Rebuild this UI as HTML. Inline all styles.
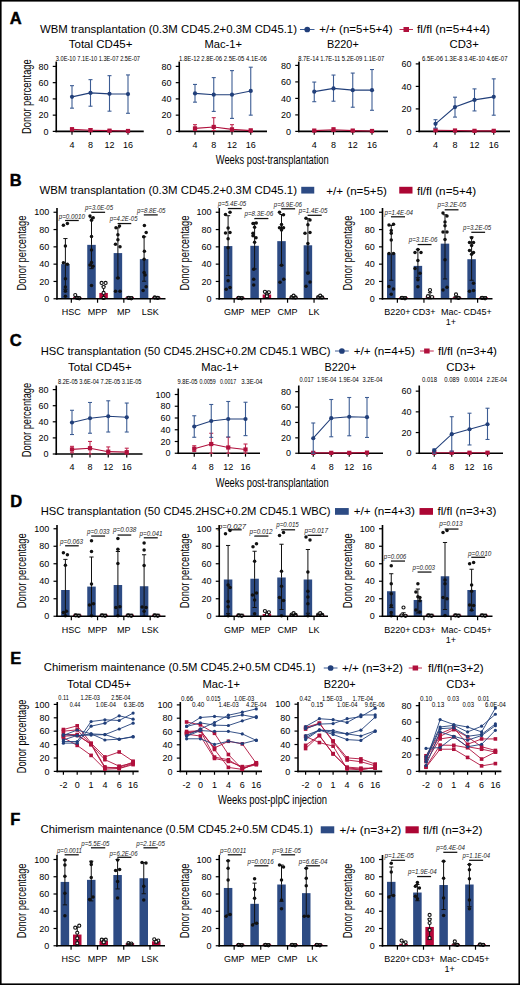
<!DOCTYPE html>
<html><head><meta charset="utf-8"><style>
html,body{margin:0;padding:0;background:#fff;}
svg{display:block;}
text{font-family:"Liberation Sans", sans-serif;}
</style></head><body>
<svg width="520" height="985" viewBox="0 0 520 985">
<rect width="520" height="985" fill="#fff"/>
<rect x="0.8" y="0.8" width="518.4" height="983.4" fill="none" stroke="#000" stroke-width="1.6"/>
<text x="9.8" y="23.5" font-size="16.5" font-weight="bold" fill="#000" stroke="#000" stroke-width="0.45">A</text>
<text x="40" y="33" font-size="11" textLength="257" lengthAdjust="spacingAndGlyphs">WBM transplantation (0.3M CD45.2+0.3M CD45.1)</text>
<line x1="300" y1="29.5" x2="314.5" y2="29.5" stroke="#3d5d94" stroke-width="1.0"/>
<circle cx="307.25" cy="29.5" r="2.85" fill="#213f7a"/>
<text x="319.3" y="33" font-size="11" textLength="73.2" lengthAdjust="spacingAndGlyphs">+/+ (n=5+5+4)</text>
<line x1="399.5" y1="29.5" x2="413" y2="29.5" stroke="#c02a50" stroke-width="1.0"/>
<rect x="403.5" y="27" width="5.5" height="5" fill="#b0103c"/>
<text x="417" y="33" font-size="11" textLength="73" lengthAdjust="spacingAndGlyphs">fl/fl (n=5+4+4)</text>
<text x="68.75" y="48.25" font-size="11" textLength="63.75" lengthAdjust="spacingAndGlyphs">Total CD45+</text>
<text x="204.5" y="48.25" font-size="11" textLength="37.5" lengthAdjust="spacingAndGlyphs">Mac-1+</text>
<text x="327" y="48.25" font-size="11" textLength="31.75" lengthAdjust="spacingAndGlyphs">B220+</text>
<text x="449.5" y="48.25" font-size="11" textLength="29.25" lengthAdjust="spacingAndGlyphs">CD3+</text>
<text x="31.4" y="96.6" font-size="12.5" text-anchor="middle" textLength="74.6" lengthAdjust="spacingAndGlyphs" transform="rotate(-90 31.4 96.6)">Donor percentage</text>
<line x1="56.25" y1="61.6" x2="56.25" y2="132.2" stroke="#000" stroke-width="1.6"/>
<line x1="52.75" y1="131.4" x2="56.25" y2="131.4" stroke="#000" stroke-width="1.2"/>
<text x="48.55" y="134.6" font-size="9" text-anchor="end">0</text>
<line x1="52.75" y1="115.15" x2="56.25" y2="115.15" stroke="#000" stroke-width="1.2"/>
<text x="48.55" y="118.35" font-size="9" text-anchor="end">20</text>
<line x1="52.75" y1="98.9" x2="56.25" y2="98.9" stroke="#000" stroke-width="1.2"/>
<text x="48.55" y="102.1" font-size="9" text-anchor="end">40</text>
<line x1="52.75" y1="82.65" x2="56.25" y2="82.65" stroke="#000" stroke-width="1.2"/>
<text x="48.55" y="85.85" font-size="9" text-anchor="end">60</text>
<line x1="52.75" y1="66.4" x2="56.25" y2="66.4" stroke="#000" stroke-width="1.2"/>
<text x="48.55" y="69.6" font-size="9" text-anchor="end">80</text>
<line x1="55.45" y1="131.4" x2="143.75" y2="131.4" stroke="#000" stroke-width="1.6"/>
<line x1="72" y1="131.4" x2="72" y2="134.8" stroke="#000" stroke-width="1.2"/>
<text x="72" y="147.9" font-size="9" text-anchor="middle">4</text>
<line x1="90.5" y1="131.4" x2="90.5" y2="134.8" stroke="#000" stroke-width="1.2"/>
<text x="90.5" y="147.9" font-size="9" text-anchor="middle">8</text>
<line x1="109.5" y1="131.4" x2="109.5" y2="134.8" stroke="#000" stroke-width="1.2"/>
<text x="109.5" y="147.9" font-size="9" text-anchor="middle">12</text>
<line x1="128" y1="131.4" x2="128" y2="134.8" stroke="#000" stroke-width="1.2"/>
<text x="128" y="147.9" font-size="9" text-anchor="middle">16</text>
<line x1="72" y1="129.37" x2="72" y2="127.74" stroke="#c02a50" stroke-width="1.1"/>
<line x1="70" y1="127.74" x2="74" y2="127.74" stroke="#c02a50" stroke-width="1.1"/>
<line x1="72" y1="129.37" x2="72" y2="130.59" stroke="#c02a50" stroke-width="1.1"/>
<line x1="70" y1="130.59" x2="74" y2="130.59" stroke="#c02a50" stroke-width="1.1"/>
<line x1="90.5" y1="130.18" x2="90.5" y2="128.56" stroke="#c02a50" stroke-width="1.1"/>
<line x1="88.5" y1="128.56" x2="92.5" y2="128.56" stroke="#c02a50" stroke-width="1.1"/>
<line x1="90.5" y1="130.18" x2="90.5" y2="130.99" stroke="#c02a50" stroke-width="1.1"/>
<line x1="88.5" y1="130.99" x2="92.5" y2="130.99" stroke="#c02a50" stroke-width="1.1"/>
<line x1="109.5" y1="130.67" x2="109.5" y2="129.94" stroke="#c02a50" stroke-width="1.1"/>
<line x1="107.5" y1="129.94" x2="111.5" y2="129.94" stroke="#c02a50" stroke-width="1.1"/>
<line x1="109.5" y1="130.67" x2="109.5" y2="131.16" stroke="#c02a50" stroke-width="1.1"/>
<line x1="107.5" y1="131.16" x2="111.5" y2="131.16" stroke="#c02a50" stroke-width="1.1"/>
<line x1="128" y1="130.99" x2="128" y2="130.59" stroke="#c02a50" stroke-width="1.1"/>
<line x1="126" y1="130.59" x2="130" y2="130.59" stroke="#c02a50" stroke-width="1.1"/>
<line x1="128" y1="130.99" x2="128" y2="131.24" stroke="#c02a50" stroke-width="1.1"/>
<line x1="126" y1="131.24" x2="130" y2="131.24" stroke="#c02a50" stroke-width="1.1"/>
<path d="M72,129.37 L90.5,130.18 L109.5,130.67 L128,130.99" stroke="#b0103c" stroke-width="1.1" fill="none"/>
<rect x="69.9" y="127.27" width="4.2" height="4.2" fill="#b0103c"/>
<rect x="88.4" y="128.08" width="4.2" height="4.2" fill="#b0103c"/>
<rect x="107.4" y="128.57" width="4.2" height="4.2" fill="#b0103c"/>
<rect x="125.9" y="128.89" width="4.2" height="4.2" fill="#b0103c"/>
<line x1="72" y1="96.87" x2="72" y2="85.66" stroke="#3d5d94" stroke-width="1.1"/>
<line x1="70" y1="85.66" x2="74" y2="85.66" stroke="#3d5d94" stroke-width="1.1"/>
<line x1="72" y1="96.87" x2="72" y2="108.16" stroke="#3d5d94" stroke-width="1.1"/>
<line x1="70" y1="108.16" x2="74" y2="108.16" stroke="#3d5d94" stroke-width="1.1"/>
<line x1="90.5" y1="92.89" x2="90.5" y2="79.64" stroke="#3d5d94" stroke-width="1.1"/>
<line x1="88.5" y1="79.64" x2="92.5" y2="79.64" stroke="#3d5d94" stroke-width="1.1"/>
<line x1="90.5" y1="92.89" x2="90.5" y2="106.21" stroke="#3d5d94" stroke-width="1.1"/>
<line x1="88.5" y1="106.21" x2="92.5" y2="106.21" stroke="#3d5d94" stroke-width="1.1"/>
<line x1="109.5" y1="93.86" x2="109.5" y2="75.66" stroke="#3d5d94" stroke-width="1.1"/>
<line x1="107.5" y1="75.66" x2="111.5" y2="75.66" stroke="#3d5d94" stroke-width="1.1"/>
<line x1="109.5" y1="93.86" x2="109.5" y2="111.17" stroke="#3d5d94" stroke-width="1.1"/>
<line x1="107.5" y1="111.17" x2="111.5" y2="111.17" stroke="#3d5d94" stroke-width="1.1"/>
<line x1="128" y1="94.03" x2="128" y2="74.93" stroke="#3d5d94" stroke-width="1.1"/>
<line x1="126" y1="74.93" x2="130" y2="74.93" stroke="#3d5d94" stroke-width="1.1"/>
<line x1="128" y1="94.03" x2="128" y2="113.28" stroke="#3d5d94" stroke-width="1.1"/>
<line x1="126" y1="113.28" x2="130" y2="113.28" stroke="#3d5d94" stroke-width="1.1"/>
<path d="M72,96.87 L90.5,92.89 L109.5,93.86 L128,94.03" stroke="#213f7a" stroke-width="1.1" fill="none"/>
<circle cx="72" cy="96.87" r="2.1" fill="#213f7a"/>
<circle cx="90.5" cy="92.89" r="2.1" fill="#213f7a"/>
<circle cx="109.5" cy="93.86" r="2.1" fill="#213f7a"/>
<circle cx="128" cy="94.03" r="2.1" fill="#213f7a"/>
<text x="55.8" y="60.5" font-size="6.6" textLength="84.2" lengthAdjust="spacingAndGlyphs">3.0E-10 7.1E-10 1.3E-07 2.5E-07</text>
<line x1="179.25" y1="61.6" x2="179.25" y2="132.2" stroke="#000" stroke-width="1.6"/>
<line x1="175.75" y1="131.4" x2="179.25" y2="131.4" stroke="#000" stroke-width="1.2"/>
<text x="171.55" y="134.6" font-size="9" text-anchor="end">0</text>
<line x1="175.75" y1="115.15" x2="179.25" y2="115.15" stroke="#000" stroke-width="1.2"/>
<text x="171.55" y="118.35" font-size="9" text-anchor="end">20</text>
<line x1="175.75" y1="98.9" x2="179.25" y2="98.9" stroke="#000" stroke-width="1.2"/>
<text x="171.55" y="102.1" font-size="9" text-anchor="end">40</text>
<line x1="175.75" y1="82.65" x2="179.25" y2="82.65" stroke="#000" stroke-width="1.2"/>
<text x="171.55" y="85.85" font-size="9" text-anchor="end">60</text>
<line x1="175.75" y1="66.4" x2="179.25" y2="66.4" stroke="#000" stroke-width="1.2"/>
<text x="171.55" y="69.6" font-size="9" text-anchor="end">80</text>
<line x1="178.45" y1="131.4" x2="267" y2="131.4" stroke="#000" stroke-width="1.6"/>
<line x1="195" y1="131.4" x2="195" y2="134.8" stroke="#000" stroke-width="1.2"/>
<text x="195" y="147.9" font-size="9" text-anchor="middle">4</text>
<line x1="213.75" y1="131.4" x2="213.75" y2="134.8" stroke="#000" stroke-width="1.2"/>
<text x="213.75" y="147.9" font-size="9" text-anchor="middle">8</text>
<line x1="232" y1="131.4" x2="232" y2="134.8" stroke="#000" stroke-width="1.2"/>
<text x="232" y="147.9" font-size="9" text-anchor="middle">12</text>
<line x1="250.75" y1="131.4" x2="250.75" y2="134.8" stroke="#000" stroke-width="1.2"/>
<text x="250.75" y="147.9" font-size="9" text-anchor="middle">16</text>
<line x1="195" y1="128.39" x2="195" y2="124.66" stroke="#c02a50" stroke-width="1.1"/>
<line x1="193" y1="124.66" x2="197" y2="124.66" stroke="#c02a50" stroke-width="1.1"/>
<line x1="195" y1="128.39" x2="195" y2="130.59" stroke="#c02a50" stroke-width="1.1"/>
<line x1="193" y1="130.59" x2="197" y2="130.59" stroke="#c02a50" stroke-width="1.1"/>
<line x1="213.75" y1="126.93" x2="213.75" y2="117.67" stroke="#c02a50" stroke-width="1.1"/>
<line x1="211.75" y1="117.67" x2="215.75" y2="117.67" stroke="#c02a50" stroke-width="1.1"/>
<line x1="213.75" y1="126.93" x2="213.75" y2="130.59" stroke="#c02a50" stroke-width="1.1"/>
<line x1="211.75" y1="130.59" x2="215.75" y2="130.59" stroke="#c02a50" stroke-width="1.1"/>
<line x1="232" y1="129.37" x2="232" y2="124.66" stroke="#c02a50" stroke-width="1.1"/>
<line x1="230" y1="124.66" x2="234" y2="124.66" stroke="#c02a50" stroke-width="1.1"/>
<line x1="232" y1="129.37" x2="232" y2="130.99" stroke="#c02a50" stroke-width="1.1"/>
<line x1="230" y1="130.99" x2="234" y2="130.99" stroke="#c02a50" stroke-width="1.1"/>
<line x1="250.75" y1="130.59" x2="250.75" y2="128.96" stroke="#c02a50" stroke-width="1.1"/>
<line x1="248.75" y1="128.96" x2="252.75" y2="128.96" stroke="#c02a50" stroke-width="1.1"/>
<line x1="250.75" y1="130.59" x2="250.75" y2="131.16" stroke="#c02a50" stroke-width="1.1"/>
<line x1="248.75" y1="131.16" x2="252.75" y2="131.16" stroke="#c02a50" stroke-width="1.1"/>
<path d="M195,128.39 L213.75,126.93 L232,129.37 L250.75,130.59" stroke="#b0103c" stroke-width="1.1" fill="none"/>
<rect x="192.9" y="126.29" width="4.2" height="4.2" fill="#b0103c"/>
<rect x="211.65" y="124.83" width="4.2" height="4.2" fill="#b0103c"/>
<rect x="229.9" y="127.27" width="4.2" height="4.2" fill="#b0103c"/>
<rect x="248.65" y="128.49" width="4.2" height="4.2" fill="#b0103c"/>
<line x1="195" y1="93.38" x2="195" y2="84.44" stroke="#3d5d94" stroke-width="1.1"/>
<line x1="193" y1="84.44" x2="197" y2="84.44" stroke="#3d5d94" stroke-width="1.1"/>
<line x1="195" y1="93.38" x2="195" y2="102.15" stroke="#3d5d94" stroke-width="1.1"/>
<line x1="193" y1="102.15" x2="197" y2="102.15" stroke="#3d5d94" stroke-width="1.1"/>
<line x1="213.75" y1="94.68" x2="213.75" y2="77.61" stroke="#3d5d94" stroke-width="1.1"/>
<line x1="211.75" y1="77.61" x2="215.75" y2="77.61" stroke="#3d5d94" stroke-width="1.1"/>
<line x1="213.75" y1="94.68" x2="213.75" y2="111.41" stroke="#3d5d94" stroke-width="1.1"/>
<line x1="211.75" y1="111.41" x2="215.75" y2="111.41" stroke="#3d5d94" stroke-width="1.1"/>
<line x1="232" y1="94.68" x2="232" y2="70.62" stroke="#3d5d94" stroke-width="1.1"/>
<line x1="230" y1="70.62" x2="234" y2="70.62" stroke="#3d5d94" stroke-width="1.1"/>
<line x1="232" y1="94.68" x2="232" y2="118.4" stroke="#3d5d94" stroke-width="1.1"/>
<line x1="230" y1="118.4" x2="234" y2="118.4" stroke="#3d5d94" stroke-width="1.1"/>
<line x1="250.75" y1="90.94" x2="250.75" y2="67.21" stroke="#3d5d94" stroke-width="1.1"/>
<line x1="248.75" y1="67.21" x2="252.75" y2="67.21" stroke="#3d5d94" stroke-width="1.1"/>
<line x1="250.75" y1="90.94" x2="250.75" y2="115.15" stroke="#3d5d94" stroke-width="1.1"/>
<line x1="248.75" y1="115.15" x2="252.75" y2="115.15" stroke="#3d5d94" stroke-width="1.1"/>
<path d="M195,93.38 L213.75,94.68 L232,94.68 L250.75,90.94" stroke="#213f7a" stroke-width="1.1" fill="none"/>
<circle cx="195" cy="93.38" r="2.1" fill="#213f7a"/>
<circle cx="213.75" cy="94.68" r="2.1" fill="#213f7a"/>
<circle cx="232" cy="94.68" r="2.1" fill="#213f7a"/>
<circle cx="250.75" cy="90.94" r="2.1" fill="#213f7a"/>
<text x="179" y="60.5" font-size="6.6" textLength="87.75" lengthAdjust="spacingAndGlyphs">1.8E-12 2.8E-06 2.5E-05 4.1E-06</text>
<line x1="298.75" y1="61.6" x2="298.75" y2="132.2" stroke="#000" stroke-width="1.6"/>
<line x1="295.25" y1="131.4" x2="298.75" y2="131.4" stroke="#000" stroke-width="1.2"/>
<text x="291.05" y="134.6" font-size="9" text-anchor="end">0</text>
<line x1="295.25" y1="114.9" x2="298.75" y2="114.9" stroke="#000" stroke-width="1.2"/>
<text x="291.05" y="118.1" font-size="9" text-anchor="end">20</text>
<line x1="295.25" y1="98.4" x2="298.75" y2="98.4" stroke="#000" stroke-width="1.2"/>
<text x="291.05" y="101.6" font-size="9" text-anchor="end">40</text>
<line x1="295.25" y1="81.9" x2="298.75" y2="81.9" stroke="#000" stroke-width="1.2"/>
<text x="291.05" y="85.1" font-size="9" text-anchor="end">60</text>
<line x1="295.25" y1="65.4" x2="298.75" y2="65.4" stroke="#000" stroke-width="1.2"/>
<text x="291.05" y="68.6" font-size="9" text-anchor="end">80</text>
<line x1="297.95" y1="131.4" x2="388" y2="131.4" stroke="#000" stroke-width="1.6"/>
<line x1="314.25" y1="131.4" x2="314.25" y2="134.8" stroke="#000" stroke-width="1.2"/>
<text x="314.25" y="147.9" font-size="9" text-anchor="middle">4</text>
<line x1="333.5" y1="131.4" x2="333.5" y2="134.8" stroke="#000" stroke-width="1.2"/>
<text x="333.5" y="147.9" font-size="9" text-anchor="middle">8</text>
<line x1="352.75" y1="131.4" x2="352.75" y2="134.8" stroke="#000" stroke-width="1.2"/>
<text x="352.75" y="147.9" font-size="9" text-anchor="middle">12</text>
<line x1="372" y1="131.4" x2="372" y2="134.8" stroke="#000" stroke-width="1.2"/>
<text x="372" y="147.9" font-size="9" text-anchor="middle">16</text>
<line x1="314.25" y1="130.58" x2="314.25" y2="130.16" stroke="#c02a50" stroke-width="1.1"/>
<line x1="312.25" y1="130.16" x2="316.25" y2="130.16" stroke="#c02a50" stroke-width="1.1"/>
<line x1="314.25" y1="130.58" x2="314.25" y2="130.99" stroke="#c02a50" stroke-width="1.1"/>
<line x1="312.25" y1="130.99" x2="316.25" y2="130.99" stroke="#c02a50" stroke-width="1.1"/>
<line x1="333.5" y1="129.75" x2="333.5" y2="127.69" stroke="#c02a50" stroke-width="1.1"/>
<line x1="331.5" y1="127.69" x2="335.5" y2="127.69" stroke="#c02a50" stroke-width="1.1"/>
<line x1="333.5" y1="129.75" x2="333.5" y2="130.99" stroke="#c02a50" stroke-width="1.1"/>
<line x1="331.5" y1="130.99" x2="335.5" y2="130.99" stroke="#c02a50" stroke-width="1.1"/>
<line x1="352.75" y1="130.58" x2="352.75" y2="129.75" stroke="#c02a50" stroke-width="1.1"/>
<line x1="350.75" y1="129.75" x2="354.75" y2="129.75" stroke="#c02a50" stroke-width="1.1"/>
<line x1="352.75" y1="130.58" x2="352.75" y2="131.15" stroke="#c02a50" stroke-width="1.1"/>
<line x1="350.75" y1="131.15" x2="354.75" y2="131.15" stroke="#c02a50" stroke-width="1.1"/>
<line x1="372" y1="130.99" x2="372" y2="130.58" stroke="#c02a50" stroke-width="1.1"/>
<line x1="370" y1="130.58" x2="374" y2="130.58" stroke="#c02a50" stroke-width="1.1"/>
<line x1="372" y1="130.99" x2="372" y2="131.24" stroke="#c02a50" stroke-width="1.1"/>
<line x1="370" y1="131.24" x2="374" y2="131.24" stroke="#c02a50" stroke-width="1.1"/>
<path d="M314.25,130.58 L333.5,129.75 L352.75,130.58 L372,130.99" stroke="#b0103c" stroke-width="1.1" fill="none"/>
<rect x="312.15" y="128.48" width="4.2" height="4.2" fill="#b0103c"/>
<rect x="331.4" y="127.65" width="4.2" height="4.2" fill="#b0103c"/>
<rect x="350.65" y="128.48" width="4.2" height="4.2" fill="#b0103c"/>
<rect x="369.9" y="128.89" width="4.2" height="4.2" fill="#b0103c"/>
<line x1="314.25" y1="91.64" x2="314.25" y2="82.07" stroke="#3d5d94" stroke-width="1.1"/>
<line x1="312.25" y1="82.07" x2="316.25" y2="82.07" stroke="#3d5d94" stroke-width="1.1"/>
<line x1="314.25" y1="91.64" x2="314.25" y2="101.7" stroke="#3d5d94" stroke-width="1.1"/>
<line x1="312.25" y1="101.7" x2="316.25" y2="101.7" stroke="#3d5d94" stroke-width="1.1"/>
<line x1="333.5" y1="88.42" x2="333.5" y2="75.05" stroke="#3d5d94" stroke-width="1.1"/>
<line x1="331.5" y1="75.05" x2="335.5" y2="75.05" stroke="#3d5d94" stroke-width="1.1"/>
<line x1="333.5" y1="88.42" x2="333.5" y2="101.21" stroke="#3d5d94" stroke-width="1.1"/>
<line x1="331.5" y1="101.21" x2="335.5" y2="101.21" stroke="#3d5d94" stroke-width="1.1"/>
<line x1="352.75" y1="90.15" x2="352.75" y2="73.07" stroke="#3d5d94" stroke-width="1.1"/>
<line x1="350.75" y1="73.07" x2="354.75" y2="73.07" stroke="#3d5d94" stroke-width="1.1"/>
<line x1="352.75" y1="90.15" x2="352.75" y2="107.23" stroke="#3d5d94" stroke-width="1.1"/>
<line x1="350.75" y1="107.23" x2="354.75" y2="107.23" stroke="#3d5d94" stroke-width="1.1"/>
<line x1="372" y1="90.15" x2="372" y2="69.53" stroke="#3d5d94" stroke-width="1.1"/>
<line x1="370" y1="69.53" x2="374" y2="69.53" stroke="#3d5d94" stroke-width="1.1"/>
<line x1="372" y1="90.15" x2="372" y2="110.28" stroke="#3d5d94" stroke-width="1.1"/>
<line x1="370" y1="110.28" x2="374" y2="110.28" stroke="#3d5d94" stroke-width="1.1"/>
<path d="M314.25,91.64 L333.5,88.42 L352.75,90.15 L372,90.15" stroke="#213f7a" stroke-width="1.1" fill="none"/>
<circle cx="314.25" cy="91.64" r="2.1" fill="#213f7a"/>
<circle cx="333.5" cy="88.42" r="2.1" fill="#213f7a"/>
<circle cx="352.75" cy="90.15" r="2.1" fill="#213f7a"/>
<circle cx="372" cy="90.15" r="2.1" fill="#213f7a"/>
<text x="298.25" y="60.5" font-size="6.6" textLength="86" lengthAdjust="spacingAndGlyphs">8.7E-14 1.7E-11 5.2E-09 1.1E-07</text>
<line x1="419.25" y1="61.6" x2="419.25" y2="132.2" stroke="#000" stroke-width="1.6"/>
<line x1="415.75" y1="131.4" x2="419.25" y2="131.4" stroke="#000" stroke-width="1.2"/>
<text x="411.55" y="134.6" font-size="9" text-anchor="end">0</text>
<line x1="415.75" y1="108.9" x2="419.25" y2="108.9" stroke="#000" stroke-width="1.2"/>
<text x="411.55" y="112.1" font-size="9" text-anchor="end">20</text>
<line x1="415.75" y1="86.4" x2="419.25" y2="86.4" stroke="#000" stroke-width="1.2"/>
<text x="411.55" y="89.6" font-size="9" text-anchor="end">40</text>
<line x1="415.75" y1="63.9" x2="419.25" y2="63.9" stroke="#000" stroke-width="1.2"/>
<text x="411.55" y="67.1" font-size="9" text-anchor="end">60</text>
<line x1="418.45" y1="131.4" x2="510" y2="131.4" stroke="#000" stroke-width="1.6"/>
<line x1="435.5" y1="131.4" x2="435.5" y2="134.8" stroke="#000" stroke-width="1.2"/>
<text x="435.5" y="147.9" font-size="9" text-anchor="middle">4</text>
<line x1="455" y1="131.4" x2="455" y2="134.8" stroke="#000" stroke-width="1.2"/>
<text x="455" y="147.9" font-size="9" text-anchor="middle">8</text>
<line x1="474.5" y1="131.4" x2="474.5" y2="134.8" stroke="#000" stroke-width="1.2"/>
<text x="474.5" y="147.9" font-size="9" text-anchor="middle">12</text>
<line x1="493.75" y1="131.4" x2="493.75" y2="134.8" stroke="#000" stroke-width="1.2"/>
<text x="493.75" y="147.9" font-size="9" text-anchor="middle">16</text>
<line x1="435.5" y1="130.28" x2="435.5" y2="129.15" stroke="#c02a50" stroke-width="1.1"/>
<line x1="433.5" y1="129.15" x2="437.5" y2="129.15" stroke="#c02a50" stroke-width="1.1"/>
<line x1="435.5" y1="130.28" x2="435.5" y2="131.06" stroke="#c02a50" stroke-width="1.1"/>
<line x1="433.5" y1="131.06" x2="437.5" y2="131.06" stroke="#c02a50" stroke-width="1.1"/>
<line x1="455" y1="130.5" x2="455" y2="129.71" stroke="#c02a50" stroke-width="1.1"/>
<line x1="453" y1="129.71" x2="457" y2="129.71" stroke="#c02a50" stroke-width="1.1"/>
<line x1="455" y1="130.5" x2="455" y2="131.06" stroke="#c02a50" stroke-width="1.1"/>
<line x1="453" y1="131.06" x2="457" y2="131.06" stroke="#c02a50" stroke-width="1.1"/>
<line x1="474.5" y1="130.84" x2="474.5" y2="130.28" stroke="#c02a50" stroke-width="1.1"/>
<line x1="472.5" y1="130.28" x2="476.5" y2="130.28" stroke="#c02a50" stroke-width="1.1"/>
<line x1="474.5" y1="130.84" x2="474.5" y2="131.18" stroke="#c02a50" stroke-width="1.1"/>
<line x1="472.5" y1="131.18" x2="476.5" y2="131.18" stroke="#c02a50" stroke-width="1.1"/>
<line x1="493.75" y1="130.84" x2="493.75" y2="130.28" stroke="#c02a50" stroke-width="1.1"/>
<line x1="491.75" y1="130.28" x2="495.75" y2="130.28" stroke="#c02a50" stroke-width="1.1"/>
<line x1="493.75" y1="130.84" x2="493.75" y2="131.18" stroke="#c02a50" stroke-width="1.1"/>
<line x1="491.75" y1="131.18" x2="495.75" y2="131.18" stroke="#c02a50" stroke-width="1.1"/>
<path d="M435.5,130.28 L455,130.5 L474.5,130.84 L493.75,130.84" stroke="#b0103c" stroke-width="1.1" fill="none"/>
<rect x="433.4" y="128.18" width="4.2" height="4.2" fill="#b0103c"/>
<rect x="452.9" y="128.4" width="4.2" height="4.2" fill="#b0103c"/>
<rect x="472.4" y="128.74" width="4.2" height="4.2" fill="#b0103c"/>
<rect x="491.65" y="128.74" width="4.2" height="4.2" fill="#b0103c"/>
<line x1="435.5" y1="123.86" x2="435.5" y2="119.7" stroke="#3d5d94" stroke-width="1.1"/>
<line x1="433.5" y1="119.7" x2="437.5" y2="119.7" stroke="#3d5d94" stroke-width="1.1"/>
<line x1="435.5" y1="123.86" x2="435.5" y2="128.03" stroke="#3d5d94" stroke-width="1.1"/>
<line x1="433.5" y1="128.03" x2="437.5" y2="128.03" stroke="#3d5d94" stroke-width="1.1"/>
<line x1="455" y1="107.1" x2="455" y2="97.2" stroke="#3d5d94" stroke-width="1.1"/>
<line x1="453" y1="97.2" x2="457" y2="97.2" stroke="#3d5d94" stroke-width="1.1"/>
<line x1="455" y1="107.1" x2="455" y2="117.11" stroke="#3d5d94" stroke-width="1.1"/>
<line x1="453" y1="117.11" x2="457" y2="117.11" stroke="#3d5d94" stroke-width="1.1"/>
<line x1="474.5" y1="99.9" x2="474.5" y2="88.88" stroke="#3d5d94" stroke-width="1.1"/>
<line x1="472.5" y1="88.88" x2="476.5" y2="88.88" stroke="#3d5d94" stroke-width="1.1"/>
<line x1="474.5" y1="99.9" x2="474.5" y2="110.93" stroke="#3d5d94" stroke-width="1.1"/>
<line x1="472.5" y1="110.93" x2="476.5" y2="110.93" stroke="#3d5d94" stroke-width="1.1"/>
<line x1="493.75" y1="96.86" x2="493.75" y2="78.86" stroke="#3d5d94" stroke-width="1.1"/>
<line x1="491.75" y1="78.86" x2="495.75" y2="78.86" stroke="#3d5d94" stroke-width="1.1"/>
<line x1="493.75" y1="96.86" x2="493.75" y2="115.2" stroke="#3d5d94" stroke-width="1.1"/>
<line x1="491.75" y1="115.2" x2="495.75" y2="115.2" stroke="#3d5d94" stroke-width="1.1"/>
<path d="M435.5,123.86 L455,107.1 L474.5,99.9 L493.75,96.86" stroke="#213f7a" stroke-width="1.1" fill="none"/>
<circle cx="435.5" cy="123.86" r="2.1" fill="#213f7a"/>
<circle cx="455" cy="107.1" r="2.1" fill="#213f7a"/>
<circle cx="474.5" cy="99.9" r="2.1" fill="#213f7a"/>
<circle cx="493.75" cy="96.86" r="2.1" fill="#213f7a"/>
<text x="422" y="60.5" font-size="6.6" textLength="85.5" lengthAdjust="spacingAndGlyphs">6.5E-06 1.3E-8 3.4E-10 4.6E-07</text>
<text x="215.75" y="163.75" font-size="12" textLength="113" lengthAdjust="spacingAndGlyphs">Weeks post-transplantation</text>
<text x="9.8" y="185.8" font-size="16.5" font-weight="bold" fill="#000" stroke="#000" stroke-width="0.45">B</text>
<text x="39.5" y="194.3" font-size="11" textLength="257.5" lengthAdjust="spacingAndGlyphs">WBM transplantation (0.3M CD45.2+0.3M CD45.1)</text>
<rect x="301.25" y="186.8" width="13" height="6.75" fill="#2d4b84"/>
<text x="326.25" y="194.5" font-size="11" textLength="60.75" lengthAdjust="spacingAndGlyphs">+/+ (n=5+5)</text>
<rect x="399.25" y="186.8" width="13.25" height="6.75" fill="#ac0634"/>
<text x="417" y="194.5" font-size="11" textLength="59.25" lengthAdjust="spacingAndGlyphs">fl/fl (n=5+4)</text>
<text x="26" y="253" font-size="12" text-anchor="middle" textLength="75" lengthAdjust="spacingAndGlyphs" transform="rotate(-90 26 253)">Donor percentage</text>
<line x1="57" y1="208" x2="57" y2="299.55" stroke="#000" stroke-width="1.6"/>
<line x1="53.5" y1="298.75" x2="57" y2="298.75" stroke="#000" stroke-width="1.2"/>
<text x="49.3" y="301.95" font-size="9" text-anchor="end">0</text>
<line x1="53.5" y1="281.45" x2="57" y2="281.45" stroke="#000" stroke-width="1.2"/>
<text x="49.3" y="284.65" font-size="9" text-anchor="end">20</text>
<line x1="53.5" y1="264.15" x2="57" y2="264.15" stroke="#000" stroke-width="1.2"/>
<text x="49.3" y="267.35" font-size="9" text-anchor="end">40</text>
<line x1="53.5" y1="246.85" x2="57" y2="246.85" stroke="#000" stroke-width="1.2"/>
<text x="49.3" y="250.05" font-size="9" text-anchor="end">60</text>
<line x1="53.5" y1="229.55" x2="57" y2="229.55" stroke="#000" stroke-width="1.2"/>
<text x="49.3" y="232.75" font-size="9" text-anchor="end">80</text>
<line x1="53.5" y1="212.25" x2="57" y2="212.25" stroke="#000" stroke-width="1.2"/>
<text x="49.3" y="215.45" font-size="9" text-anchor="end">100</text>
<rect x="61.15" y="264.15" width="8.5" height="34.6" fill="#2d4b84"/>
<line x1="65.4" y1="264.15" x2="65.4" y2="238.55" stroke="#111" stroke-width="1.0"/>
<line x1="63.3" y1="238.55" x2="67.5" y2="238.55" stroke="#111" stroke-width="1.0"/>
<line x1="65.4" y1="264.15" x2="65.4" y2="289.24" stroke="#111" stroke-width="1.0"/>
<line x1="63.3" y1="289.24" x2="67.5" y2="289.24" stroke="#111" stroke-width="1.0"/>
<circle cx="63.4" cy="225.22" r="1.75" fill="#111"/>
<circle cx="67.4" cy="223.5" r="1.75" fill="#111"/>
<circle cx="65.4" cy="245.99" r="1.75" fill="#111"/>
<circle cx="63.4" cy="262.85" r="1.75" fill="#111"/>
<circle cx="67.4" cy="264.15" r="1.75" fill="#111"/>
<circle cx="65.4" cy="278.86" r="1.75" fill="#111"/>
<circle cx="65.4" cy="286.99" r="1.75" fill="#111"/>
<circle cx="65.4" cy="291.22" r="1.75" fill="#111"/>
<circle cx="65.4" cy="296.24" r="1.75" fill="#111"/>
<rect x="73" y="297.15" width="8.5" height="1.6" fill="#b5073a"/>
<line x1="77.25" y1="297.15" x2="77.25" y2="297.02" stroke="#111" stroke-width="1.0"/>
<line x1="75.15" y1="297.02" x2="79.35" y2="297.02" stroke="#111" stroke-width="1.0"/>
<line x1="77.25" y1="297.15" x2="77.25" y2="298.75" stroke="#111" stroke-width="1.0"/>
<line x1="75.15" y1="298.75" x2="79.35" y2="298.75" stroke="#111" stroke-width="1.0"/>
<circle cx="75.25" cy="295.03" r="1.55" fill="#fff" stroke="#111" stroke-width="1.1"/>
<circle cx="77.25" cy="297.88" r="1.55" fill="#fff" stroke="#111" stroke-width="1.1"/>
<circle cx="79.25" cy="298.32" r="1.55" fill="#fff" stroke="#111" stroke-width="1.1"/>
<line x1="73.85" y1="296.85" x2="80.65" y2="296.85" stroke="#111" stroke-width="1.4"/>
<line x1="71.33" y1="298.75" x2="71.33" y2="302.75" stroke="#000" stroke-width="1.2"/>
<text x="71.33" y="315.25" font-size="9" text-anchor="middle">HSC</text>
<text x="58.75" y="218.9" font-size="6.3" font-style="italic" fill="#222" textLength="26.25" lengthAdjust="spacingAndGlyphs">p=0.0010</text>
<line x1="65.1" y1="220.5" x2="78.75" y2="220.5" stroke="#111" stroke-width="1.25"/>
<rect x="87.25" y="244.86" width="8.5" height="53.89" fill="#2d4b84"/>
<line x1="91.5" y1="244.86" x2="91.5" y2="217.79" stroke="#111" stroke-width="1.0"/>
<line x1="89.4" y1="217.79" x2="93.6" y2="217.79" stroke="#111" stroke-width="1.0"/>
<line x1="91.5" y1="244.86" x2="91.5" y2="268.65" stroke="#111" stroke-width="1.0"/>
<line x1="89.4" y1="268.65" x2="93.6" y2="268.65" stroke="#111" stroke-width="1.0"/>
<circle cx="90" cy="216.06" r="1.75" fill="#111"/>
<circle cx="93.2" cy="217.79" r="1.75" fill="#111"/>
<circle cx="91.5" cy="220.29" r="1.75" fill="#111"/>
<circle cx="91.5" cy="236.56" r="1.75" fill="#111"/>
<circle cx="91.5" cy="249.88" r="1.75" fill="#111"/>
<circle cx="91.5" cy="262.42" r="1.75" fill="#111"/>
<circle cx="90" cy="264.93" r="1.75" fill="#111"/>
<circle cx="93" cy="266.14" r="1.75" fill="#111"/>
<circle cx="91.5" cy="285.43" r="1.75" fill="#111"/>
<rect x="99.35" y="292.95" width="8.5" height="5.8" fill="#b5073a"/>
<line x1="103.6" y1="292.95" x2="103.6" y2="286.21" stroke="#111" stroke-width="1.0"/>
<line x1="101.5" y1="286.21" x2="105.7" y2="286.21" stroke="#111" stroke-width="1.0"/>
<line x1="103.6" y1="292.95" x2="103.6" y2="298.75" stroke="#111" stroke-width="1.0"/>
<line x1="101.5" y1="298.75" x2="105.7" y2="298.75" stroke="#111" stroke-width="1.0"/>
<circle cx="101.6" cy="282.92" r="1.55" fill="#fff" stroke="#111" stroke-width="1.1"/>
<circle cx="105.6" cy="282.92" r="1.55" fill="#fff" stroke="#111" stroke-width="1.1"/>
<circle cx="103.6" cy="286.99" r="1.55" fill="#fff" stroke="#111" stroke-width="1.1"/>
<circle cx="103.6" cy="292.95" r="1.55" fill="#fff" stroke="#111" stroke-width="1.1"/>
<circle cx="103.6" cy="297.88" r="1.55" fill="#fff" stroke="#111" stroke-width="1.1"/>
<line x1="97.55" y1="298.75" x2="97.55" y2="302.75" stroke="#000" stroke-width="1.2"/>
<text x="97.55" y="315.25" font-size="9" text-anchor="middle">MPP</text>
<text x="85" y="209.9" font-size="6.3" font-style="italic" fill="#222" textLength="28" lengthAdjust="spacingAndGlyphs">p=3.0E-05</text>
<line x1="91.2" y1="212.3" x2="105.1" y2="212.3" stroke="#111" stroke-width="1.25"/>
<rect x="113.65" y="253.08" width="8.5" height="45.67" fill="#2d4b84"/>
<line x1="117.9" y1="253.08" x2="117.9" y2="227.82" stroke="#111" stroke-width="1.0"/>
<line x1="115.8" y1="227.82" x2="120" y2="227.82" stroke="#111" stroke-width="1.0"/>
<line x1="117.9" y1="253.08" x2="117.9" y2="277.99" stroke="#111" stroke-width="1.0"/>
<line x1="115.8" y1="277.99" x2="120" y2="277.99" stroke="#111" stroke-width="1.0"/>
<circle cx="116" cy="227.82" r="1.75" fill="#111"/>
<circle cx="119.5" cy="226.09" r="1.75" fill="#111"/>
<circle cx="117.9" cy="234.74" r="1.75" fill="#111"/>
<circle cx="117.9" cy="239.84" r="1.75" fill="#111"/>
<circle cx="115.5" cy="244.34" r="1.75" fill="#111"/>
<circle cx="120" cy="246.85" r="1.75" fill="#111"/>
<circle cx="117.9" cy="277.99" r="1.75" fill="#111"/>
<circle cx="115.5" cy="291.22" r="1.75" fill="#111"/>
<circle cx="120" cy="291.22" r="1.75" fill="#111"/>
<rect x="125.5" y="297.15" width="8.5" height="1.6" fill="#b5073a"/>
<line x1="129.75" y1="297.15" x2="129.75" y2="297.45" stroke="#111" stroke-width="1.0"/>
<line x1="127.65" y1="297.45" x2="131.85" y2="297.45" stroke="#111" stroke-width="1.0"/>
<line x1="129.75" y1="297.15" x2="129.75" y2="298.75" stroke="#111" stroke-width="1.0"/>
<line x1="127.65" y1="298.75" x2="131.85" y2="298.75" stroke="#111" stroke-width="1.0"/>
<circle cx="128.75" cy="297.88" r="1.55" fill="#fff" stroke="#111" stroke-width="1.1"/>
<circle cx="131.25" cy="298.32" r="1.55" fill="#fff" stroke="#111" stroke-width="1.1"/>
<line x1="126.35" y1="296.85" x2="133.15" y2="296.85" stroke="#111" stroke-width="1.4"/>
<line x1="123.83" y1="298.75" x2="123.83" y2="302.75" stroke="#000" stroke-width="1.2"/>
<text x="123.83" y="315.25" font-size="9" text-anchor="middle">MP</text>
<text x="109.75" y="221.3" font-size="6.3" font-style="italic" fill="#222" textLength="27.75" lengthAdjust="spacingAndGlyphs">p=4.2E-05</text>
<line x1="117.6" y1="223.55" x2="131.25" y2="223.55" stroke="#111" stroke-width="1.25"/>
<rect x="139.85" y="259.13" width="8.5" height="39.62" fill="#2d4b84"/>
<line x1="144.1" y1="259.13" x2="144.1" y2="236.82" stroke="#111" stroke-width="1.0"/>
<line x1="142" y1="236.82" x2="146.2" y2="236.82" stroke="#111" stroke-width="1.0"/>
<line x1="144.1" y1="259.13" x2="144.1" y2="281.19" stroke="#111" stroke-width="1.0"/>
<line x1="142" y1="281.19" x2="146.2" y2="281.19" stroke="#111" stroke-width="1.0"/>
<circle cx="144.4" cy="225.4" r="1.75" fill="#111"/>
<circle cx="146.2" cy="232.58" r="1.75" fill="#111"/>
<circle cx="143.7" cy="236.73" r="1.75" fill="#111"/>
<circle cx="144.4" cy="251.18" r="1.75" fill="#111"/>
<circle cx="144.1" cy="259.13" r="1.75" fill="#111"/>
<circle cx="144.1" cy="272.45" r="1.75" fill="#111"/>
<circle cx="145.1" cy="274.96" r="1.75" fill="#111"/>
<circle cx="146.1" cy="286.64" r="1.75" fill="#111"/>
<circle cx="143.1" cy="290.45" r="1.75" fill="#111"/>
<rect x="152" y="297.15" width="8.5" height="1.6" fill="#b5073a"/>
<line x1="156.25" y1="297.15" x2="156.25" y2="297.02" stroke="#111" stroke-width="1.0"/>
<line x1="154.15" y1="297.02" x2="158.35" y2="297.02" stroke="#111" stroke-width="1.0"/>
<line x1="156.25" y1="297.15" x2="156.25" y2="298.75" stroke="#111" stroke-width="1.0"/>
<line x1="154.15" y1="298.75" x2="158.35" y2="298.75" stroke="#111" stroke-width="1.0"/>
<circle cx="154.75" cy="297.45" r="1.55" fill="#fff" stroke="#111" stroke-width="1.1"/>
<circle cx="157.75" cy="297.88" r="1.55" fill="#fff" stroke="#111" stroke-width="1.1"/>
<line x1="152.85" y1="296.85" x2="159.65" y2="296.85" stroke="#111" stroke-width="1.4"/>
<line x1="150.18" y1="298.75" x2="150.18" y2="302.75" stroke="#000" stroke-width="1.2"/>
<text x="150.18" y="315.25" font-size="9" text-anchor="middle">LSK</text>
<text x="137" y="213.15" font-size="6.3" font-style="italic" fill="#222" textLength="28.5" lengthAdjust="spacingAndGlyphs">p=8.8E-05</text>
<line x1="143.8" y1="214.9" x2="157.75" y2="214.9" stroke="#111" stroke-width="1.25"/>
<line x1="56.2" y1="298.75" x2="165.5" y2="298.75" stroke="#000" stroke-width="1.6"/>
<text x="188.8" y="253" font-size="12" text-anchor="middle" textLength="75" lengthAdjust="spacingAndGlyphs" transform="rotate(-90 188.8 253)">Donor percentage</text>
<line x1="219.25" y1="208" x2="219.25" y2="299.55" stroke="#000" stroke-width="1.6"/>
<line x1="215.75" y1="298.75" x2="219.25" y2="298.75" stroke="#000" stroke-width="1.2"/>
<text x="211.55" y="301.95" font-size="9" text-anchor="end">0</text>
<line x1="215.75" y1="281.45" x2="219.25" y2="281.45" stroke="#000" stroke-width="1.2"/>
<text x="211.55" y="284.65" font-size="9" text-anchor="end">20</text>
<line x1="215.75" y1="264.15" x2="219.25" y2="264.15" stroke="#000" stroke-width="1.2"/>
<text x="211.55" y="267.35" font-size="9" text-anchor="end">40</text>
<line x1="215.75" y1="246.85" x2="219.25" y2="246.85" stroke="#000" stroke-width="1.2"/>
<text x="211.55" y="250.05" font-size="9" text-anchor="end">60</text>
<line x1="215.75" y1="229.55" x2="219.25" y2="229.55" stroke="#000" stroke-width="1.2"/>
<text x="211.55" y="232.75" font-size="9" text-anchor="end">80</text>
<line x1="215.75" y1="212.25" x2="219.25" y2="212.25" stroke="#000" stroke-width="1.2"/>
<text x="211.55" y="215.45" font-size="9" text-anchor="end">100</text>
<rect x="223.85" y="246.07" width="8.5" height="52.68" fill="#2d4b84"/>
<line x1="228.1" y1="246.07" x2="228.1" y2="215.71" stroke="#111" stroke-width="1.0"/>
<line x1="226" y1="215.71" x2="230.2" y2="215.71" stroke="#111" stroke-width="1.0"/>
<line x1="228.1" y1="246.07" x2="228.1" y2="275.65" stroke="#111" stroke-width="1.0"/>
<line x1="226" y1="275.65" x2="230.2" y2="275.65" stroke="#111" stroke-width="1.0"/>
<circle cx="225.5" cy="214.5" r="1.75" fill="#111"/>
<circle cx="230" cy="212.25" r="1.75" fill="#111"/>
<circle cx="228.1" cy="227.91" r="1.75" fill="#111"/>
<circle cx="225.5" cy="232.92" r="1.75" fill="#111"/>
<circle cx="230" cy="232.4" r="1.75" fill="#111"/>
<circle cx="228.1" cy="238.63" r="1.75" fill="#111"/>
<circle cx="228.1" cy="247.8" r="1.75" fill="#111"/>
<circle cx="228.1" cy="280.84" r="1.75" fill="#111"/>
<circle cx="226.2" cy="289.32" r="1.75" fill="#111"/>
<circle cx="230" cy="287.59" r="1.75" fill="#111"/>
<rect x="235.95" y="297.15" width="8.5" height="1.6" fill="#b5073a"/>
<line x1="240.2" y1="297.15" x2="240.2" y2="297.71" stroke="#111" stroke-width="1.0"/>
<line x1="238.1" y1="297.71" x2="242.3" y2="297.71" stroke="#111" stroke-width="1.0"/>
<line x1="240.2" y1="297.15" x2="240.2" y2="298.75" stroke="#111" stroke-width="1.0"/>
<line x1="238.1" y1="298.75" x2="242.3" y2="298.75" stroke="#111" stroke-width="1.0"/>
<circle cx="238.7" cy="297.88" r="1.55" fill="#fff" stroke="#111" stroke-width="1.1"/>
<circle cx="241.7" cy="298.32" r="1.55" fill="#fff" stroke="#111" stroke-width="1.1"/>
<line x1="236.8" y1="296.85" x2="243.6" y2="296.85" stroke="#111" stroke-width="1.4"/>
<line x1="234.15" y1="298.75" x2="234.15" y2="302.75" stroke="#000" stroke-width="1.2"/>
<text x="234.15" y="315.25" font-size="9" text-anchor="middle">GMP</text>
<text x="218" y="206.15" font-size="6.3" font-style="italic" fill="#222" textLength="28.25" lengthAdjust="spacingAndGlyphs">p=5.4E-05</text>
<line x1="227.8" y1="208.55" x2="241.7" y2="208.55" stroke="#111" stroke-width="1.25"/>
<rect x="250.35" y="245.81" width="8.5" height="52.94" fill="#2d4b84"/>
<line x1="254.6" y1="245.81" x2="254.6" y2="222.46" stroke="#111" stroke-width="1.0"/>
<line x1="252.5" y1="222.46" x2="256.7" y2="222.46" stroke="#111" stroke-width="1.0"/>
<line x1="254.6" y1="245.81" x2="254.6" y2="268.91" stroke="#111" stroke-width="1.0"/>
<line x1="252.5" y1="268.91" x2="256.7" y2="268.91" stroke="#111" stroke-width="1.0"/>
<circle cx="253" cy="223.5" r="1.75" fill="#111"/>
<circle cx="256.25" cy="222.98" r="1.75" fill="#111"/>
<circle cx="254.6" cy="227.13" r="1.75" fill="#111"/>
<circle cx="253" cy="233.36" r="1.75" fill="#111"/>
<circle cx="253" cy="235.86" r="1.75" fill="#111"/>
<circle cx="256" cy="237.85" r="1.75" fill="#111"/>
<circle cx="254.6" cy="242.35" r="1.75" fill="#111"/>
<circle cx="253.7" cy="269.34" r="1.75" fill="#111"/>
<circle cx="253.7" cy="279.2" r="1.75" fill="#111"/>
<circle cx="253.7" cy="285.08" r="1.75" fill="#111"/>
<rect x="262.65" y="294.51" width="8.5" height="4.24" fill="#b5073a"/>
<line x1="266.9" y1="294.51" x2="266.9" y2="291.31" stroke="#111" stroke-width="1.0"/>
<line x1="264.8" y1="291.31" x2="269" y2="291.31" stroke="#111" stroke-width="1.0"/>
<line x1="266.9" y1="294.51" x2="266.9" y2="297.71" stroke="#111" stroke-width="1.0"/>
<line x1="264.8" y1="297.71" x2="269" y2="297.71" stroke="#111" stroke-width="1.0"/>
<circle cx="264.9" cy="291.83" r="1.55" fill="#fff" stroke="#111" stroke-width="1.1"/>
<circle cx="268.9" cy="292.26" r="1.55" fill="#fff" stroke="#111" stroke-width="1.1"/>
<circle cx="266.9" cy="294.43" r="1.55" fill="#fff" stroke="#111" stroke-width="1.1"/>
<circle cx="266.9" cy="296.15" r="1.55" fill="#fff" stroke="#111" stroke-width="1.1"/>
<line x1="260.75" y1="298.75" x2="260.75" y2="302.75" stroke="#000" stroke-width="1.2"/>
<text x="260.75" y="315.25" font-size="9" text-anchor="middle">MEP</text>
<text x="244.5" y="216.15" font-size="6.3" font-style="italic" fill="#222" textLength="28.75" lengthAdjust="spacingAndGlyphs">p=8.3E-06</text>
<line x1="254.3" y1="218.55" x2="268.4" y2="218.55" stroke="#111" stroke-width="1.25"/>
<rect x="277.25" y="241.14" width="8.5" height="57.61" fill="#2d4b84"/>
<line x1="281.5" y1="241.14" x2="281.5" y2="214.5" stroke="#111" stroke-width="1.0"/>
<line x1="279.4" y1="214.5" x2="283.6" y2="214.5" stroke="#111" stroke-width="1.0"/>
<line x1="281.5" y1="241.14" x2="281.5" y2="265.19" stroke="#111" stroke-width="1.0"/>
<line x1="279.4" y1="265.19" x2="283.6" y2="265.19" stroke="#111" stroke-width="1.0"/>
<circle cx="279.5" cy="212.25" r="1.75" fill="#111"/>
<circle cx="283.5" cy="214.84" r="1.75" fill="#111"/>
<circle cx="281.5" cy="224.62" r="1.75" fill="#111"/>
<circle cx="279.5" cy="227.82" r="1.75" fill="#111"/>
<circle cx="283.5" cy="227.82" r="1.75" fill="#111"/>
<circle cx="281.5" cy="229.9" r="1.75" fill="#111"/>
<circle cx="281.5" cy="265.19" r="1.75" fill="#111"/>
<circle cx="280" cy="282.14" r="1.75" fill="#111"/>
<circle cx="283.75" cy="279.37" r="1.75" fill="#111"/>
<rect x="289.35" y="297.15" width="8.5" height="1.6" fill="#b5073a"/>
<line x1="293.6" y1="297.15" x2="293.6" y2="296.15" stroke="#111" stroke-width="1.0"/>
<line x1="291.5" y1="296.15" x2="295.7" y2="296.15" stroke="#111" stroke-width="1.0"/>
<line x1="293.6" y1="297.15" x2="293.6" y2="298.75" stroke="#111" stroke-width="1.0"/>
<line x1="291.5" y1="298.75" x2="295.7" y2="298.75" stroke="#111" stroke-width="1.0"/>
<circle cx="291.6" cy="297.02" r="1.55" fill="#fff" stroke="#111" stroke-width="1.1"/>
<circle cx="293.6" cy="295.72" r="1.55" fill="#fff" stroke="#111" stroke-width="1.1"/>
<circle cx="295.6" cy="297.45" r="1.55" fill="#fff" stroke="#111" stroke-width="1.1"/>
<line x1="290.2" y1="296.85" x2="297" y2="296.85" stroke="#111" stroke-width="1.4"/>
<line x1="287.55" y1="298.75" x2="287.55" y2="302.75" stroke="#000" stroke-width="1.2"/>
<text x="287.55" y="315.25" font-size="9" text-anchor="middle">CMP</text>
<text x="273.75" y="206.9" font-size="6.3" font-style="italic" fill="#222" textLength="28.25" lengthAdjust="spacingAndGlyphs">p=6.9E-06</text>
<line x1="281.2" y1="208.8" x2="295.1" y2="208.8" stroke="#111" stroke-width="1.25"/>
<rect x="303.65" y="245.29" width="8.5" height="53.46" fill="#2d4b84"/>
<line x1="307.9" y1="245.29" x2="307.9" y2="218.74" stroke="#111" stroke-width="1.0"/>
<line x1="305.8" y1="218.74" x2="310" y2="218.74" stroke="#111" stroke-width="1.0"/>
<line x1="307.9" y1="245.29" x2="307.9" y2="272.19" stroke="#111" stroke-width="1.0"/>
<line x1="305.8" y1="272.19" x2="310" y2="272.19" stroke="#111" stroke-width="1.0"/>
<circle cx="306" cy="218.31" r="1.75" fill="#111"/>
<circle cx="310" cy="220.03" r="1.75" fill="#111"/>
<circle cx="307.9" cy="224.79" r="1.75" fill="#111"/>
<circle cx="305" cy="233.36" r="1.75" fill="#111"/>
<circle cx="310" cy="232.4" r="1.75" fill="#111"/>
<circle cx="307.9" cy="243.56" r="1.75" fill="#111"/>
<circle cx="307.9" cy="273.15" r="1.75" fill="#111"/>
<circle cx="306" cy="286.29" r="1.75" fill="#111"/>
<circle cx="310" cy="282.06" r="1.75" fill="#111"/>
<rect x="315.95" y="297.15" width="8.5" height="1.6" fill="#b5073a"/>
<line x1="320.2" y1="297.15" x2="320.2" y2="296.15" stroke="#111" stroke-width="1.0"/>
<line x1="318.1" y1="296.15" x2="322.3" y2="296.15" stroke="#111" stroke-width="1.0"/>
<line x1="320.2" y1="297.15" x2="320.2" y2="298.75" stroke="#111" stroke-width="1.0"/>
<line x1="318.1" y1="298.75" x2="322.3" y2="298.75" stroke="#111" stroke-width="1.0"/>
<circle cx="318.2" cy="297.02" r="1.55" fill="#fff" stroke="#111" stroke-width="1.1"/>
<circle cx="320.2" cy="295.72" r="1.55" fill="#fff" stroke="#111" stroke-width="1.1"/>
<circle cx="322.2" cy="297.45" r="1.55" fill="#fff" stroke="#111" stroke-width="1.1"/>
<line x1="316.8" y1="296.85" x2="323.6" y2="296.85" stroke="#111" stroke-width="1.4"/>
<line x1="314.05" y1="298.75" x2="314.05" y2="302.75" stroke="#000" stroke-width="1.2"/>
<text x="314.05" y="315.25" font-size="9" text-anchor="middle">LK</text>
<text x="298.75" y="213.15" font-size="6.3" font-style="italic" fill="#222" textLength="28.75" lengthAdjust="spacingAndGlyphs">p=1.4E-05</text>
<line x1="307.6" y1="215.3" x2="321.7" y2="215.3" stroke="#111" stroke-width="1.25"/>
<line x1="218.45" y1="298.75" x2="328" y2="298.75" stroke="#000" stroke-width="1.6"/>
<text x="351.8" y="253" font-size="12" text-anchor="middle" textLength="75" lengthAdjust="spacingAndGlyphs" transform="rotate(-90 351.8 253)">Donor percentage</text>
<line x1="382.5" y1="208" x2="382.5" y2="299.55" stroke="#000" stroke-width="1.6"/>
<line x1="379" y1="298.75" x2="382.5" y2="298.75" stroke="#000" stroke-width="1.2"/>
<text x="374.8" y="301.95" font-size="9" text-anchor="end">0</text>
<line x1="379" y1="281.45" x2="382.5" y2="281.45" stroke="#000" stroke-width="1.2"/>
<text x="374.8" y="284.65" font-size="9" text-anchor="end">20</text>
<line x1="379" y1="264.15" x2="382.5" y2="264.15" stroke="#000" stroke-width="1.2"/>
<text x="374.8" y="267.35" font-size="9" text-anchor="end">40</text>
<line x1="379" y1="246.85" x2="382.5" y2="246.85" stroke="#000" stroke-width="1.2"/>
<text x="374.8" y="250.05" font-size="9" text-anchor="end">60</text>
<line x1="379" y1="229.55" x2="382.5" y2="229.55" stroke="#000" stroke-width="1.2"/>
<text x="374.8" y="232.75" font-size="9" text-anchor="end">80</text>
<line x1="379" y1="212.25" x2="382.5" y2="212.25" stroke="#000" stroke-width="1.2"/>
<text x="374.8" y="215.45" font-size="9" text-anchor="end">100</text>
<rect x="387" y="253.51" width="8.5" height="45.24" fill="#2d4b84"/>
<line x1="391.25" y1="253.51" x2="391.25" y2="225.48" stroke="#111" stroke-width="1.0"/>
<line x1="389.15" y1="225.48" x2="393.35" y2="225.48" stroke="#111" stroke-width="1.0"/>
<line x1="391.25" y1="253.51" x2="391.25" y2="280.24" stroke="#111" stroke-width="1.0"/>
<line x1="389.15" y1="280.24" x2="393.35" y2="280.24" stroke="#111" stroke-width="1.0"/>
<circle cx="389" cy="224.97" r="1.75" fill="#111"/>
<circle cx="393.5" cy="224.36" r="1.75" fill="#111"/>
<circle cx="391.25" cy="230.42" r="1.75" fill="#111"/>
<circle cx="391.25" cy="233.36" r="1.75" fill="#111"/>
<circle cx="391.25" cy="239.93" r="1.75" fill="#111"/>
<circle cx="389" cy="253.51" r="1.75" fill="#111"/>
<circle cx="393.5" cy="253.51" r="1.75" fill="#111"/>
<circle cx="389" cy="286.38" r="1.75" fill="#111"/>
<circle cx="393.5" cy="288.89" r="1.75" fill="#111"/>
<circle cx="391.25" cy="294.34" r="1.75" fill="#111"/>
<rect x="399.25" y="297.15" width="8.5" height="1.6" fill="#b5073a"/>
<line x1="403.5" y1="297.15" x2="403.5" y2="297.88" stroke="#111" stroke-width="1.0"/>
<line x1="401.4" y1="297.88" x2="405.6" y2="297.88" stroke="#111" stroke-width="1.0"/>
<line x1="403.5" y1="297.15" x2="403.5" y2="298.75" stroke="#111" stroke-width="1.0"/>
<line x1="401.4" y1="298.75" x2="405.6" y2="298.75" stroke="#111" stroke-width="1.0"/>
<circle cx="402" cy="297.88" r="1.55" fill="#fff" stroke="#111" stroke-width="1.1"/>
<circle cx="405" cy="298.32" r="1.55" fill="#fff" stroke="#111" stroke-width="1.1"/>
<line x1="400.1" y1="296.85" x2="406.9" y2="296.85" stroke="#111" stroke-width="1.4"/>
<line x1="397.38" y1="298.75" x2="397.38" y2="302.75" stroke="#000" stroke-width="1.2"/>
<text x="397.38" y="315.25" font-size="9" text-anchor="middle">B220+</text>
<text x="384.5" y="214.9" font-size="6.3" font-style="italic" fill="#222" textLength="28.5" lengthAdjust="spacingAndGlyphs">p=1.4E-04</text>
<line x1="390.95" y1="216.8" x2="405" y2="216.8" stroke="#111" stroke-width="1.25"/>
<rect x="413.65" y="265.88" width="8.5" height="32.87" fill="#2d4b84"/>
<line x1="417.9" y1="265.88" x2="417.9" y2="249.44" stroke="#111" stroke-width="1.0"/>
<line x1="415.8" y1="249.44" x2="420" y2="249.44" stroke="#111" stroke-width="1.0"/>
<line x1="417.9" y1="265.88" x2="417.9" y2="277.73" stroke="#111" stroke-width="1.0"/>
<line x1="415.8" y1="277.73" x2="420" y2="277.73" stroke="#111" stroke-width="1.0"/>
<circle cx="415" cy="252.56" r="1.75" fill="#111"/>
<circle cx="421" cy="252.56" r="1.75" fill="#111"/>
<circle cx="417.9" cy="249.44" r="1.75" fill="#111"/>
<circle cx="417.9" cy="260.43" r="1.75" fill="#111"/>
<circle cx="415" cy="268.39" r="1.75" fill="#111"/>
<circle cx="420" cy="273.32" r="1.75" fill="#111"/>
<circle cx="417.9" cy="279.72" r="1.75" fill="#111"/>
<circle cx="417.9" cy="286.64" r="1.75" fill="#111"/>
<rect x="425.75" y="296.15" width="8.5" height="2.6" fill="#b5073a"/>
<line x1="430" y1="296.15" x2="430" y2="292.69" stroke="#111" stroke-width="1.0"/>
<line x1="427.9" y1="292.69" x2="432.1" y2="292.69" stroke="#111" stroke-width="1.0"/>
<line x1="430" y1="296.15" x2="430" y2="298.75" stroke="#111" stroke-width="1.0"/>
<line x1="427.9" y1="298.75" x2="432.1" y2="298.75" stroke="#111" stroke-width="1.0"/>
<circle cx="430" cy="290.1" r="1.55" fill="#fff" stroke="#111" stroke-width="1.1"/>
<circle cx="428" cy="296.15" r="1.55" fill="#fff" stroke="#111" stroke-width="1.1"/>
<circle cx="432" cy="297.02" r="1.55" fill="#fff" stroke="#111" stroke-width="1.1"/>
<line x1="423.95" y1="298.75" x2="423.95" y2="302.75" stroke="#000" stroke-width="1.2"/>
<text x="423.95" y="315.25" font-size="9" text-anchor="middle">CD3+</text>
<text x="408.75" y="241.9" font-size="6.3" font-style="italic" fill="#222" textLength="28.75" lengthAdjust="spacingAndGlyphs">p=3.1E-06</text>
<line x1="417.6" y1="244.55" x2="431.5" y2="244.55" stroke="#111" stroke-width="1.25"/>
<rect x="440.75" y="243.65" width="8.5" height="55.1" fill="#2d4b84"/>
<line x1="445" y1="243.65" x2="445" y2="214.76" stroke="#111" stroke-width="1.0"/>
<line x1="442.9" y1="214.76" x2="447.1" y2="214.76" stroke="#111" stroke-width="1.0"/>
<line x1="445" y1="243.65" x2="445" y2="278.94" stroke="#111" stroke-width="1.0"/>
<line x1="442.9" y1="278.94" x2="447.1" y2="278.94" stroke="#111" stroke-width="1.0"/>
<circle cx="443" cy="213.03" r="1.75" fill="#111"/>
<circle cx="447" cy="215.97" r="1.75" fill="#111"/>
<circle cx="445" cy="222.11" r="1.75" fill="#111"/>
<circle cx="445" cy="225.83" r="1.75" fill="#111"/>
<circle cx="443" cy="232.06" r="1.75" fill="#111"/>
<circle cx="447" cy="232.06" r="1.75" fill="#111"/>
<circle cx="445" cy="239.41" r="1.75" fill="#111"/>
<circle cx="445" cy="259.82" r="1.75" fill="#111"/>
<circle cx="447" cy="287.16" r="1.75" fill="#111"/>
<circle cx="443" cy="290.1" r="1.75" fill="#111"/>
<rect x="452.75" y="297.15" width="8.5" height="1.6" fill="#b5073a"/>
<line x1="457" y1="297.15" x2="457" y2="297.02" stroke="#111" stroke-width="1.0"/>
<line x1="454.9" y1="297.02" x2="459.1" y2="297.02" stroke="#111" stroke-width="1.0"/>
<line x1="457" y1="297.15" x2="457" y2="298.75" stroke="#111" stroke-width="1.0"/>
<line x1="454.9" y1="298.75" x2="459.1" y2="298.75" stroke="#111" stroke-width="1.0"/>
<circle cx="456" cy="294.43" r="1.55" fill="#fff" stroke="#111" stroke-width="1.1"/>
<circle cx="458.5" cy="297.88" r="1.55" fill="#fff" stroke="#111" stroke-width="1.1"/>
<line x1="453.6" y1="296.85" x2="460.4" y2="296.85" stroke="#111" stroke-width="1.4"/>
<line x1="451" y1="298.75" x2="451" y2="302.75" stroke="#000" stroke-width="1.2"/>
<text x="451" y="315.25" font-size="9" text-anchor="middle">Mac-</text>
<text x="451" y="325.45" font-size="9" text-anchor="middle">1+</text>
<text x="437.5" y="207.4" font-size="6.3" font-style="italic" fill="#222" textLength="28.75" lengthAdjust="spacingAndGlyphs">p=3.2E-05</text>
<line x1="444.7" y1="209.8" x2="458.5" y2="209.8" stroke="#111" stroke-width="1.25"/>
<rect x="467.35" y="259.22" width="8.5" height="39.53" fill="#2d4b84"/>
<line x1="471.6" y1="259.22" x2="471.6" y2="236.99" stroke="#111" stroke-width="1.0"/>
<line x1="469.5" y1="236.99" x2="473.7" y2="236.99" stroke="#111" stroke-width="1.0"/>
<line x1="471.6" y1="259.22" x2="471.6" y2="280.24" stroke="#111" stroke-width="1.0"/>
<line x1="469.5" y1="280.24" x2="473.7" y2="280.24" stroke="#111" stroke-width="1.0"/>
<circle cx="471.6" cy="237.68" r="1.75" fill="#111"/>
<circle cx="469.5" cy="242.53" r="1.75" fill="#111"/>
<circle cx="473.5" cy="242.53" r="1.75" fill="#111"/>
<circle cx="471.6" cy="245.55" r="1.75" fill="#111"/>
<circle cx="469.5" cy="250.48" r="1.75" fill="#111"/>
<circle cx="473.5" cy="252.47" r="1.75" fill="#111"/>
<circle cx="471.6" cy="254.2" r="1.75" fill="#111"/>
<circle cx="473.5" cy="283.18" r="1.75" fill="#111"/>
<circle cx="469.5" cy="291.31" r="1.75" fill="#111"/>
<circle cx="473.5" cy="290.62" r="1.75" fill="#111"/>
<rect x="479.35" y="297.15" width="8.5" height="1.6" fill="#b5073a"/>
<line x1="483.6" y1="297.15" x2="483.6" y2="297.88" stroke="#111" stroke-width="1.0"/>
<line x1="481.5" y1="297.88" x2="485.7" y2="297.88" stroke="#111" stroke-width="1.0"/>
<line x1="483.6" y1="297.15" x2="483.6" y2="298.75" stroke="#111" stroke-width="1.0"/>
<line x1="481.5" y1="298.75" x2="485.7" y2="298.75" stroke="#111" stroke-width="1.0"/>
<circle cx="482.1" cy="297.88" r="1.55" fill="#fff" stroke="#111" stroke-width="1.1"/>
<circle cx="485.1" cy="298.32" r="1.55" fill="#fff" stroke="#111" stroke-width="1.1"/>
<line x1="480.2" y1="296.85" x2="487" y2="296.85" stroke="#111" stroke-width="1.4"/>
<line x1="477.6" y1="298.75" x2="477.6" y2="302.75" stroke="#000" stroke-width="1.2"/>
<text x="477.6" y="315.25" font-size="9" text-anchor="middle">CD45+</text>
<text x="463" y="230.15" font-size="6.3" font-style="italic" fill="#222" textLength="28.25" lengthAdjust="spacingAndGlyphs">p=3.2E-05</text>
<line x1="471.3" y1="232.3" x2="485.1" y2="232.3" stroke="#111" stroke-width="1.25"/>
<line x1="381.7" y1="298.75" x2="492.5" y2="298.75" stroke="#000" stroke-width="1.6"/>
<text x="9.8" y="345.8" font-size="16.5" font-weight="bold" fill="#000" stroke="#000" stroke-width="0.45">C</text>
<text x="40.75" y="355" font-size="11" textLength="289.75" lengthAdjust="spacingAndGlyphs">HSC transplantation (50 CD45.2HSC+0.2M CD45.1 WBC)</text>
<line x1="335" y1="351" x2="348.75" y2="351" stroke="#3d5d94" stroke-width="1.0"/>
<circle cx="341.88" cy="351" r="2.85" fill="#213f7a"/>
<text x="353.75" y="355" font-size="11" textLength="61.25" lengthAdjust="spacingAndGlyphs">+/+ (n=4+5)</text>
<line x1="420" y1="351" x2="433.75" y2="351" stroke="#c02a50" stroke-width="1.0"/>
<rect x="424.12" y="348.5" width="5.5" height="5" fill="#b0103c"/>
<text x="438" y="355" font-size="11" textLength="59" lengthAdjust="spacingAndGlyphs">fl/fl (n=3+4)</text>
<text x="68" y="370.75" font-size="11" textLength="63.75" lengthAdjust="spacingAndGlyphs">Total CD45+</text>
<text x="201.25" y="370.75" font-size="11" textLength="37.5" lengthAdjust="spacingAndGlyphs">Mac-1+</text>
<text x="324.5" y="370.75" font-size="11" textLength="31.75" lengthAdjust="spacingAndGlyphs">B220+</text>
<text x="446.25" y="370.75" font-size="11" textLength="29.5" lengthAdjust="spacingAndGlyphs">CD3+</text>
<text x="31.2" y="420" font-size="12.5" text-anchor="middle" textLength="74.4" lengthAdjust="spacingAndGlyphs" transform="rotate(-90 31.2 420)">Donor percentage</text>
<line x1="56.25" y1="385.5" x2="56.25" y2="454.8" stroke="#000" stroke-width="1.6"/>
<line x1="52.75" y1="454" x2="56.25" y2="454" stroke="#000" stroke-width="1.2"/>
<text x="48.55" y="457.2" font-size="9" text-anchor="end">0</text>
<line x1="52.75" y1="437.9" x2="56.25" y2="437.9" stroke="#000" stroke-width="1.2"/>
<text x="48.55" y="441.1" font-size="9" text-anchor="end">20</text>
<line x1="52.75" y1="421.8" x2="56.25" y2="421.8" stroke="#000" stroke-width="1.2"/>
<text x="48.55" y="425" font-size="9" text-anchor="end">40</text>
<line x1="52.75" y1="405.7" x2="56.25" y2="405.7" stroke="#000" stroke-width="1.2"/>
<text x="48.55" y="408.9" font-size="9" text-anchor="end">60</text>
<line x1="52.75" y1="389.6" x2="56.25" y2="389.6" stroke="#000" stroke-width="1.2"/>
<text x="48.55" y="392.8" font-size="9" text-anchor="end">80</text>
<line x1="55.45" y1="454" x2="142.5" y2="454" stroke="#000" stroke-width="1.6"/>
<line x1="72" y1="454" x2="72" y2="457.4" stroke="#000" stroke-width="1.2"/>
<text x="72" y="470.3" font-size="9" text-anchor="middle">4</text>
<line x1="90" y1="454" x2="90" y2="457.4" stroke="#000" stroke-width="1.2"/>
<text x="90" y="470.3" font-size="9" text-anchor="middle">8</text>
<line x1="108.25" y1="454" x2="108.25" y2="457.4" stroke="#000" stroke-width="1.2"/>
<text x="108.25" y="470.3" font-size="9" text-anchor="middle">12</text>
<line x1="126.75" y1="454" x2="126.75" y2="457.4" stroke="#000" stroke-width="1.2"/>
<text x="126.75" y="470.3" font-size="9" text-anchor="middle">16</text>
<line x1="72" y1="449.41" x2="72" y2="446.35" stroke="#c02a50" stroke-width="1.1"/>
<line x1="70" y1="446.35" x2="74" y2="446.35" stroke="#c02a50" stroke-width="1.1"/>
<line x1="72" y1="449.41" x2="72" y2="452.79" stroke="#c02a50" stroke-width="1.1"/>
<line x1="70" y1="452.79" x2="74" y2="452.79" stroke="#c02a50" stroke-width="1.1"/>
<line x1="90" y1="448.2" x2="90" y2="441.44" stroke="#c02a50" stroke-width="1.1"/>
<line x1="88" y1="441.44" x2="92" y2="441.44" stroke="#c02a50" stroke-width="1.1"/>
<line x1="90" y1="448.2" x2="90" y2="454" stroke="#c02a50" stroke-width="1.1"/>
<line x1="88" y1="454" x2="92" y2="454" stroke="#c02a50" stroke-width="1.1"/>
<line x1="108.25" y1="451.67" x2="108.25" y2="446.92" stroke="#c02a50" stroke-width="1.1"/>
<line x1="106.25" y1="446.92" x2="110.25" y2="446.92" stroke="#c02a50" stroke-width="1.1"/>
<line x1="108.25" y1="451.67" x2="108.25" y2="454" stroke="#c02a50" stroke-width="1.1"/>
<line x1="106.25" y1="454" x2="110.25" y2="454" stroke="#c02a50" stroke-width="1.1"/>
<line x1="126.75" y1="452.15" x2="126.75" y2="448.2" stroke="#c02a50" stroke-width="1.1"/>
<line x1="124.75" y1="448.2" x2="128.75" y2="448.2" stroke="#c02a50" stroke-width="1.1"/>
<line x1="126.75" y1="452.15" x2="126.75" y2="454" stroke="#c02a50" stroke-width="1.1"/>
<line x1="124.75" y1="454" x2="128.75" y2="454" stroke="#c02a50" stroke-width="1.1"/>
<path d="M72,449.41 L90,448.2 L108.25,451.67 L126.75,452.15" stroke="#b0103c" stroke-width="1.1" fill="none"/>
<rect x="69.9" y="447.31" width="4.2" height="4.2" fill="#b0103c"/>
<rect x="87.9" y="446.1" width="4.2" height="4.2" fill="#b0103c"/>
<rect x="106.15" y="449.57" width="4.2" height="4.2" fill="#b0103c"/>
<rect x="124.65" y="450.05" width="4.2" height="4.2" fill="#b0103c"/>
<line x1="72" y1="422.52" x2="72" y2="410.29" stroke="#3d5d94" stroke-width="1.1"/>
<line x1="70" y1="410.29" x2="74" y2="410.29" stroke="#3d5d94" stroke-width="1.1"/>
<line x1="72" y1="422.52" x2="72" y2="434.52" stroke="#3d5d94" stroke-width="1.1"/>
<line x1="70" y1="434.52" x2="74" y2="434.52" stroke="#3d5d94" stroke-width="1.1"/>
<line x1="90" y1="418.26" x2="90" y2="402.48" stroke="#3d5d94" stroke-width="1.1"/>
<line x1="88" y1="402.48" x2="92" y2="402.48" stroke="#3d5d94" stroke-width="1.1"/>
<line x1="90" y1="418.26" x2="90" y2="433.23" stroke="#3d5d94" stroke-width="1.1"/>
<line x1="88" y1="433.23" x2="92" y2="433.23" stroke="#3d5d94" stroke-width="1.1"/>
<line x1="108.25" y1="416.25" x2="108.25" y2="400.79" stroke="#3d5d94" stroke-width="1.1"/>
<line x1="106.25" y1="400.79" x2="110.25" y2="400.79" stroke="#3d5d94" stroke-width="1.1"/>
<line x1="108.25" y1="416.25" x2="108.25" y2="432.02" stroke="#3d5d94" stroke-width="1.1"/>
<line x1="106.25" y1="432.02" x2="110.25" y2="432.02" stroke="#3d5d94" stroke-width="1.1"/>
<line x1="126.75" y1="417.29" x2="126.75" y2="403.04" stroke="#3d5d94" stroke-width="1.1"/>
<line x1="124.75" y1="403.04" x2="128.75" y2="403.04" stroke="#3d5d94" stroke-width="1.1"/>
<line x1="126.75" y1="417.29" x2="126.75" y2="432.02" stroke="#3d5d94" stroke-width="1.1"/>
<line x1="124.75" y1="432.02" x2="128.75" y2="432.02" stroke="#3d5d94" stroke-width="1.1"/>
<path d="M72,422.52 L90,418.26 L108.25,416.25 L126.75,417.29" stroke="#213f7a" stroke-width="1.1" fill="none"/>
<circle cx="72" cy="422.52" r="2.1" fill="#213f7a"/>
<circle cx="90" cy="418.26" r="2.1" fill="#213f7a"/>
<circle cx="108.25" cy="416.25" r="2.1" fill="#213f7a"/>
<circle cx="126.75" cy="417.29" r="2.1" fill="#213f7a"/>
<text x="58" y="383.5" font-size="6.6" textLength="83.5" lengthAdjust="spacingAndGlyphs">8.2E-05 3.6E-04 7.2E-05 3.1E-05</text>
<line x1="178.25" y1="388.5" x2="178.25" y2="454.05" stroke="#000" stroke-width="1.6"/>
<line x1="174.75" y1="453.25" x2="178.25" y2="453.25" stroke="#000" stroke-width="1.2"/>
<text x="170.55" y="456.45" font-size="9" text-anchor="end">0</text>
<line x1="174.75" y1="441.5" x2="178.25" y2="441.5" stroke="#000" stroke-width="1.2"/>
<text x="170.55" y="444.7" font-size="9" text-anchor="end">20</text>
<line x1="174.75" y1="429.75" x2="178.25" y2="429.75" stroke="#000" stroke-width="1.2"/>
<text x="170.55" y="432.95" font-size="9" text-anchor="end">40</text>
<line x1="174.75" y1="418" x2="178.25" y2="418" stroke="#000" stroke-width="1.2"/>
<text x="170.55" y="421.2" font-size="9" text-anchor="end">60</text>
<line x1="174.75" y1="406.25" x2="178.25" y2="406.25" stroke="#000" stroke-width="1.2"/>
<text x="170.55" y="409.45" font-size="9" text-anchor="end">80</text>
<line x1="174.75" y1="394.5" x2="178.25" y2="394.5" stroke="#000" stroke-width="1.2"/>
<text x="170.55" y="397.7" font-size="9" text-anchor="end">100</text>
<line x1="177.45" y1="453.25" x2="260" y2="453.25" stroke="#000" stroke-width="1.6"/>
<line x1="194.25" y1="453.25" x2="194.25" y2="456.65" stroke="#000" stroke-width="1.2"/>
<text x="194.25" y="469.55" font-size="9" text-anchor="middle">4</text>
<line x1="211.25" y1="453.25" x2="211.25" y2="456.65" stroke="#000" stroke-width="1.2"/>
<text x="211.25" y="469.55" font-size="9" text-anchor="middle">8</text>
<line x1="228.25" y1="453.25" x2="228.25" y2="456.65" stroke="#000" stroke-width="1.2"/>
<text x="228.25" y="469.55" font-size="9" text-anchor="middle">12</text>
<line x1="245.5" y1="453.25" x2="245.5" y2="456.65" stroke="#000" stroke-width="1.2"/>
<text x="245.5" y="469.55" font-size="9" text-anchor="middle">16</text>
<line x1="194.25" y1="448.73" x2="194.25" y2="445.73" stroke="#c02a50" stroke-width="1.1"/>
<line x1="192.25" y1="445.73" x2="196.25" y2="445.73" stroke="#c02a50" stroke-width="1.1"/>
<line x1="194.25" y1="448.73" x2="194.25" y2="451.49" stroke="#c02a50" stroke-width="1.1"/>
<line x1="192.25" y1="451.49" x2="196.25" y2="451.49" stroke="#c02a50" stroke-width="1.1"/>
<line x1="211.25" y1="444.03" x2="211.25" y2="433.27" stroke="#c02a50" stroke-width="1.1"/>
<line x1="209.25" y1="433.27" x2="213.25" y2="433.27" stroke="#c02a50" stroke-width="1.1"/>
<line x1="211.25" y1="444.03" x2="211.25" y2="453.25" stroke="#c02a50" stroke-width="1.1"/>
<line x1="209.25" y1="453.25" x2="213.25" y2="453.25" stroke="#c02a50" stroke-width="1.1"/>
<line x1="228.25" y1="447.49" x2="228.25" y2="437.27" stroke="#c02a50" stroke-width="1.1"/>
<line x1="226.25" y1="437.27" x2="230.25" y2="437.27" stroke="#c02a50" stroke-width="1.1"/>
<line x1="228.25" y1="447.49" x2="228.25" y2="453.25" stroke="#c02a50" stroke-width="1.1"/>
<line x1="226.25" y1="453.25" x2="230.25" y2="453.25" stroke="#c02a50" stroke-width="1.1"/>
<line x1="245.5" y1="449.49" x2="245.5" y2="444.03" stroke="#c02a50" stroke-width="1.1"/>
<line x1="243.5" y1="444.03" x2="247.5" y2="444.03" stroke="#c02a50" stroke-width="1.1"/>
<line x1="245.5" y1="449.49" x2="245.5" y2="453.25" stroke="#c02a50" stroke-width="1.1"/>
<line x1="243.5" y1="453.25" x2="247.5" y2="453.25" stroke="#c02a50" stroke-width="1.1"/>
<path d="M194.25,448.73 L211.25,444.03 L228.25,447.49 L245.5,449.49" stroke="#b0103c" stroke-width="1.1" fill="none"/>
<rect x="192.15" y="446.63" width="4.2" height="4.2" fill="#b0103c"/>
<rect x="209.15" y="441.93" width="4.2" height="4.2" fill="#b0103c"/>
<rect x="226.15" y="445.39" width="4.2" height="4.2" fill="#b0103c"/>
<rect x="243.4" y="447.39" width="4.2" height="4.2" fill="#b0103c"/>
<line x1="194.25" y1="426.52" x2="194.25" y2="415.77" stroke="#3d5d94" stroke-width="1.1"/>
<line x1="192.25" y1="415.77" x2="196.25" y2="415.77" stroke="#3d5d94" stroke-width="1.1"/>
<line x1="194.25" y1="426.52" x2="194.25" y2="437.27" stroke="#3d5d94" stroke-width="1.1"/>
<line x1="192.25" y1="437.27" x2="196.25" y2="437.27" stroke="#3d5d94" stroke-width="1.1"/>
<line x1="211.25" y1="421" x2="211.25" y2="404.49" stroke="#3d5d94" stroke-width="1.1"/>
<line x1="209.25" y1="404.49" x2="213.25" y2="404.49" stroke="#3d5d94" stroke-width="1.1"/>
<line x1="211.25" y1="421" x2="211.25" y2="437.39" stroke="#3d5d94" stroke-width="1.1"/>
<line x1="209.25" y1="437.39" x2="213.25" y2="437.39" stroke="#3d5d94" stroke-width="1.1"/>
<line x1="228.25" y1="419" x2="228.25" y2="401.49" stroke="#3d5d94" stroke-width="1.1"/>
<line x1="226.25" y1="401.49" x2="230.25" y2="401.49" stroke="#3d5d94" stroke-width="1.1"/>
<line x1="228.25" y1="419" x2="228.25" y2="436.98" stroke="#3d5d94" stroke-width="1.1"/>
<line x1="226.25" y1="436.98" x2="230.25" y2="436.98" stroke="#3d5d94" stroke-width="1.1"/>
<line x1="245.5" y1="419" x2="245.5" y2="402.25" stroke="#3d5d94" stroke-width="1.1"/>
<line x1="243.5" y1="402.25" x2="247.5" y2="402.25" stroke="#3d5d94" stroke-width="1.1"/>
<line x1="245.5" y1="419" x2="245.5" y2="435.62" stroke="#3d5d94" stroke-width="1.1"/>
<line x1="243.5" y1="435.62" x2="247.5" y2="435.62" stroke="#3d5d94" stroke-width="1.1"/>
<path d="M194.25,426.52 L211.25,421 L228.25,419 L245.5,419" stroke="#213f7a" stroke-width="1.1" fill="none"/>
<circle cx="194.25" cy="426.52" r="2.1" fill="#213f7a"/>
<circle cx="211.25" cy="421" r="2.1" fill="#213f7a"/>
<circle cx="228.25" cy="419" r="2.1" fill="#213f7a"/>
<circle cx="245.5" cy="419" r="2.1" fill="#213f7a"/>
<text x="177.5" y="383.55" font-size="6.6" textLength="20" lengthAdjust="spacingAndGlyphs">9.8E-05</text>
<text x="199.5" y="383.55" font-size="6.6" textLength="16.25" lengthAdjust="spacingAndGlyphs">0.0059</text>
<text x="220" y="383.55" font-size="6.6" textLength="16.25" lengthAdjust="spacingAndGlyphs">0.0017</text>
<text x="241.25" y="383.55" font-size="6.6" textLength="21.25" lengthAdjust="spacingAndGlyphs">3.3E-04</text>
<line x1="298.75" y1="385.5" x2="298.75" y2="454.05" stroke="#000" stroke-width="1.6"/>
<line x1="295.25" y1="453.25" x2="298.75" y2="453.25" stroke="#000" stroke-width="1.2"/>
<text x="291.05" y="456.45" font-size="9" text-anchor="end">0</text>
<line x1="295.25" y1="437.85" x2="298.75" y2="437.85" stroke="#000" stroke-width="1.2"/>
<text x="291.05" y="441.05" font-size="9" text-anchor="end">20</text>
<line x1="295.25" y1="422.45" x2="298.75" y2="422.45" stroke="#000" stroke-width="1.2"/>
<text x="291.05" y="425.65" font-size="9" text-anchor="end">40</text>
<line x1="295.25" y1="407.05" x2="298.75" y2="407.05" stroke="#000" stroke-width="1.2"/>
<text x="291.05" y="410.25" font-size="9" text-anchor="end">60</text>
<line x1="295.25" y1="391.65" x2="298.75" y2="391.65" stroke="#000" stroke-width="1.2"/>
<text x="291.05" y="394.85" font-size="9" text-anchor="end">80</text>
<line x1="297.95" y1="453.25" x2="383" y2="453.25" stroke="#000" stroke-width="1.6"/>
<line x1="313.25" y1="453.25" x2="313.25" y2="456.65" stroke="#000" stroke-width="1.2"/>
<text x="313.25" y="469.55" font-size="9" text-anchor="middle">4</text>
<line x1="331.25" y1="453.25" x2="331.25" y2="456.65" stroke="#000" stroke-width="1.2"/>
<text x="331.25" y="469.55" font-size="9" text-anchor="middle">8</text>
<line x1="349.25" y1="453.25" x2="349.25" y2="456.65" stroke="#000" stroke-width="1.2"/>
<text x="349.25" y="469.55" font-size="9" text-anchor="middle">12</text>
<line x1="367" y1="453.25" x2="367" y2="456.65" stroke="#000" stroke-width="1.2"/>
<text x="367" y="469.55" font-size="9" text-anchor="middle">16</text>
<line x1="313.25" y1="452.87" x2="313.25" y2="452.48" stroke="#c02a50" stroke-width="1.1"/>
<line x1="311.25" y1="452.48" x2="315.25" y2="452.48" stroke="#c02a50" stroke-width="1.1"/>
<line x1="313.25" y1="452.87" x2="313.25" y2="453.25" stroke="#c02a50" stroke-width="1.1"/>
<line x1="311.25" y1="453.25" x2="315.25" y2="453.25" stroke="#c02a50" stroke-width="1.1"/>
<line x1="331.25" y1="452.87" x2="331.25" y2="452.48" stroke="#c02a50" stroke-width="1.1"/>
<line x1="329.25" y1="452.48" x2="333.25" y2="452.48" stroke="#c02a50" stroke-width="1.1"/>
<line x1="331.25" y1="452.87" x2="331.25" y2="453.25" stroke="#c02a50" stroke-width="1.1"/>
<line x1="329.25" y1="453.25" x2="333.25" y2="453.25" stroke="#c02a50" stroke-width="1.1"/>
<line x1="349.25" y1="452.87" x2="349.25" y2="452.48" stroke="#c02a50" stroke-width="1.1"/>
<line x1="347.25" y1="452.48" x2="351.25" y2="452.48" stroke="#c02a50" stroke-width="1.1"/>
<line x1="349.25" y1="452.87" x2="349.25" y2="453.25" stroke="#c02a50" stroke-width="1.1"/>
<line x1="347.25" y1="453.25" x2="351.25" y2="453.25" stroke="#c02a50" stroke-width="1.1"/>
<line x1="367" y1="452.63" x2="367" y2="452.1" stroke="#c02a50" stroke-width="1.1"/>
<line x1="365" y1="452.1" x2="369" y2="452.1" stroke="#c02a50" stroke-width="1.1"/>
<line x1="367" y1="452.63" x2="367" y2="453.25" stroke="#c02a50" stroke-width="1.1"/>
<line x1="365" y1="453.25" x2="369" y2="453.25" stroke="#c02a50" stroke-width="1.1"/>
<path d="M313.25,452.87 L331.25,452.87 L349.25,452.87 L367,452.63" stroke="#b0103c" stroke-width="1.1" fill="none"/>
<rect x="311.15" y="450.76" width="4.2" height="4.2" fill="#b0103c"/>
<rect x="329.15" y="450.76" width="4.2" height="4.2" fill="#b0103c"/>
<rect x="347.15" y="450.76" width="4.2" height="4.2" fill="#b0103c"/>
<rect x="364.9" y="450.53" width="4.2" height="4.2" fill="#b0103c"/>
<line x1="313.25" y1="438.24" x2="313.25" y2="422.99" stroke="#3d5d94" stroke-width="1.1"/>
<line x1="311.25" y1="422.99" x2="315.25" y2="422.99" stroke="#3d5d94" stroke-width="1.1"/>
<line x1="313.25" y1="438.24" x2="313.25" y2="453.25" stroke="#3d5d94" stroke-width="1.1"/>
<line x1="311.25" y1="453.25" x2="315.25" y2="453.25" stroke="#3d5d94" stroke-width="1.1"/>
<line x1="331.25" y1="418.21" x2="331.25" y2="399.5" stroke="#3d5d94" stroke-width="1.1"/>
<line x1="329.25" y1="399.5" x2="333.25" y2="399.5" stroke="#3d5d94" stroke-width="1.1"/>
<line x1="331.25" y1="418.21" x2="331.25" y2="436.77" stroke="#3d5d94" stroke-width="1.1"/>
<line x1="329.25" y1="436.77" x2="333.25" y2="436.77" stroke="#3d5d94" stroke-width="1.1"/>
<line x1="349.25" y1="416.75" x2="349.25" y2="397.5" stroke="#3d5d94" stroke-width="1.1"/>
<line x1="347.25" y1="397.5" x2="351.25" y2="397.5" stroke="#3d5d94" stroke-width="1.1"/>
<line x1="349.25" y1="416.75" x2="349.25" y2="435.77" stroke="#3d5d94" stroke-width="1.1"/>
<line x1="347.25" y1="435.77" x2="351.25" y2="435.77" stroke="#3d5d94" stroke-width="1.1"/>
<line x1="367" y1="417.21" x2="367" y2="397.5" stroke="#3d5d94" stroke-width="1.1"/>
<line x1="365" y1="397.5" x2="369" y2="397.5" stroke="#3d5d94" stroke-width="1.1"/>
<line x1="367" y1="417.21" x2="367" y2="437.46" stroke="#3d5d94" stroke-width="1.1"/>
<line x1="365" y1="437.46" x2="369" y2="437.46" stroke="#3d5d94" stroke-width="1.1"/>
<path d="M313.25,438.24 L331.25,418.21 L349.25,416.75 L367,417.21" stroke="#213f7a" stroke-width="1.1" fill="none"/>
<circle cx="313.25" cy="438.24" r="2.1" fill="#213f7a"/>
<circle cx="331.25" cy="418.21" r="2.1" fill="#213f7a"/>
<circle cx="349.25" cy="416.75" r="2.1" fill="#213f7a"/>
<circle cx="367" cy="417.21" r="2.1" fill="#213f7a"/>
<text x="299.5" y="381.8" font-size="6.6" textLength="14.25" lengthAdjust="spacingAndGlyphs">0.017</text>
<text x="317" y="381.8" font-size="6.6" textLength="19.25" lengthAdjust="spacingAndGlyphs">1.9E-04</text>
<text x="338.75" y="381.8" font-size="6.6" textLength="20" lengthAdjust="spacingAndGlyphs">1.9E-04</text>
<text x="362.5" y="381.8" font-size="6.6" textLength="20" lengthAdjust="spacingAndGlyphs">3.2E-04</text>
<line x1="419.25" y1="385.5" x2="419.25" y2="454.05" stroke="#000" stroke-width="1.6"/>
<line x1="415.75" y1="453.25" x2="419.25" y2="453.25" stroke="#000" stroke-width="1.2"/>
<text x="411.55" y="456.45" font-size="9" text-anchor="end">0</text>
<line x1="415.75" y1="432.55" x2="419.25" y2="432.55" stroke="#000" stroke-width="1.2"/>
<text x="411.55" y="435.75" font-size="9" text-anchor="end">20</text>
<line x1="415.75" y1="411.85" x2="419.25" y2="411.85" stroke="#000" stroke-width="1.2"/>
<text x="411.55" y="415.05" font-size="9" text-anchor="end">40</text>
<line x1="415.75" y1="391.15" x2="419.25" y2="391.15" stroke="#000" stroke-width="1.2"/>
<text x="411.55" y="394.35" font-size="9" text-anchor="end">60</text>
<line x1="418.45" y1="453.25" x2="503" y2="453.25" stroke="#000" stroke-width="1.6"/>
<line x1="434.25" y1="453.25" x2="434.25" y2="456.65" stroke="#000" stroke-width="1.2"/>
<text x="434.25" y="469.55" font-size="9" text-anchor="middle">4</text>
<line x1="451.75" y1="453.25" x2="451.75" y2="456.65" stroke="#000" stroke-width="1.2"/>
<text x="451.75" y="469.55" font-size="9" text-anchor="middle">8</text>
<line x1="469.5" y1="453.25" x2="469.5" y2="456.65" stroke="#000" stroke-width="1.2"/>
<text x="469.5" y="469.55" font-size="9" text-anchor="middle">12</text>
<line x1="487.5" y1="453.25" x2="487.5" y2="456.65" stroke="#000" stroke-width="1.2"/>
<text x="487.5" y="469.55" font-size="9" text-anchor="middle">16</text>
<line x1="434.25" y1="452.73" x2="434.25" y2="452.21" stroke="#c02a50" stroke-width="1.1"/>
<line x1="432.25" y1="452.21" x2="436.25" y2="452.21" stroke="#c02a50" stroke-width="1.1"/>
<line x1="434.25" y1="452.73" x2="434.25" y2="453.25" stroke="#c02a50" stroke-width="1.1"/>
<line x1="432.25" y1="453.25" x2="436.25" y2="453.25" stroke="#c02a50" stroke-width="1.1"/>
<line x1="451.75" y1="452.73" x2="451.75" y2="451.7" stroke="#c02a50" stroke-width="1.1"/>
<line x1="449.75" y1="451.7" x2="453.75" y2="451.7" stroke="#c02a50" stroke-width="1.1"/>
<line x1="451.75" y1="452.73" x2="451.75" y2="453.25" stroke="#c02a50" stroke-width="1.1"/>
<line x1="449.75" y1="453.25" x2="453.75" y2="453.25" stroke="#c02a50" stroke-width="1.1"/>
<line x1="469.5" y1="452.73" x2="469.5" y2="452.21" stroke="#c02a50" stroke-width="1.1"/>
<line x1="467.5" y1="452.21" x2="471.5" y2="452.21" stroke="#c02a50" stroke-width="1.1"/>
<line x1="469.5" y1="452.73" x2="469.5" y2="453.25" stroke="#c02a50" stroke-width="1.1"/>
<line x1="467.5" y1="453.25" x2="471.5" y2="453.25" stroke="#c02a50" stroke-width="1.1"/>
<line x1="487.5" y1="452.73" x2="487.5" y2="452.21" stroke="#c02a50" stroke-width="1.1"/>
<line x1="485.5" y1="452.21" x2="489.5" y2="452.21" stroke="#c02a50" stroke-width="1.1"/>
<line x1="487.5" y1="452.73" x2="487.5" y2="453.25" stroke="#c02a50" stroke-width="1.1"/>
<line x1="485.5" y1="453.25" x2="489.5" y2="453.25" stroke="#c02a50" stroke-width="1.1"/>
<path d="M434.25,452.73 L451.75,452.73 L469.5,452.73 L487.5,452.73" stroke="#b0103c" stroke-width="1.1" fill="none"/>
<rect x="432.15" y="450.63" width="4.2" height="4.2" fill="#b0103c"/>
<rect x="449.65" y="450.63" width="4.2" height="4.2" fill="#b0103c"/>
<rect x="467.4" y="450.63" width="4.2" height="4.2" fill="#b0103c"/>
<rect x="485.4" y="450.63" width="4.2" height="4.2" fill="#b0103c"/>
<line x1="434.25" y1="450.46" x2="434.25" y2="449.11" stroke="#3d5d94" stroke-width="1.1"/>
<line x1="432.25" y1="449.11" x2="436.25" y2="449.11" stroke="#3d5d94" stroke-width="1.1"/>
<line x1="434.25" y1="450.46" x2="434.25" y2="453.25" stroke="#3d5d94" stroke-width="1.1"/>
<line x1="432.25" y1="453.25" x2="436.25" y2="453.25" stroke="#3d5d94" stroke-width="1.1"/>
<line x1="451.75" y1="434.21" x2="451.75" y2="416.71" stroke="#3d5d94" stroke-width="1.1"/>
<line x1="449.75" y1="416.71" x2="453.75" y2="416.71" stroke="#3d5d94" stroke-width="1.1"/>
<line x1="451.75" y1="434.21" x2="451.75" y2="451.18" stroke="#3d5d94" stroke-width="1.1"/>
<line x1="449.75" y1="451.18" x2="453.75" y2="451.18" stroke="#3d5d94" stroke-width="1.1"/>
<line x1="469.5" y1="429.24" x2="469.5" y2="413.2" stroke="#3d5d94" stroke-width="1.1"/>
<line x1="467.5" y1="413.2" x2="471.5" y2="413.2" stroke="#3d5d94" stroke-width="1.1"/>
<line x1="469.5" y1="429.24" x2="469.5" y2="444.97" stroke="#3d5d94" stroke-width="1.1"/>
<line x1="467.5" y1="444.97" x2="471.5" y2="444.97" stroke="#3d5d94" stroke-width="1.1"/>
<line x1="487.5" y1="424.27" x2="487.5" y2="408.23" stroke="#3d5d94" stroke-width="1.1"/>
<line x1="485.5" y1="408.23" x2="489.5" y2="408.23" stroke="#3d5d94" stroke-width="1.1"/>
<line x1="487.5" y1="424.27" x2="487.5" y2="439.48" stroke="#3d5d94" stroke-width="1.1"/>
<line x1="485.5" y1="439.48" x2="489.5" y2="439.48" stroke="#3d5d94" stroke-width="1.1"/>
<path d="M434.25,450.46 L451.75,434.21 L469.5,429.24 L487.5,424.27" stroke="#213f7a" stroke-width="1.1" fill="none"/>
<circle cx="434.25" cy="450.46" r="2.1" fill="#213f7a"/>
<circle cx="451.75" cy="434.21" r="2.1" fill="#213f7a"/>
<circle cx="469.5" cy="429.24" r="2.1" fill="#213f7a"/>
<circle cx="487.5" cy="424.27" r="2.1" fill="#213f7a"/>
<text x="422" y="381.8" font-size="6.6" textLength="15" lengthAdjust="spacingAndGlyphs">0.018</text>
<text x="444.25" y="381.8" font-size="6.6" textLength="15" lengthAdjust="spacingAndGlyphs">0.089</text>
<text x="464.25" y="381.8" font-size="6.6" textLength="18.25" lengthAdjust="spacingAndGlyphs">0.0014</text>
<text x="486.75" y="381.8" font-size="6.6" textLength="20.25" lengthAdjust="spacingAndGlyphs">2.2E-04</text>
<text x="215.75" y="487" font-size="12" textLength="113" lengthAdjust="spacingAndGlyphs">Weeks post-transplantation</text>
<text x="10.2" y="507" font-size="16.5" font-weight="bold" fill="#000" stroke="#000" stroke-width="0.45">D</text>
<text x="40.75" y="515" font-size="11" textLength="289.75" lengthAdjust="spacingAndGlyphs">HSC transplantation (50 CD45.2HSC+0.2M CD45.1 WBC)</text>
<rect x="335" y="508.05" width="13.75" height="6.75" fill="#2d4b84"/>
<text x="353.75" y="515" font-size="11" textLength="61.25" lengthAdjust="spacingAndGlyphs">+/+ (n=4+3)</text>
<rect x="419.5" y="508.05" width="13.5" height="6.75" fill="#ac0634"/>
<text x="437.5" y="515" font-size="11" textLength="58.75" lengthAdjust="spacingAndGlyphs">fl/fl (n=3+3)</text>
<text x="26.2" y="570.8" font-size="12" text-anchor="middle" textLength="74.8" lengthAdjust="spacingAndGlyphs" transform="rotate(-90 26.2 570.8)">Donor percentage</text>
<line x1="57" y1="525" x2="57" y2="617.05" stroke="#000" stroke-width="1.6"/>
<line x1="53.5" y1="616.25" x2="57" y2="616.25" stroke="#000" stroke-width="1.2"/>
<text x="49.3" y="619.45" font-size="9" text-anchor="end">0</text>
<line x1="53.5" y1="598.75" x2="57" y2="598.75" stroke="#000" stroke-width="1.2"/>
<text x="49.3" y="601.95" font-size="9" text-anchor="end">20</text>
<line x1="53.5" y1="581.25" x2="57" y2="581.25" stroke="#000" stroke-width="1.2"/>
<text x="49.3" y="584.45" font-size="9" text-anchor="end">40</text>
<line x1="53.5" y1="563.75" x2="57" y2="563.75" stroke="#000" stroke-width="1.2"/>
<text x="49.3" y="566.95" font-size="9" text-anchor="end">60</text>
<line x1="53.5" y1="546.25" x2="57" y2="546.25" stroke="#000" stroke-width="1.2"/>
<text x="49.3" y="549.45" font-size="9" text-anchor="end">80</text>
<line x1="53.5" y1="528.75" x2="57" y2="528.75" stroke="#000" stroke-width="1.2"/>
<text x="49.3" y="531.95" font-size="9" text-anchor="end">100</text>
<rect x="61.15" y="590" width="8.5" height="26.25" fill="#2d4b84"/>
<line x1="65.4" y1="590" x2="65.4" y2="559.38" stroke="#111" stroke-width="1.0"/>
<line x1="63.3" y1="559.38" x2="67.5" y2="559.38" stroke="#111" stroke-width="1.0"/>
<line x1="65.4" y1="590" x2="65.4" y2="616.25" stroke="#111" stroke-width="1.0"/>
<line x1="63.3" y1="616.25" x2="67.5" y2="616.25" stroke="#111" stroke-width="1.0"/>
<circle cx="63.4" cy="552.81" r="1.75" fill="#111"/>
<circle cx="67.4" cy="554.74" r="1.75" fill="#111"/>
<circle cx="65.4" cy="565.24" r="1.75" fill="#111"/>
<circle cx="63.4" cy="612.49" r="1.75" fill="#111"/>
<circle cx="66.4" cy="611.26" r="1.75" fill="#111"/>
<circle cx="65.4" cy="615.81" r="1.75" fill="#111"/>
<rect x="73" y="614.65" width="8.5" height="1.6" fill="#b5073a"/>
<line x1="77.25" y1="614.65" x2="77.25" y2="615.38" stroke="#111" stroke-width="1.0"/>
<line x1="75.15" y1="615.38" x2="79.35" y2="615.38" stroke="#111" stroke-width="1.0"/>
<line x1="77.25" y1="614.65" x2="77.25" y2="616.25" stroke="#111" stroke-width="1.0"/>
<line x1="75.15" y1="616.25" x2="79.35" y2="616.25" stroke="#111" stroke-width="1.0"/>
<circle cx="75.75" cy="615.38" r="1.55" fill="#fff" stroke="#111" stroke-width="1.1"/>
<circle cx="78.75" cy="615.81" r="1.55" fill="#fff" stroke="#111" stroke-width="1.1"/>
<line x1="73.85" y1="614.35" x2="80.65" y2="614.35" stroke="#111" stroke-width="1.4"/>
<line x1="71.33" y1="616.25" x2="71.33" y2="620.25" stroke="#000" stroke-width="1.2"/>
<text x="71.33" y="632.75" font-size="9" text-anchor="middle">HSC</text>
<text x="60" y="543.9" font-size="6.3" font-style="italic" fill="#222" textLength="23" lengthAdjust="spacingAndGlyphs">p=0.063</text>
<line x1="65.1" y1="545.8" x2="78.75" y2="545.8" stroke="#111" stroke-width="1.25"/>
<rect x="87.25" y="586.59" width="8.5" height="29.66" fill="#2d4b84"/>
<line x1="91.5" y1="586.59" x2="91.5" y2="557.01" stroke="#111" stroke-width="1.0"/>
<line x1="89.4" y1="557.01" x2="93.6" y2="557.01" stroke="#111" stroke-width="1.0"/>
<line x1="91.5" y1="586.59" x2="91.5" y2="616.25" stroke="#111" stroke-width="1.0"/>
<line x1="89.4" y1="616.25" x2="93.6" y2="616.25" stroke="#111" stroke-width="1.0"/>
<circle cx="91.5" cy="540.74" r="1.75" fill="#111"/>
<circle cx="91.5" cy="551.5" r="1.75" fill="#111"/>
<circle cx="91.5" cy="583.88" r="1.75" fill="#111"/>
<circle cx="89.5" cy="604.96" r="1.75" fill="#111"/>
<circle cx="93.5" cy="603.74" r="1.75" fill="#111"/>
<circle cx="91.5" cy="615.81" r="1.75" fill="#111"/>
<rect x="99.35" y="614.65" width="8.5" height="1.6" fill="#b5073a"/>
<line x1="103.6" y1="614.65" x2="103.6" y2="615.38" stroke="#111" stroke-width="1.0"/>
<line x1="101.5" y1="615.38" x2="105.7" y2="615.38" stroke="#111" stroke-width="1.0"/>
<line x1="103.6" y1="614.65" x2="103.6" y2="616.25" stroke="#111" stroke-width="1.0"/>
<line x1="101.5" y1="616.25" x2="105.7" y2="616.25" stroke="#111" stroke-width="1.0"/>
<circle cx="102.1" cy="615.38" r="1.55" fill="#fff" stroke="#111" stroke-width="1.1"/>
<circle cx="105.1" cy="615.81" r="1.55" fill="#fff" stroke="#111" stroke-width="1.1"/>
<line x1="100.2" y1="614.35" x2="107" y2="614.35" stroke="#111" stroke-width="1.4"/>
<line x1="97.55" y1="616.25" x2="97.55" y2="620.25" stroke="#000" stroke-width="1.2"/>
<text x="97.55" y="632.75" font-size="9" text-anchor="middle">MPP</text>
<text x="87" y="533.9" font-size="6.3" font-style="italic" fill="#222" textLength="22.5" lengthAdjust="spacingAndGlyphs">p=0.033</text>
<line x1="91.2" y1="536.05" x2="105.1" y2="536.05" stroke="#111" stroke-width="1.25"/>
<rect x="113.65" y="585.01" width="8.5" height="31.24" fill="#2d4b84"/>
<line x1="117.9" y1="585.01" x2="117.9" y2="551.5" stroke="#111" stroke-width="1.0"/>
<line x1="115.8" y1="551.5" x2="120" y2="551.5" stroke="#111" stroke-width="1.0"/>
<line x1="117.9" y1="585.01" x2="117.9" y2="616.25" stroke="#111" stroke-width="1.0"/>
<line x1="115.8" y1="616.25" x2="120" y2="616.25" stroke="#111" stroke-width="1.0"/>
<circle cx="117.9" cy="538.46" r="1.75" fill="#111"/>
<circle cx="117.9" cy="549.23" r="1.75" fill="#111"/>
<circle cx="117.9" cy="563.49" r="1.75" fill="#111"/>
<circle cx="115.9" cy="607.5" r="1.75" fill="#111"/>
<circle cx="119.9" cy="606.71" r="1.75" fill="#111"/>
<circle cx="117.9" cy="615.81" r="1.75" fill="#111"/>
<rect x="125.5" y="614.65" width="8.5" height="1.6" fill="#b5073a"/>
<line x1="129.75" y1="614.65" x2="129.75" y2="615.38" stroke="#111" stroke-width="1.0"/>
<line x1="127.65" y1="615.38" x2="131.85" y2="615.38" stroke="#111" stroke-width="1.0"/>
<line x1="129.75" y1="614.65" x2="129.75" y2="616.25" stroke="#111" stroke-width="1.0"/>
<line x1="127.65" y1="616.25" x2="131.85" y2="616.25" stroke="#111" stroke-width="1.0"/>
<circle cx="128.25" cy="615.38" r="1.55" fill="#fff" stroke="#111" stroke-width="1.1"/>
<circle cx="131.25" cy="615.81" r="1.55" fill="#fff" stroke="#111" stroke-width="1.1"/>
<line x1="126.35" y1="614.35" x2="133.15" y2="614.35" stroke="#111" stroke-width="1.4"/>
<line x1="123.83" y1="616.25" x2="123.83" y2="620.25" stroke="#000" stroke-width="1.2"/>
<text x="123.83" y="632.75" font-size="9" text-anchor="middle">MP</text>
<text x="113" y="532.4" font-size="6.3" font-style="italic" fill="#222" textLength="23.25" lengthAdjust="spacingAndGlyphs">p=0.038</text>
<line x1="117.6" y1="535.05" x2="131.25" y2="535.05" stroke="#111" stroke-width="1.25"/>
<rect x="139.85" y="586.24" width="8.5" height="30.01" fill="#2d4b84"/>
<line x1="144.1" y1="586.24" x2="144.1" y2="554.74" stroke="#111" stroke-width="1.0"/>
<line x1="142" y1="554.74" x2="146.2" y2="554.74" stroke="#111" stroke-width="1.0"/>
<line x1="144.1" y1="586.24" x2="144.1" y2="616.25" stroke="#111" stroke-width="1.0"/>
<line x1="142" y1="616.25" x2="146.2" y2="616.25" stroke="#111" stroke-width="1.0"/>
<circle cx="144.1" cy="543.01" r="1.75" fill="#111"/>
<circle cx="144.1" cy="550.01" r="1.75" fill="#111"/>
<circle cx="144.1" cy="565.5" r="1.75" fill="#111"/>
<circle cx="142.1" cy="606.98" r="1.75" fill="#111"/>
<circle cx="146.1" cy="607.5" r="1.75" fill="#111"/>
<circle cx="144.1" cy="611.26" r="1.75" fill="#111"/>
<rect x="152" y="614.65" width="8.5" height="1.6" fill="#b5073a"/>
<line x1="156.25" y1="614.65" x2="156.25" y2="615.38" stroke="#111" stroke-width="1.0"/>
<line x1="154.15" y1="615.38" x2="158.35" y2="615.38" stroke="#111" stroke-width="1.0"/>
<line x1="156.25" y1="614.65" x2="156.25" y2="616.25" stroke="#111" stroke-width="1.0"/>
<line x1="154.15" y1="616.25" x2="158.35" y2="616.25" stroke="#111" stroke-width="1.0"/>
<circle cx="154.75" cy="615.38" r="1.55" fill="#fff" stroke="#111" stroke-width="1.1"/>
<circle cx="157.75" cy="615.81" r="1.55" fill="#fff" stroke="#111" stroke-width="1.1"/>
<line x1="152.85" y1="614.35" x2="159.65" y2="614.35" stroke="#111" stroke-width="1.4"/>
<line x1="150.18" y1="616.25" x2="150.18" y2="620.25" stroke="#000" stroke-width="1.2"/>
<text x="150.18" y="632.75" font-size="9" text-anchor="middle">LSK</text>
<text x="139.5" y="535.65" font-size="6.3" font-style="italic" fill="#222" textLength="23" lengthAdjust="spacingAndGlyphs">p=0.041</text>
<line x1="143.8" y1="537.8" x2="157.75" y2="537.8" stroke="#111" stroke-width="1.25"/>
<line x1="56.2" y1="616.25" x2="165.5" y2="616.25" stroke="#000" stroke-width="1.6"/>
<text x="188.8" y="570.8" font-size="12" text-anchor="middle" textLength="74.8" lengthAdjust="spacingAndGlyphs" transform="rotate(-90 188.8 570.8)">Donor percentage</text>
<line x1="219.25" y1="525" x2="219.25" y2="617.05" stroke="#000" stroke-width="1.6"/>
<line x1="215.75" y1="616.25" x2="219.25" y2="616.25" stroke="#000" stroke-width="1.2"/>
<text x="211.55" y="619.45" font-size="9" text-anchor="end">0</text>
<line x1="215.75" y1="598.75" x2="219.25" y2="598.75" stroke="#000" stroke-width="1.2"/>
<text x="211.55" y="601.95" font-size="9" text-anchor="end">20</text>
<line x1="215.75" y1="581.25" x2="219.25" y2="581.25" stroke="#000" stroke-width="1.2"/>
<text x="211.55" y="584.45" font-size="9" text-anchor="end">40</text>
<line x1="215.75" y1="563.75" x2="219.25" y2="563.75" stroke="#000" stroke-width="1.2"/>
<text x="211.55" y="566.95" font-size="9" text-anchor="end">60</text>
<line x1="215.75" y1="546.25" x2="219.25" y2="546.25" stroke="#000" stroke-width="1.2"/>
<text x="211.55" y="549.45" font-size="9" text-anchor="end">80</text>
<line x1="215.75" y1="528.75" x2="219.25" y2="528.75" stroke="#000" stroke-width="1.2"/>
<text x="211.55" y="531.95" font-size="9" text-anchor="end">100</text>
<rect x="223.85" y="579.5" width="8.5" height="36.75" fill="#2d4b84"/>
<line x1="228.1" y1="579.5" x2="228.1" y2="545.46" stroke="#111" stroke-width="1.0"/>
<line x1="226" y1="545.46" x2="230.2" y2="545.46" stroke="#111" stroke-width="1.0"/>
<line x1="228.1" y1="579.5" x2="228.1" y2="613.62" stroke="#111" stroke-width="1.0"/>
<line x1="226" y1="613.62" x2="230.2" y2="613.62" stroke="#111" stroke-width="1.0"/>
<circle cx="225.5" cy="533.74" r="1.75" fill="#111"/>
<circle cx="230" cy="530.5" r="1.75" fill="#111"/>
<circle cx="228.1" cy="585.01" r="1.75" fill="#111"/>
<circle cx="230.1" cy="587.46" r="1.75" fill="#111"/>
<circle cx="228.1" cy="601.38" r="1.75" fill="#111"/>
<circle cx="228.1" cy="606.71" r="1.75" fill="#111"/>
<circle cx="228.1" cy="615.81" r="1.75" fill="#111"/>
<rect x="235.95" y="614.65" width="8.5" height="1.6" fill="#b5073a"/>
<line x1="240.2" y1="614.65" x2="240.2" y2="615.38" stroke="#111" stroke-width="1.0"/>
<line x1="238.1" y1="615.38" x2="242.3" y2="615.38" stroke="#111" stroke-width="1.0"/>
<line x1="240.2" y1="614.65" x2="240.2" y2="616.25" stroke="#111" stroke-width="1.0"/>
<line x1="238.1" y1="616.25" x2="242.3" y2="616.25" stroke="#111" stroke-width="1.0"/>
<circle cx="238.7" cy="615.38" r="1.55" fill="#fff" stroke="#111" stroke-width="1.1"/>
<circle cx="241.7" cy="615.81" r="1.55" fill="#fff" stroke="#111" stroke-width="1.1"/>
<line x1="236.8" y1="614.35" x2="243.6" y2="614.35" stroke="#111" stroke-width="1.4"/>
<line x1="234.15" y1="616.25" x2="234.15" y2="620.25" stroke="#000" stroke-width="1.2"/>
<text x="234.15" y="632.75" font-size="9" text-anchor="middle">GMP</text>
<text x="218" y="528.9" font-size="6.3" font-style="italic" fill="#222" textLength="28" lengthAdjust="spacingAndGlyphs">p=0.027</text>
<line x1="227.8" y1="529.8" x2="241.7" y2="529.8" stroke="#111" stroke-width="1.25"/>
<rect x="250.35" y="578.71" width="8.5" height="37.54" fill="#2d4b84"/>
<line x1="254.6" y1="578.71" x2="254.6" y2="551.24" stroke="#111" stroke-width="1.0"/>
<line x1="252.5" y1="551.24" x2="256.7" y2="551.24" stroke="#111" stroke-width="1.0"/>
<line x1="254.6" y1="578.71" x2="254.6" y2="607.5" stroke="#111" stroke-width="1.0"/>
<line x1="252.5" y1="607.5" x2="256.7" y2="607.5" stroke="#111" stroke-width="1.0"/>
<circle cx="253" cy="546.77" r="1.75" fill="#111"/>
<circle cx="256.5" cy="543.71" r="1.75" fill="#111"/>
<circle cx="254.6" cy="561.21" r="1.75" fill="#111"/>
<circle cx="252.5" cy="594.99" r="1.75" fill="#111"/>
<circle cx="256.5" cy="592.98" r="1.75" fill="#111"/>
<circle cx="254.6" cy="599.98" r="1.75" fill="#111"/>
<circle cx="254.6" cy="613.71" r="1.75" fill="#111"/>
<rect x="262.65" y="614.06" width="8.5" height="2.19" fill="#b5073a"/>
<line x1="266.9" y1="614.06" x2="266.9" y2="611.88" stroke="#111" stroke-width="1.0"/>
<line x1="264.8" y1="611.88" x2="269" y2="611.88" stroke="#111" stroke-width="1.0"/>
<line x1="266.9" y1="614.06" x2="266.9" y2="616.25" stroke="#111" stroke-width="1.0"/>
<line x1="264.8" y1="616.25" x2="269" y2="616.25" stroke="#111" stroke-width="1.0"/>
<circle cx="264.9" cy="611" r="1.55" fill="#fff" stroke="#111" stroke-width="1.1"/>
<circle cx="268.9" cy="612.31" r="1.55" fill="#fff" stroke="#111" stroke-width="1.1"/>
<circle cx="266.9" cy="614.5" r="1.55" fill="#fff" stroke="#111" stroke-width="1.1"/>
<line x1="260.75" y1="616.25" x2="260.75" y2="620.25" stroke="#000" stroke-width="1.2"/>
<text x="260.75" y="632.75" font-size="9" text-anchor="middle">MEP</text>
<text x="249.5" y="533.9" font-size="6.3" font-style="italic" fill="#222" textLength="23" lengthAdjust="spacingAndGlyphs">p=0.012</text>
<line x1="254.3" y1="536.05" x2="268.4" y2="536.05" stroke="#111" stroke-width="1.25"/>
<rect x="277.25" y="577.49" width="8.5" height="38.76" fill="#2d4b84"/>
<line x1="281.5" y1="577.49" x2="281.5" y2="544.24" stroke="#111" stroke-width="1.0"/>
<line x1="279.4" y1="544.24" x2="283.6" y2="544.24" stroke="#111" stroke-width="1.0"/>
<line x1="281.5" y1="577.49" x2="281.5" y2="609.51" stroke="#111" stroke-width="1.0"/>
<line x1="279.4" y1="609.51" x2="283.6" y2="609.51" stroke="#111" stroke-width="1.0"/>
<circle cx="279.5" cy="535.49" r="1.75" fill="#111"/>
<circle cx="283.5" cy="532.51" r="1.75" fill="#111"/>
<circle cx="281.5" cy="571.27" r="1.75" fill="#111"/>
<circle cx="281.5" cy="586.24" r="1.75" fill="#111"/>
<circle cx="279.5" cy="597.52" r="1.75" fill="#111"/>
<circle cx="283.5" cy="600.5" r="1.75" fill="#111"/>
<circle cx="281.5" cy="615.81" r="1.75" fill="#111"/>
<rect x="289.35" y="614.65" width="8.5" height="1.6" fill="#b5073a"/>
<line x1="293.6" y1="614.65" x2="293.6" y2="613.62" stroke="#111" stroke-width="1.0"/>
<line x1="291.5" y1="613.62" x2="295.7" y2="613.62" stroke="#111" stroke-width="1.0"/>
<line x1="293.6" y1="614.65" x2="293.6" y2="616.25" stroke="#111" stroke-width="1.0"/>
<line x1="291.5" y1="616.25" x2="295.7" y2="616.25" stroke="#111" stroke-width="1.0"/>
<circle cx="291.6" cy="614.5" r="1.55" fill="#fff" stroke="#111" stroke-width="1.1"/>
<circle cx="293.6" cy="613.19" r="1.55" fill="#fff" stroke="#111" stroke-width="1.1"/>
<circle cx="295.6" cy="614.94" r="1.55" fill="#fff" stroke="#111" stroke-width="1.1"/>
<line x1="290.2" y1="614.35" x2="297" y2="614.35" stroke="#111" stroke-width="1.4"/>
<line x1="287.55" y1="616.25" x2="287.55" y2="620.25" stroke="#000" stroke-width="1.2"/>
<text x="287.55" y="632.75" font-size="9" text-anchor="middle">CMP</text>
<text x="276.25" y="527.4" font-size="6.3" font-style="italic" fill="#222" textLength="22.5" lengthAdjust="spacingAndGlyphs">p=0.015</text>
<line x1="281.2" y1="529.8" x2="295.1" y2="529.8" stroke="#111" stroke-width="1.25"/>
<rect x="303.65" y="579.5" width="8.5" height="36.75" fill="#2d4b84"/>
<line x1="307.9" y1="579.5" x2="307.9" y2="549.49" stroke="#111" stroke-width="1.0"/>
<line x1="305.8" y1="549.49" x2="310" y2="549.49" stroke="#111" stroke-width="1.0"/>
<line x1="307.9" y1="579.5" x2="307.9" y2="613.27" stroke="#111" stroke-width="1.0"/>
<line x1="305.8" y1="613.27" x2="310" y2="613.27" stroke="#111" stroke-width="1.0"/>
<circle cx="306" cy="536.98" r="1.75" fill="#111"/>
<circle cx="310" cy="540.04" r="1.75" fill="#111"/>
<circle cx="307.9" cy="571.98" r="1.75" fill="#111"/>
<circle cx="307.9" cy="591.23" r="1.75" fill="#111"/>
<circle cx="307.9" cy="597" r="1.75" fill="#111"/>
<circle cx="307.9" cy="603.74" r="1.75" fill="#111"/>
<circle cx="307.9" cy="615.81" r="1.75" fill="#111"/>
<rect x="315.95" y="614.65" width="8.5" height="1.6" fill="#b5073a"/>
<line x1="320.2" y1="614.65" x2="320.2" y2="613.62" stroke="#111" stroke-width="1.0"/>
<line x1="318.1" y1="613.62" x2="322.3" y2="613.62" stroke="#111" stroke-width="1.0"/>
<line x1="320.2" y1="614.65" x2="320.2" y2="616.25" stroke="#111" stroke-width="1.0"/>
<line x1="318.1" y1="616.25" x2="322.3" y2="616.25" stroke="#111" stroke-width="1.0"/>
<circle cx="318.2" cy="614.5" r="1.55" fill="#fff" stroke="#111" stroke-width="1.1"/>
<circle cx="320.2" cy="613.19" r="1.55" fill="#fff" stroke="#111" stroke-width="1.1"/>
<circle cx="322.2" cy="614.94" r="1.55" fill="#fff" stroke="#111" stroke-width="1.1"/>
<line x1="316.8" y1="614.35" x2="323.6" y2="614.35" stroke="#111" stroke-width="1.4"/>
<line x1="314.05" y1="616.25" x2="314.05" y2="620.25" stroke="#000" stroke-width="1.2"/>
<text x="314.05" y="632.75" font-size="9" text-anchor="middle">LK</text>
<text x="304.5" y="533.15" font-size="6.3" font-style="italic" fill="#222" textLength="23.5" lengthAdjust="spacingAndGlyphs">p=0.017</text>
<line x1="307.6" y1="535.3" x2="321.7" y2="535.3" stroke="#111" stroke-width="1.25"/>
<line x1="218.45" y1="616.25" x2="328" y2="616.25" stroke="#000" stroke-width="1.6"/>
<text x="351.8" y="570.8" font-size="12" text-anchor="middle" textLength="74.8" lengthAdjust="spacingAndGlyphs" transform="rotate(-90 351.8 570.8)">Donor percentage</text>
<line x1="382.5" y1="525" x2="382.5" y2="617.05" stroke="#000" stroke-width="1.6"/>
<line x1="379" y1="616.25" x2="382.5" y2="616.25" stroke="#000" stroke-width="1.2"/>
<text x="374.8" y="619.45" font-size="9" text-anchor="end">0</text>
<line x1="379" y1="598.75" x2="382.5" y2="598.75" stroke="#000" stroke-width="1.2"/>
<text x="374.8" y="601.95" font-size="9" text-anchor="end">20</text>
<line x1="379" y1="581.25" x2="382.5" y2="581.25" stroke="#000" stroke-width="1.2"/>
<text x="374.8" y="584.45" font-size="9" text-anchor="end">40</text>
<line x1="379" y1="563.75" x2="382.5" y2="563.75" stroke="#000" stroke-width="1.2"/>
<text x="374.8" y="566.95" font-size="9" text-anchor="end">60</text>
<line x1="379" y1="546.25" x2="382.5" y2="546.25" stroke="#000" stroke-width="1.2"/>
<text x="374.8" y="549.45" font-size="9" text-anchor="end">80</text>
<line x1="379" y1="528.75" x2="382.5" y2="528.75" stroke="#000" stroke-width="1.2"/>
<text x="374.8" y="531.95" font-size="9" text-anchor="end">100</text>
<rect x="387" y="591.23" width="8.5" height="25.02" fill="#2d4b84"/>
<line x1="391.25" y1="591.23" x2="391.25" y2="573.73" stroke="#111" stroke-width="1.0"/>
<line x1="389.15" y1="573.73" x2="393.35" y2="573.73" stroke="#111" stroke-width="1.0"/>
<line x1="391.25" y1="591.23" x2="391.25" y2="607.5" stroke="#111" stroke-width="1.0"/>
<line x1="389.15" y1="607.5" x2="393.35" y2="607.5" stroke="#111" stroke-width="1.0"/>
<circle cx="391.25" cy="565.76" r="1.75" fill="#111"/>
<circle cx="391.25" cy="583.79" r="1.75" fill="#111"/>
<circle cx="391.25" cy="593.76" r="1.75" fill="#111"/>
<circle cx="391.25" cy="605.49" r="1.75" fill="#111"/>
<circle cx="391.25" cy="612.49" r="1.75" fill="#111"/>
<circle cx="391.25" cy="615.81" r="1.75" fill="#111"/>
<rect x="399.25" y="614.65" width="8.5" height="1.6" fill="#b5073a"/>
<line x1="403.5" y1="614.65" x2="403.5" y2="612.75" stroke="#111" stroke-width="1.0"/>
<line x1="401.4" y1="612.75" x2="405.6" y2="612.75" stroke="#111" stroke-width="1.0"/>
<line x1="403.5" y1="614.65" x2="403.5" y2="616.25" stroke="#111" stroke-width="1.0"/>
<line x1="401.4" y1="616.25" x2="405.6" y2="616.25" stroke="#111" stroke-width="1.0"/>
<circle cx="403.5" cy="607.5" r="1.55" fill="#fff" stroke="#111" stroke-width="1.1"/>
<circle cx="401.5" cy="615.38" r="1.55" fill="#fff" stroke="#111" stroke-width="1.1"/>
<circle cx="405.5" cy="615.81" r="1.55" fill="#fff" stroke="#111" stroke-width="1.1"/>
<line x1="397.38" y1="616.25" x2="397.38" y2="620.25" stroke="#000" stroke-width="1.2"/>
<text x="397.38" y="632.75" font-size="9" text-anchor="middle">B220+</text>
<text x="383.75" y="559.4" font-size="6.3" font-style="italic" fill="#222" textLength="22.5" lengthAdjust="spacingAndGlyphs">p=0.006</text>
<line x1="390.95" y1="561.05" x2="405" y2="561.05" stroke="#111" stroke-width="1.25"/>
<rect x="413.65" y="599.98" width="8.5" height="16.27" fill="#2d4b84"/>
<line x1="417.9" y1="599.98" x2="417.9" y2="589.04" stroke="#111" stroke-width="1.0"/>
<line x1="415.8" y1="589.04" x2="420" y2="589.04" stroke="#111" stroke-width="1.0"/>
<line x1="417.9" y1="599.98" x2="417.9" y2="613.01" stroke="#111" stroke-width="1.0"/>
<line x1="415.8" y1="613.01" x2="420" y2="613.01" stroke="#111" stroke-width="1.0"/>
<circle cx="417.9" cy="583.79" r="1.75" fill="#111"/>
<circle cx="415.9" cy="592.01" r="1.75" fill="#111"/>
<circle cx="419.9" cy="597.52" r="1.75" fill="#111"/>
<circle cx="417.9" cy="596.74" r="1.75" fill="#111"/>
<circle cx="419.9" cy="600.76" r="1.75" fill="#111"/>
<circle cx="415.9" cy="610.04" r="1.75" fill="#111"/>
<circle cx="419.9" cy="611.96" r="1.75" fill="#111"/>
<rect x="425.75" y="614.65" width="8.5" height="1.6" fill="#b5073a"/>
<line x1="430" y1="614.65" x2="430" y2="615.38" stroke="#111" stroke-width="1.0"/>
<line x1="427.9" y1="615.38" x2="432.1" y2="615.38" stroke="#111" stroke-width="1.0"/>
<line x1="430" y1="614.65" x2="430" y2="616.25" stroke="#111" stroke-width="1.0"/>
<line x1="427.9" y1="616.25" x2="432.1" y2="616.25" stroke="#111" stroke-width="1.0"/>
<circle cx="428.5" cy="615.38" r="1.55" fill="#fff" stroke="#111" stroke-width="1.1"/>
<circle cx="431.5" cy="615.81" r="1.55" fill="#fff" stroke="#111" stroke-width="1.1"/>
<line x1="426.6" y1="614.35" x2="433.4" y2="614.35" stroke="#111" stroke-width="1.4"/>
<line x1="423.95" y1="616.25" x2="423.95" y2="620.25" stroke="#000" stroke-width="1.2"/>
<text x="423.95" y="632.75" font-size="9" text-anchor="middle">CD3+</text>
<text x="412.5" y="569.9" font-size="6.3" font-style="italic" fill="#222" textLength="22.5" lengthAdjust="spacingAndGlyphs">p=0.003</text>
<line x1="417.6" y1="572.05" x2="431.5" y2="572.05" stroke="#111" stroke-width="1.25"/>
<rect x="440.75" y="576.26" width="8.5" height="39.99" fill="#2d4b84"/>
<line x1="445" y1="576.26" x2="445" y2="542.49" stroke="#111" stroke-width="1.0"/>
<line x1="442.9" y1="542.49" x2="447.1" y2="542.49" stroke="#111" stroke-width="1.0"/>
<line x1="445" y1="576.26" x2="445" y2="609.51" stroke="#111" stroke-width="1.0"/>
<line x1="442.9" y1="609.51" x2="447.1" y2="609.51" stroke="#111" stroke-width="1.0"/>
<circle cx="443" cy="532.51" r="1.75" fill="#111"/>
<circle cx="447" cy="530.5" r="1.75" fill="#111"/>
<circle cx="445" cy="580.02" r="1.75" fill="#111"/>
<circle cx="445" cy="583.79" r="1.75" fill="#111"/>
<circle cx="443" cy="597.52" r="1.75" fill="#111"/>
<circle cx="447" cy="598.75" r="1.75" fill="#111"/>
<circle cx="445" cy="615.46" r="1.75" fill="#111"/>
<rect x="452.75" y="614.65" width="8.5" height="1.6" fill="#b5073a"/>
<line x1="457" y1="614.65" x2="457" y2="615.38" stroke="#111" stroke-width="1.0"/>
<line x1="454.9" y1="615.38" x2="459.1" y2="615.38" stroke="#111" stroke-width="1.0"/>
<line x1="457" y1="614.65" x2="457" y2="616.25" stroke="#111" stroke-width="1.0"/>
<line x1="454.9" y1="616.25" x2="459.1" y2="616.25" stroke="#111" stroke-width="1.0"/>
<circle cx="455.5" cy="615.38" r="1.55" fill="#fff" stroke="#111" stroke-width="1.1"/>
<circle cx="458.5" cy="615.81" r="1.55" fill="#fff" stroke="#111" stroke-width="1.1"/>
<line x1="453.6" y1="614.35" x2="460.4" y2="614.35" stroke="#111" stroke-width="1.4"/>
<line x1="451" y1="616.25" x2="451" y2="620.25" stroke="#000" stroke-width="1.2"/>
<text x="451" y="632.75" font-size="9" text-anchor="middle">Mac-</text>
<text x="451" y="642.95" font-size="9" text-anchor="middle">1+</text>
<text x="439.25" y="526.4" font-size="6.3" font-style="italic" fill="#222" textLength="23.25" lengthAdjust="spacingAndGlyphs">p=0.013</text>
<line x1="444.7" y1="529.05" x2="458.5" y2="529.05" stroke="#111" stroke-width="1.25"/>
<rect x="467.35" y="590" width="8.5" height="26.25" fill="#2d4b84"/>
<line x1="471.6" y1="590" x2="471.6" y2="569.26" stroke="#111" stroke-width="1.0"/>
<line x1="469.5" y1="569.26" x2="473.7" y2="569.26" stroke="#111" stroke-width="1.0"/>
<line x1="471.6" y1="590" x2="471.6" y2="610.48" stroke="#111" stroke-width="1.0"/>
<line x1="469.5" y1="610.48" x2="473.7" y2="610.48" stroke="#111" stroke-width="1.0"/>
<circle cx="469.6" cy="563.75" r="1.75" fill="#111"/>
<circle cx="473.6" cy="562.52" r="1.75" fill="#111"/>
<circle cx="471.6" cy="585.01" r="1.75" fill="#111"/>
<circle cx="471.6" cy="591.23" r="1.75" fill="#111"/>
<circle cx="469.6" cy="604.96" r="1.75" fill="#111"/>
<circle cx="473.6" cy="605.49" r="1.75" fill="#111"/>
<circle cx="471.6" cy="610.04" r="1.75" fill="#111"/>
<rect x="479.35" y="614.65" width="8.5" height="1.6" fill="#b5073a"/>
<line x1="483.6" y1="614.65" x2="483.6" y2="615.38" stroke="#111" stroke-width="1.0"/>
<line x1="481.5" y1="615.38" x2="485.7" y2="615.38" stroke="#111" stroke-width="1.0"/>
<line x1="483.6" y1="614.65" x2="483.6" y2="616.25" stroke="#111" stroke-width="1.0"/>
<line x1="481.5" y1="616.25" x2="485.7" y2="616.25" stroke="#111" stroke-width="1.0"/>
<circle cx="482.1" cy="615.38" r="1.55" fill="#fff" stroke="#111" stroke-width="1.1"/>
<circle cx="485.1" cy="615.81" r="1.55" fill="#fff" stroke="#111" stroke-width="1.1"/>
<line x1="480.2" y1="614.35" x2="487" y2="614.35" stroke="#111" stroke-width="1.4"/>
<line x1="477.6" y1="616.25" x2="477.6" y2="620.25" stroke="#000" stroke-width="1.2"/>
<text x="477.6" y="632.75" font-size="9" text-anchor="middle">CD45+</text>
<text x="468" y="555.65" font-size="6.3" font-style="italic" fill="#222" textLength="23.25" lengthAdjust="spacingAndGlyphs">p=0.010</text>
<line x1="471.3" y1="557.3" x2="485.1" y2="557.3" stroke="#111" stroke-width="1.25"/>
<line x1="381.7" y1="616.25" x2="492.5" y2="616.25" stroke="#000" stroke-width="1.6"/>
<text x="10.2" y="663.5" font-size="16.5" font-weight="bold" fill="#000" stroke="#000" stroke-width="0.45">E</text>
<text x="43.75" y="671.25" font-size="11" textLength="271.75" lengthAdjust="spacingAndGlyphs">Chimerism maintenance (0.5M CD45.2+0.5M CD45.1)</text>
<line x1="323.75" y1="668" x2="337.5" y2="668" stroke="#3d5d94" stroke-width="1.0"/>
<circle cx="330.62" cy="668" r="2.85" fill="#213f7a"/>
<text x="342" y="671.5" font-size="11" textLength="61" lengthAdjust="spacingAndGlyphs">+/+ (n=3+2)</text>
<line x1="408.75" y1="668" x2="422" y2="668" stroke="#c02a50" stroke-width="1.0"/>
<rect x="412.62" y="665.5" width="5.5" height="5" fill="#b0103c"/>
<text x="428" y="671.5" font-size="11" textLength="55.75" lengthAdjust="spacingAndGlyphs">fl/fl(n=3+2)</text>
<text x="67" y="687.5" font-size="11" textLength="64" lengthAdjust="spacingAndGlyphs">Total CD45+</text>
<text x="202.5" y="687.5" font-size="11" textLength="37.5" lengthAdjust="spacingAndGlyphs">Mac-1+</text>
<text x="323.75" y="687.5" font-size="11" textLength="32" lengthAdjust="spacingAndGlyphs">B220+</text>
<text x="446.25" y="687.5" font-size="11" textLength="29.25" lengthAdjust="spacingAndGlyphs">CD3+</text>
<text x="26.2" y="736.4" font-size="12" text-anchor="middle" textLength="73.7" lengthAdjust="spacingAndGlyphs" transform="rotate(-90 26.2 736.4)">Donor percentage</text>
<line x1="57.25" y1="702" x2="57.25" y2="772.2" stroke="#000" stroke-width="1.6"/>
<line x1="53.75" y1="771.4" x2="57.25" y2="771.4" stroke="#000" stroke-width="1.2"/>
<text x="49.55" y="774.6" font-size="9" text-anchor="end">0</text>
<line x1="53.75" y1="758" x2="57.25" y2="758" stroke="#000" stroke-width="1.2"/>
<text x="49.55" y="761.2" font-size="9" text-anchor="end">20</text>
<line x1="53.75" y1="744.6" x2="57.25" y2="744.6" stroke="#000" stroke-width="1.2"/>
<text x="49.55" y="747.8" font-size="9" text-anchor="end">40</text>
<line x1="53.75" y1="731.2" x2="57.25" y2="731.2" stroke="#000" stroke-width="1.2"/>
<text x="49.55" y="734.4" font-size="9" text-anchor="end">60</text>
<line x1="53.75" y1="717.8" x2="57.25" y2="717.8" stroke="#000" stroke-width="1.2"/>
<text x="49.55" y="721" font-size="9" text-anchor="end">80</text>
<line x1="53.75" y1="704.4" x2="57.25" y2="704.4" stroke="#000" stroke-width="1.2"/>
<text x="49.55" y="707.6" font-size="9" text-anchor="end">100</text>
<line x1="56.45" y1="771.4" x2="138.6" y2="771.4" stroke="#000" stroke-width="1.6"/>
<line x1="63.4" y1="771.4" x2="63.4" y2="774.8" stroke="#000" stroke-width="1.2"/>
<text x="63.4" y="788.2" font-size="9" text-anchor="middle">-2</text>
<line x1="77.2" y1="771.4" x2="77.2" y2="774.8" stroke="#000" stroke-width="1.2"/>
<text x="77.2" y="788.2" font-size="9" text-anchor="middle">0</text>
<line x1="91.1" y1="771.4" x2="91.1" y2="774.8" stroke="#000" stroke-width="1.2"/>
<text x="91.1" y="788.2" font-size="9" text-anchor="middle">1</text>
<line x1="104.9" y1="771.4" x2="104.9" y2="774.8" stroke="#000" stroke-width="1.2"/>
<text x="104.9" y="788.2" font-size="9" text-anchor="middle">4</text>
<line x1="119.2" y1="771.4" x2="119.2" y2="774.8" stroke="#000" stroke-width="1.2"/>
<text x="119.2" y="788.2" font-size="9" text-anchor="middle">6</text>
<line x1="133.1" y1="771.4" x2="133.1" y2="774.8" stroke="#000" stroke-width="1.2"/>
<text x="133.1" y="788.2" font-size="9" text-anchor="middle">16</text>
<path d="M63.4,729.52 L77.2,725.84 L91.1,743.13 L104.9,756.93 L119.2,751.97 L133.1,761.22" stroke="#b0103c" stroke-width="0.9" fill="none"/>
<rect x="61.6" y="727.73" width="3.6" height="3.6" fill="#b0103c"/>
<rect x="75.4" y="724.04" width="3.6" height="3.6" fill="#b0103c"/>
<rect x="89.3" y="741.33" width="3.6" height="3.6" fill="#b0103c"/>
<rect x="103.1" y="755.13" width="3.6" height="3.6" fill="#b0103c"/>
<rect x="117.4" y="750.17" width="3.6" height="3.6" fill="#b0103c"/>
<rect x="131.3" y="759.42" width="3.6" height="3.6" fill="#b0103c"/>
<path d="M63.4,731.2 L77.2,729.86 L91.1,744.6 L104.9,759.67 L119.2,766.17 L133.1,763.09" stroke="#b0103c" stroke-width="0.9" fill="none"/>
<rect x="61.6" y="729.4" width="3.6" height="3.6" fill="#b0103c"/>
<rect x="75.4" y="728.06" width="3.6" height="3.6" fill="#b0103c"/>
<rect x="89.3" y="742.8" width="3.6" height="3.6" fill="#b0103c"/>
<rect x="103.1" y="757.88" width="3.6" height="3.6" fill="#b0103c"/>
<rect x="117.4" y="764.37" width="3.6" height="3.6" fill="#b0103c"/>
<rect x="131.3" y="761.29" width="3.6" height="3.6" fill="#b0103c"/>
<path d="M63.4,736.23 L77.2,735.42 L91.1,743.93 L104.9,766.91 L119.2,768.52 L133.1,764.63" stroke="#b0103c" stroke-width="0.9" fill="none"/>
<rect x="61.6" y="734.43" width="3.6" height="3.6" fill="#b0103c"/>
<rect x="75.4" y="733.62" width="3.6" height="3.6" fill="#b0103c"/>
<rect x="89.3" y="742.13" width="3.6" height="3.6" fill="#b0103c"/>
<rect x="103.1" y="765.11" width="3.6" height="3.6" fill="#b0103c"/>
<rect x="117.4" y="766.72" width="3.6" height="3.6" fill="#b0103c"/>
<rect x="131.3" y="762.83" width="3.6" height="3.6" fill="#b0103c"/>
<path d="M63.4,737.7 L77.2,745.4 L91.1,755.39 L104.9,769.19 L119.2,768.52 L133.1,763.36" stroke="#b0103c" stroke-width="0.9" fill="none"/>
<rect x="61.6" y="735.9" width="3.6" height="3.6" fill="#b0103c"/>
<rect x="75.4" y="743.6" width="3.6" height="3.6" fill="#b0103c"/>
<rect x="89.3" y="753.59" width="3.6" height="3.6" fill="#b0103c"/>
<rect x="103.1" y="767.39" width="3.6" height="3.6" fill="#b0103c"/>
<rect x="117.4" y="766.72" width="3.6" height="3.6" fill="#b0103c"/>
<rect x="131.3" y="761.56" width="3.6" height="3.6" fill="#b0103c"/>
<path d="M63.4,734.55 L77.2,734.55 L91.1,744.6 L104.9,768.05 L119.2,767.38 L133.1,762.02" stroke="#b0103c" stroke-width="0.9" fill="none"/>
<rect x="61.6" y="732.75" width="3.6" height="3.6" fill="#b0103c"/>
<rect x="75.4" y="732.75" width="3.6" height="3.6" fill="#b0103c"/>
<rect x="89.3" y="742.8" width="3.6" height="3.6" fill="#b0103c"/>
<rect x="103.1" y="766.25" width="3.6" height="3.6" fill="#b0103c"/>
<rect x="117.4" y="765.58" width="3.6" height="3.6" fill="#b0103c"/>
<rect x="131.3" y="760.22" width="3.6" height="3.6" fill="#b0103c"/>
<path d="M63.4,735.42 L77.2,729.99 L91.1,733.81 L104.9,739.98 L119.2,739.17 L133.1,736.89" stroke="#213f7a" stroke-width="0.9" fill="none"/>
<circle cx="63.4" cy="735.42" r="1.6" fill="#213f7a"/>
<circle cx="77.2" cy="729.99" r="1.6" fill="#213f7a"/>
<circle cx="91.1" cy="733.81" r="1.6" fill="#213f7a"/>
<circle cx="104.9" cy="739.98" r="1.6" fill="#213f7a"/>
<circle cx="119.2" cy="739.17" r="1.6" fill="#213f7a"/>
<circle cx="133.1" cy="736.89" r="1.6" fill="#213f7a"/>
<path d="M63.4,739.98 L77.2,735.42 L91.1,735.09 L104.9,734.62 L119.2,728.99 L133.1,723.16" stroke="#213f7a" stroke-width="0.9" fill="none"/>
<circle cx="63.4" cy="739.98" r="1.6" fill="#213f7a"/>
<circle cx="77.2" cy="735.42" r="1.6" fill="#213f7a"/>
<circle cx="91.1" cy="735.09" r="1.6" fill="#213f7a"/>
<circle cx="104.9" cy="734.62" r="1.6" fill="#213f7a"/>
<circle cx="119.2" cy="728.99" r="1.6" fill="#213f7a"/>
<circle cx="133.1" cy="723.16" r="1.6" fill="#213f7a"/>
<path d="M63.4,741.52 L77.2,741.52 L91.1,721.49 L104.9,719.81 L119.2,720.48 L133.1,713.11" stroke="#213f7a" stroke-width="0.9" fill="none"/>
<circle cx="63.4" cy="741.52" r="1.6" fill="#213f7a"/>
<circle cx="77.2" cy="741.52" r="1.6" fill="#213f7a"/>
<circle cx="91.1" cy="721.49" r="1.6" fill="#213f7a"/>
<circle cx="104.9" cy="719.81" r="1.6" fill="#213f7a"/>
<circle cx="119.2" cy="720.48" r="1.6" fill="#213f7a"/>
<circle cx="133.1" cy="713.11" r="1.6" fill="#213f7a"/>
<path d="M63.4,743.13 L77.2,743.13 L91.1,726.17 L104.9,723.16 L119.2,715.79 L133.1,719.14" stroke="#213f7a" stroke-width="0.9" fill="none"/>
<circle cx="63.4" cy="743.13" r="1.6" fill="#213f7a"/>
<circle cx="77.2" cy="743.13" r="1.6" fill="#213f7a"/>
<circle cx="91.1" cy="726.17" r="1.6" fill="#213f7a"/>
<circle cx="104.9" cy="723.16" r="1.6" fill="#213f7a"/>
<circle cx="119.2" cy="715.79" r="1.6" fill="#213f7a"/>
<circle cx="133.1" cy="719.14" r="1.6" fill="#213f7a"/>
<path d="M63.4,734.55 L77.2,735.89 L91.1,733.88 L104.9,734.55 L119.2,739.24 L133.1,736.56" stroke="#213f7a" stroke-width="0.9" fill="none"/>
<circle cx="63.4" cy="734.55" r="1.6" fill="#213f7a"/>
<circle cx="77.2" cy="735.89" r="1.6" fill="#213f7a"/>
<circle cx="91.1" cy="733.88" r="1.6" fill="#213f7a"/>
<circle cx="104.9" cy="734.55" r="1.6" fill="#213f7a"/>
<circle cx="119.2" cy="739.24" r="1.6" fill="#213f7a"/>
<circle cx="133.1" cy="736.56" r="1.6" fill="#213f7a"/>
<text x="58.3" y="700.3" font-size="6.6" textLength="10.5" lengthAdjust="spacingAndGlyphs">0.11</text>
<text x="80.4" y="700.3" font-size="6.6" textLength="19.6" lengthAdjust="spacingAndGlyphs">1.2E-03</text>
<text x="111.2" y="700.3" font-size="6.6" textLength="19.2" lengthAdjust="spacingAndGlyphs">2.5E-04</text>
<text x="69.8" y="706.7" font-size="6.6" textLength="10.6" lengthAdjust="spacingAndGlyphs">0.44</text>
<text x="95.8" y="706.7" font-size="6.6" textLength="20.2" lengthAdjust="spacingAndGlyphs">1.0E-04</text>
<text x="123.7" y="706.7" font-size="6.6" textLength="20.3" lengthAdjust="spacingAndGlyphs">6.3E-05</text>
<line x1="180.3" y1="702" x2="180.3" y2="772.2" stroke="#000" stroke-width="1.6"/>
<line x1="176.8" y1="771.4" x2="180.3" y2="771.4" stroke="#000" stroke-width="1.2"/>
<text x="172.6" y="774.6" font-size="9" text-anchor="end">0</text>
<line x1="176.8" y1="758.1" x2="180.3" y2="758.1" stroke="#000" stroke-width="1.2"/>
<text x="172.6" y="761.3" font-size="9" text-anchor="end">20</text>
<line x1="176.8" y1="744.8" x2="180.3" y2="744.8" stroke="#000" stroke-width="1.2"/>
<text x="172.6" y="748" font-size="9" text-anchor="end">40</text>
<line x1="176.8" y1="731.5" x2="180.3" y2="731.5" stroke="#000" stroke-width="1.2"/>
<text x="172.6" y="734.7" font-size="9" text-anchor="end">60</text>
<line x1="176.8" y1="718.2" x2="180.3" y2="718.2" stroke="#000" stroke-width="1.2"/>
<text x="172.6" y="721.4" font-size="9" text-anchor="end">80</text>
<line x1="176.8" y1="704.9" x2="180.3" y2="704.9" stroke="#000" stroke-width="1.2"/>
<text x="172.6" y="708.1" font-size="9" text-anchor="end">100</text>
<line x1="179.5" y1="771.4" x2="262" y2="771.4" stroke="#000" stroke-width="1.6"/>
<line x1="186.6" y1="771.4" x2="186.6" y2="774.8" stroke="#000" stroke-width="1.2"/>
<text x="186.6" y="788.2" font-size="9" text-anchor="middle">-2</text>
<line x1="200.4" y1="771.4" x2="200.4" y2="774.8" stroke="#000" stroke-width="1.2"/>
<text x="200.4" y="788.2" font-size="9" text-anchor="middle">0</text>
<line x1="214.5" y1="771.4" x2="214.5" y2="774.8" stroke="#000" stroke-width="1.2"/>
<text x="214.5" y="788.2" font-size="9" text-anchor="middle">1</text>
<line x1="228.4" y1="771.4" x2="228.4" y2="774.8" stroke="#000" stroke-width="1.2"/>
<text x="228.4" y="788.2" font-size="9" text-anchor="middle">4</text>
<line x1="242.3" y1="771.4" x2="242.3" y2="774.8" stroke="#000" stroke-width="1.2"/>
<text x="242.3" y="788.2" font-size="9" text-anchor="middle">6</text>
<line x1="256.3" y1="771.4" x2="256.3" y2="774.8" stroke="#000" stroke-width="1.2"/>
<text x="256.3" y="788.2" font-size="9" text-anchor="middle">16</text>
<path d="M186.6,721.99 L200.4,724.85 L214.5,733.3 L228.4,754.51 L242.3,769.01 L256.3,763.29" stroke="#b0103c" stroke-width="0.9" fill="none"/>
<rect x="184.8" y="720.19" width="3.6" height="3.6" fill="#b0103c"/>
<rect x="198.6" y="723.05" width="3.6" height="3.6" fill="#b0103c"/>
<rect x="212.7" y="731.5" width="3.6" height="3.6" fill="#b0103c"/>
<rect x="226.6" y="752.71" width="3.6" height="3.6" fill="#b0103c"/>
<rect x="240.5" y="767.21" width="3.6" height="3.6" fill="#b0103c"/>
<rect x="254.5" y="761.49" width="3.6" height="3.6" fill="#b0103c"/>
<path d="M186.6,731.5 L200.4,730.7 L214.5,747.99 L228.4,741.28 L242.3,743.87 L256.3,763.42" stroke="#b0103c" stroke-width="0.9" fill="none"/>
<rect x="184.8" y="729.7" width="3.6" height="3.6" fill="#b0103c"/>
<rect x="198.6" y="728.9" width="3.6" height="3.6" fill="#b0103c"/>
<rect x="212.7" y="746.19" width="3.6" height="3.6" fill="#b0103c"/>
<rect x="226.6" y="739.48" width="3.6" height="3.6" fill="#b0103c"/>
<rect x="240.5" y="742.07" width="3.6" height="3.6" fill="#b0103c"/>
<rect x="254.5" y="761.62" width="3.6" height="3.6" fill="#b0103c"/>
<path d="M186.6,732.83 L200.4,730.7 L214.5,757.1 L228.4,759.76 L242.3,768.07 L256.3,764.75" stroke="#b0103c" stroke-width="0.9" fill="none"/>
<rect x="184.8" y="731.03" width="3.6" height="3.6" fill="#b0103c"/>
<rect x="198.6" y="728.9" width="3.6" height="3.6" fill="#b0103c"/>
<rect x="212.7" y="755.3" width="3.6" height="3.6" fill="#b0103c"/>
<rect x="226.6" y="757.96" width="3.6" height="3.6" fill="#b0103c"/>
<rect x="240.5" y="766.27" width="3.6" height="3.6" fill="#b0103c"/>
<rect x="254.5" y="762.95" width="3.6" height="3.6" fill="#b0103c"/>
<path d="M186.6,734.16 L200.4,736.02 L214.5,758.43 L228.4,761.42 L242.3,766.61 L256.3,764.08" stroke="#b0103c" stroke-width="0.9" fill="none"/>
<rect x="184.8" y="732.36" width="3.6" height="3.6" fill="#b0103c"/>
<rect x="198.6" y="734.22" width="3.6" height="3.6" fill="#b0103c"/>
<rect x="212.7" y="756.63" width="3.6" height="3.6" fill="#b0103c"/>
<rect x="226.6" y="759.62" width="3.6" height="3.6" fill="#b0103c"/>
<rect x="240.5" y="764.81" width="3.6" height="3.6" fill="#b0103c"/>
<rect x="254.5" y="762.28" width="3.6" height="3.6" fill="#b0103c"/>
<path d="M186.6,733.5 L200.4,730.17 L214.5,749.45 L228.4,767.41 L242.3,769.4 L256.3,762.75" stroke="#b0103c" stroke-width="0.9" fill="none"/>
<rect x="184.8" y="731.7" width="3.6" height="3.6" fill="#b0103c"/>
<rect x="198.6" y="728.37" width="3.6" height="3.6" fill="#b0103c"/>
<rect x="212.7" y="747.65" width="3.6" height="3.6" fill="#b0103c"/>
<rect x="226.6" y="765.61" width="3.6" height="3.6" fill="#b0103c"/>
<rect x="240.5" y="767.61" width="3.6" height="3.6" fill="#b0103c"/>
<rect x="254.5" y="760.96" width="3.6" height="3.6" fill="#b0103c"/>
<path d="M186.6,726.18 L200.4,717.53 L214.5,716.4 L228.4,717.53 L242.3,714.88 L256.3,717.53" stroke="#213f7a" stroke-width="0.9" fill="none"/>
<circle cx="186.6" cy="726.18" r="1.6" fill="#213f7a"/>
<circle cx="200.4" cy="717.53" r="1.6" fill="#213f7a"/>
<circle cx="214.5" cy="716.4" r="1.6" fill="#213f7a"/>
<circle cx="228.4" cy="717.53" r="1.6" fill="#213f7a"/>
<circle cx="242.3" cy="714.88" r="1.6" fill="#213f7a"/>
<circle cx="256.3" cy="717.53" r="1.6" fill="#213f7a"/>
<path d="M186.6,726.51 L200.4,722.86 L214.5,725.18 L228.4,725.51 L242.3,720.86 L256.3,716.54" stroke="#213f7a" stroke-width="0.9" fill="none"/>
<circle cx="186.6" cy="726.51" r="1.6" fill="#213f7a"/>
<circle cx="200.4" cy="722.86" r="1.6" fill="#213f7a"/>
<circle cx="214.5" cy="725.18" r="1.6" fill="#213f7a"/>
<circle cx="228.4" cy="725.51" r="1.6" fill="#213f7a"/>
<circle cx="242.3" cy="720.86" r="1.6" fill="#213f7a"/>
<circle cx="256.3" cy="716.54" r="1.6" fill="#213f7a"/>
<path d="M186.6,735.49 L200.4,728.97 L214.5,722.52 L228.4,715.21 L242.3,712.21 L256.3,708.89" stroke="#213f7a" stroke-width="0.9" fill="none"/>
<circle cx="186.6" cy="735.49" r="1.6" fill="#213f7a"/>
<circle cx="200.4" cy="728.97" r="1.6" fill="#213f7a"/>
<circle cx="214.5" cy="722.52" r="1.6" fill="#213f7a"/>
<circle cx="228.4" cy="715.21" r="1.6" fill="#213f7a"/>
<circle cx="242.3" cy="712.21" r="1.6" fill="#213f7a"/>
<circle cx="256.3" cy="708.89" r="1.6" fill="#213f7a"/>
<path d="M186.6,736.29 L200.4,730.57 L214.5,731.37 L228.4,731.37 L242.3,733.89 L256.3,740.41" stroke="#213f7a" stroke-width="0.9" fill="none"/>
<circle cx="186.6" cy="736.29" r="1.6" fill="#213f7a"/>
<circle cx="200.4" cy="730.57" r="1.6" fill="#213f7a"/>
<circle cx="214.5" cy="731.37" r="1.6" fill="#213f7a"/>
<circle cx="228.4" cy="731.37" r="1.6" fill="#213f7a"/>
<circle cx="242.3" cy="733.89" r="1.6" fill="#213f7a"/>
<circle cx="256.3" cy="740.41" r="1.6" fill="#213f7a"/>
<path d="M186.6,738.81 L200.4,738.81 L214.5,744.47 L228.4,741.21 L242.3,743.67 L256.3,740.14" stroke="#213f7a" stroke-width="0.9" fill="none"/>
<circle cx="186.6" cy="738.81" r="1.6" fill="#213f7a"/>
<circle cx="200.4" cy="738.81" r="1.6" fill="#213f7a"/>
<circle cx="214.5" cy="744.47" r="1.6" fill="#213f7a"/>
<circle cx="228.4" cy="741.21" r="1.6" fill="#213f7a"/>
<circle cx="242.3" cy="743.67" r="1.6" fill="#213f7a"/>
<circle cx="256.3" cy="740.14" r="1.6" fill="#213f7a"/>
<text x="181" y="700.6" font-size="6.6" textLength="12.2" lengthAdjust="spacingAndGlyphs">0.66</text>
<text x="206.2" y="700.6" font-size="6.6" textLength="14.3" lengthAdjust="spacingAndGlyphs">0.015</text>
<text x="234" y="700.6" font-size="6.6" textLength="20.3" lengthAdjust="spacingAndGlyphs">1.0E-03</text>
<text x="192" y="706.6" font-size="6.6" textLength="12.4" lengthAdjust="spacingAndGlyphs">0.40</text>
<text x="218.4" y="706.6" font-size="6.6" textLength="20.3" lengthAdjust="spacingAndGlyphs">1.4E-03</text>
<text x="246" y="706.6" font-size="6.6" textLength="20.5" lengthAdjust="spacingAndGlyphs">4.2E-04</text>
<line x1="298" y1="702" x2="298" y2="772.2" stroke="#000" stroke-width="1.6"/>
<line x1="294.5" y1="771.4" x2="298" y2="771.4" stroke="#000" stroke-width="1.2"/>
<text x="290.3" y="774.6" font-size="9" text-anchor="end">0</text>
<line x1="294.5" y1="757.96" x2="298" y2="757.96" stroke="#000" stroke-width="1.2"/>
<text x="290.3" y="761.16" font-size="9" text-anchor="end">20</text>
<line x1="294.5" y1="744.52" x2="298" y2="744.52" stroke="#000" stroke-width="1.2"/>
<text x="290.3" y="747.72" font-size="9" text-anchor="end">40</text>
<line x1="294.5" y1="731.08" x2="298" y2="731.08" stroke="#000" stroke-width="1.2"/>
<text x="290.3" y="734.28" font-size="9" text-anchor="end">60</text>
<line x1="294.5" y1="717.64" x2="298" y2="717.64" stroke="#000" stroke-width="1.2"/>
<text x="290.3" y="720.84" font-size="9" text-anchor="end">80</text>
<line x1="294.5" y1="704.2" x2="298" y2="704.2" stroke="#000" stroke-width="1.2"/>
<text x="290.3" y="707.4" font-size="9" text-anchor="end">100</text>
<line x1="297.2" y1="771.4" x2="382.2" y2="771.4" stroke="#000" stroke-width="1.6"/>
<line x1="305.6" y1="771.4" x2="305.6" y2="774.8" stroke="#000" stroke-width="1.2"/>
<text x="305.6" y="788.2" font-size="9" text-anchor="middle">-2</text>
<line x1="319.4" y1="771.4" x2="319.4" y2="774.8" stroke="#000" stroke-width="1.2"/>
<text x="319.4" y="788.2" font-size="9" text-anchor="middle">0</text>
<line x1="333.1" y1="771.4" x2="333.1" y2="774.8" stroke="#000" stroke-width="1.2"/>
<text x="333.1" y="788.2" font-size="9" text-anchor="middle">1</text>
<line x1="347.1" y1="771.4" x2="347.1" y2="774.8" stroke="#000" stroke-width="1.2"/>
<text x="347.1" y="788.2" font-size="9" text-anchor="middle">4</text>
<line x1="360.9" y1="771.4" x2="360.9" y2="774.8" stroke="#000" stroke-width="1.2"/>
<text x="360.9" y="788.2" font-size="9" text-anchor="middle">6</text>
<line x1="375.2" y1="771.4" x2="375.2" y2="774.8" stroke="#000" stroke-width="1.2"/>
<text x="375.2" y="788.2" font-size="9" text-anchor="middle">16</text>
<path d="M305.6,727.38 L319.4,723.28 L333.1,740.89 L347.1,757.89 L360.9,758.9 L375.2,764.08" stroke="#b0103c" stroke-width="0.9" fill="none"/>
<rect x="303.8" y="725.58" width="3.6" height="3.6" fill="#b0103c"/>
<rect x="317.6" y="721.48" width="3.6" height="3.6" fill="#b0103c"/>
<rect x="331.3" y="739.09" width="3.6" height="3.6" fill="#b0103c"/>
<rect x="345.3" y="756.09" width="3.6" height="3.6" fill="#b0103c"/>
<rect x="359.1" y="757.1" width="3.6" height="3.6" fill="#b0103c"/>
<rect x="373.4" y="762.28" width="3.6" height="3.6" fill="#b0103c"/>
<path d="M305.6,729.06 L319.4,723.28 L333.1,741.83 L347.1,759.98 L360.9,761.72 L375.2,765.76" stroke="#b0103c" stroke-width="0.9" fill="none"/>
<rect x="303.8" y="727.26" width="3.6" height="3.6" fill="#b0103c"/>
<rect x="317.6" y="721.48" width="3.6" height="3.6" fill="#b0103c"/>
<rect x="331.3" y="740.03" width="3.6" height="3.6" fill="#b0103c"/>
<rect x="345.3" y="758.18" width="3.6" height="3.6" fill="#b0103c"/>
<rect x="359.1" y="759.92" width="3.6" height="3.6" fill="#b0103c"/>
<rect x="373.4" y="763.96" width="3.6" height="3.6" fill="#b0103c"/>
<path d="M305.6,745.33 L319.4,735.52 L333.1,754 L347.1,767.1 L360.9,768.17 L375.2,768.17" stroke="#b0103c" stroke-width="0.9" fill="none"/>
<rect x="303.8" y="743.53" width="3.6" height="3.6" fill="#b0103c"/>
<rect x="317.6" y="733.72" width="3.6" height="3.6" fill="#b0103c"/>
<rect x="331.3" y="752.2" width="3.6" height="3.6" fill="#b0103c"/>
<rect x="345.3" y="765.3" width="3.6" height="3.6" fill="#b0103c"/>
<rect x="359.1" y="766.37" width="3.6" height="3.6" fill="#b0103c"/>
<rect x="373.4" y="766.37" width="3.6" height="3.6" fill="#b0103c"/>
<path d="M305.6,736.46 L319.4,742.57 L333.1,746.13 L347.1,768.98 L360.9,769.79 L375.2,767.37" stroke="#b0103c" stroke-width="0.9" fill="none"/>
<rect x="303.8" y="734.66" width="3.6" height="3.6" fill="#b0103c"/>
<rect x="317.6" y="740.77" width="3.6" height="3.6" fill="#b0103c"/>
<rect x="331.3" y="744.33" width="3.6" height="3.6" fill="#b0103c"/>
<rect x="345.3" y="767.18" width="3.6" height="3.6" fill="#b0103c"/>
<rect x="359.1" y="767.99" width="3.6" height="3.6" fill="#b0103c"/>
<rect x="373.4" y="765.57" width="3.6" height="3.6" fill="#b0103c"/>
<path d="M305.6,748.55 L319.4,735.52 L333.1,753.59 L347.1,768.04 L360.9,769.05 L375.2,768.04" stroke="#b0103c" stroke-width="0.9" fill="none"/>
<rect x="303.8" y="746.75" width="3.6" height="3.6" fill="#b0103c"/>
<rect x="317.6" y="733.72" width="3.6" height="3.6" fill="#b0103c"/>
<rect x="331.3" y="751.79" width="3.6" height="3.6" fill="#b0103c"/>
<rect x="345.3" y="766.24" width="3.6" height="3.6" fill="#b0103c"/>
<rect x="359.1" y="767.25" width="3.6" height="3.6" fill="#b0103c"/>
<rect x="373.4" y="766.24" width="3.6" height="3.6" fill="#b0103c"/>
<path d="M305.6,726.51 L319.4,718.72 L333.1,719.66 L347.1,722.48 L360.9,714.95 L375.2,714.95" stroke="#213f7a" stroke-width="0.9" fill="none"/>
<circle cx="305.6" cy="726.51" r="1.6" fill="#213f7a"/>
<circle cx="319.4" cy="718.72" r="1.6" fill="#213f7a"/>
<circle cx="333.1" cy="719.66" r="1.6" fill="#213f7a"/>
<circle cx="347.1" cy="722.48" r="1.6" fill="#213f7a"/>
<circle cx="360.9" cy="714.95" r="1.6" fill="#213f7a"/>
<circle cx="375.2" cy="714.95" r="1.6" fill="#213f7a"/>
<path d="M305.6,728.39 L319.4,724.09 L333.1,723.62 L347.1,718.72 L360.9,716.7 L375.2,708.23" stroke="#213f7a" stroke-width="0.9" fill="none"/>
<circle cx="305.6" cy="728.39" r="1.6" fill="#213f7a"/>
<circle cx="319.4" cy="724.09" r="1.6" fill="#213f7a"/>
<circle cx="333.1" cy="723.62" r="1.6" fill="#213f7a"/>
<circle cx="347.1" cy="718.72" r="1.6" fill="#213f7a"/>
<circle cx="360.9" cy="716.7" r="1.6" fill="#213f7a"/>
<circle cx="375.2" cy="708.23" r="1.6" fill="#213f7a"/>
<path d="M305.6,735.52 L319.4,730.14 L333.1,730.61 L347.1,733.9 L360.9,730.14 L375.2,717.1" stroke="#213f7a" stroke-width="0.9" fill="none"/>
<circle cx="305.6" cy="735.52" r="1.6" fill="#213f7a"/>
<circle cx="319.4" cy="730.14" r="1.6" fill="#213f7a"/>
<circle cx="333.1" cy="730.61" r="1.6" fill="#213f7a"/>
<circle cx="347.1" cy="733.9" r="1.6" fill="#213f7a"/>
<circle cx="360.9" cy="730.14" r="1.6" fill="#213f7a"/>
<circle cx="375.2" cy="717.1" r="1.6" fill="#213f7a"/>
<path d="M305.6,737.8 L319.4,729.74 L333.1,732.42 L347.1,733.9 L360.9,735.99 L375.2,730.74" stroke="#213f7a" stroke-width="0.9" fill="none"/>
<circle cx="305.6" cy="737.8" r="1.6" fill="#213f7a"/>
<circle cx="319.4" cy="729.74" r="1.6" fill="#213f7a"/>
<circle cx="333.1" cy="732.42" r="1.6" fill="#213f7a"/>
<circle cx="347.1" cy="733.9" r="1.6" fill="#213f7a"/>
<circle cx="360.9" cy="735.99" r="1.6" fill="#213f7a"/>
<circle cx="375.2" cy="730.74" r="1.6" fill="#213f7a"/>
<path d="M305.6,739.61 L319.4,730.14 L333.1,734.44 L347.1,739.61 L360.9,740.42 L375.2,731.42" stroke="#213f7a" stroke-width="0.9" fill="none"/>
<circle cx="305.6" cy="739.61" r="1.6" fill="#213f7a"/>
<circle cx="319.4" cy="730.14" r="1.6" fill="#213f7a"/>
<circle cx="333.1" cy="734.44" r="1.6" fill="#213f7a"/>
<circle cx="347.1" cy="739.61" r="1.6" fill="#213f7a"/>
<circle cx="360.9" cy="740.42" r="1.6" fill="#213f7a"/>
<circle cx="375.2" cy="731.42" r="1.6" fill="#213f7a"/>
<text x="299.4" y="700.6" font-size="6.6" textLength="11.6" lengthAdjust="spacingAndGlyphs">0.42</text>
<text x="322" y="700.6" font-size="6.6" textLength="20.2" lengthAdjust="spacingAndGlyphs">1.5E-03</text>
<text x="352.6" y="700.6" font-size="6.6" textLength="20.5" lengthAdjust="spacingAndGlyphs">1.7E-04</text>
<text x="311" y="706.6" font-size="6.6" textLength="12.2" lengthAdjust="spacingAndGlyphs">0.15</text>
<text x="337" y="706.6" font-size="6.6" textLength="20.5" lengthAdjust="spacingAndGlyphs">1.0E-04</text>
<text x="364.8" y="706.6" font-size="6.6" textLength="20" lengthAdjust="spacingAndGlyphs">9.6E-06</text>
<line x1="419.3" y1="702" x2="419.3" y2="772.2" stroke="#000" stroke-width="1.6"/>
<line x1="415.8" y1="771.4" x2="419.3" y2="771.4" stroke="#000" stroke-width="1.2"/>
<text x="411.6" y="774.6" font-size="9" text-anchor="end">0</text>
<line x1="415.8" y1="754.96" x2="419.3" y2="754.96" stroke="#000" stroke-width="1.2"/>
<text x="411.6" y="758.16" font-size="9" text-anchor="end">20</text>
<line x1="415.8" y1="738.52" x2="419.3" y2="738.52" stroke="#000" stroke-width="1.2"/>
<text x="411.6" y="741.72" font-size="9" text-anchor="end">40</text>
<line x1="415.8" y1="722.08" x2="419.3" y2="722.08" stroke="#000" stroke-width="1.2"/>
<text x="411.6" y="725.28" font-size="9" text-anchor="end">60</text>
<line x1="415.8" y1="705.64" x2="419.3" y2="705.64" stroke="#000" stroke-width="1.2"/>
<text x="411.6" y="708.84" font-size="9" text-anchor="end">80</text>
<line x1="418.5" y1="771.4" x2="501.4" y2="771.4" stroke="#000" stroke-width="1.6"/>
<line x1="426" y1="771.4" x2="426" y2="774.8" stroke="#000" stroke-width="1.2"/>
<text x="426" y="788.2" font-size="9" text-anchor="middle">-2</text>
<line x1="440.1" y1="771.4" x2="440.1" y2="774.8" stroke="#000" stroke-width="1.2"/>
<text x="440.1" y="788.2" font-size="9" text-anchor="middle">0</text>
<line x1="453.8" y1="771.4" x2="453.8" y2="774.8" stroke="#000" stroke-width="1.2"/>
<text x="453.8" y="788.2" font-size="9" text-anchor="middle">1</text>
<line x1="467.6" y1="771.4" x2="467.6" y2="774.8" stroke="#000" stroke-width="1.2"/>
<text x="467.6" y="788.2" font-size="9" text-anchor="middle">4</text>
<line x1="481.6" y1="771.4" x2="481.6" y2="774.8" stroke="#000" stroke-width="1.2"/>
<text x="481.6" y="788.2" font-size="9" text-anchor="middle">6</text>
<line x1="495.4" y1="771.4" x2="495.4" y2="774.8" stroke="#000" stroke-width="1.2"/>
<text x="495.4" y="788.2" font-size="9" text-anchor="middle">16</text>
<path d="M426,755.78 L440.1,733.59 L453.8,727.83 L467.6,744.27 L481.6,738.93 L495.4,738.93" stroke="#b0103c" stroke-width="0.9" fill="none"/>
<rect x="424.2" y="753.98" width="3.6" height="3.6" fill="#b0103c"/>
<rect x="438.3" y="731.79" width="3.6" height="3.6" fill="#b0103c"/>
<rect x="452" y="726.03" width="3.6" height="3.6" fill="#b0103c"/>
<rect x="465.8" y="742.47" width="3.6" height="3.6" fill="#b0103c"/>
<rect x="479.8" y="737.13" width="3.6" height="3.6" fill="#b0103c"/>
<rect x="493.6" y="737.13" width="3.6" height="3.6" fill="#b0103c"/>
<path d="M426,758.25 L440.1,736.3 L453.8,729.64 L467.6,736.88 L481.6,746.74 L495.4,750.44" stroke="#b0103c" stroke-width="0.9" fill="none"/>
<rect x="424.2" y="756.45" width="3.6" height="3.6" fill="#b0103c"/>
<rect x="438.3" y="734.5" width="3.6" height="3.6" fill="#b0103c"/>
<rect x="452" y="727.84" width="3.6" height="3.6" fill="#b0103c"/>
<rect x="465.8" y="735.08" width="3.6" height="3.6" fill="#b0103c"/>
<rect x="479.8" y="744.94" width="3.6" height="3.6" fill="#b0103c"/>
<rect x="493.6" y="748.64" width="3.6" height="3.6" fill="#b0103c"/>
<path d="M426,761.54 L440.1,738.93 L453.8,736.88 L467.6,746.74 L481.6,749.21 L495.4,752" stroke="#b0103c" stroke-width="0.9" fill="none"/>
<rect x="424.2" y="759.74" width="3.6" height="3.6" fill="#b0103c"/>
<rect x="438.3" y="737.13" width="3.6" height="3.6" fill="#b0103c"/>
<rect x="452" y="735.08" width="3.6" height="3.6" fill="#b0103c"/>
<rect x="465.8" y="744.94" width="3.6" height="3.6" fill="#b0103c"/>
<rect x="479.8" y="747.41" width="3.6" height="3.6" fill="#b0103c"/>
<rect x="493.6" y="750.2" width="3.6" height="3.6" fill="#b0103c"/>
<path d="M426,766.71 L440.1,745.1 L453.8,745.34 L467.6,747.73 L481.6,759.07 L495.4,752" stroke="#b0103c" stroke-width="0.9" fill="none"/>
<rect x="424.2" y="764.91" width="3.6" height="3.6" fill="#b0103c"/>
<rect x="438.3" y="743.3" width="3.6" height="3.6" fill="#b0103c"/>
<rect x="452" y="743.54" width="3.6" height="3.6" fill="#b0103c"/>
<rect x="465.8" y="745.93" width="3.6" height="3.6" fill="#b0103c"/>
<rect x="479.8" y="757.27" width="3.6" height="3.6" fill="#b0103c"/>
<rect x="493.6" y="750.2" width="3.6" height="3.6" fill="#b0103c"/>
<path d="M426,767.29 L440.1,749.21 L453.8,749.21 L467.6,757.43 L481.6,765.89 L495.4,763.59" stroke="#b0103c" stroke-width="0.9" fill="none"/>
<rect x="424.2" y="765.49" width="3.6" height="3.6" fill="#b0103c"/>
<rect x="438.3" y="747.41" width="3.6" height="3.6" fill="#b0103c"/>
<rect x="452" y="747.41" width="3.6" height="3.6" fill="#b0103c"/>
<rect x="465.8" y="755.63" width="3.6" height="3.6" fill="#b0103c"/>
<rect x="479.8" y="764.09" width="3.6" height="3.6" fill="#b0103c"/>
<rect x="493.6" y="761.79" width="3.6" height="3.6" fill="#b0103c"/>
<path d="M426,761.54 L440.1,719.61 L453.8,724.55 L467.6,727.01 L481.6,731.94 L495.4,708.11" stroke="#213f7a" stroke-width="0.9" fill="none"/>
<circle cx="426" cy="761.54" r="1.6" fill="#213f7a"/>
<circle cx="440.1" cy="719.61" r="1.6" fill="#213f7a"/>
<circle cx="453.8" cy="724.55" r="1.6" fill="#213f7a"/>
<circle cx="467.6" cy="727.01" r="1.6" fill="#213f7a"/>
<circle cx="481.6" cy="731.94" r="1.6" fill="#213f7a"/>
<circle cx="495.4" cy="708.11" r="1.6" fill="#213f7a"/>
<path d="M426,756.6 L440.1,727.01 L453.8,725.37 L467.6,731.94 L481.6,726.19 L495.4,714.27" stroke="#213f7a" stroke-width="0.9" fill="none"/>
<circle cx="426" cy="756.6" r="1.6" fill="#213f7a"/>
<circle cx="440.1" cy="727.01" r="1.6" fill="#213f7a"/>
<circle cx="453.8" cy="725.37" r="1.6" fill="#213f7a"/>
<circle cx="467.6" cy="731.94" r="1.6" fill="#213f7a"/>
<circle cx="481.6" cy="726.19" r="1.6" fill="#213f7a"/>
<circle cx="495.4" cy="714.27" r="1.6" fill="#213f7a"/>
<path d="M426,759.07 L440.1,728.66 L453.8,727.83 L467.6,736.3 L481.6,734.41 L495.4,723.89" stroke="#213f7a" stroke-width="0.9" fill="none"/>
<circle cx="426" cy="759.07" r="1.6" fill="#213f7a"/>
<circle cx="440.1" cy="728.66" r="1.6" fill="#213f7a"/>
<circle cx="453.8" cy="727.83" r="1.6" fill="#213f7a"/>
<circle cx="467.6" cy="736.3" r="1.6" fill="#213f7a"/>
<circle cx="481.6" cy="734.41" r="1.6" fill="#213f7a"/>
<circle cx="495.4" cy="723.89" r="1.6" fill="#213f7a"/>
<path d="M426,765.4 L440.1,731.94 L453.8,736.3 L467.6,740.16 L481.6,735.56 L495.4,725.7" stroke="#213f7a" stroke-width="0.9" fill="none"/>
<circle cx="426" cy="765.4" r="1.6" fill="#213f7a"/>
<circle cx="440.1" cy="731.94" r="1.6" fill="#213f7a"/>
<circle cx="453.8" cy="736.3" r="1.6" fill="#213f7a"/>
<circle cx="467.6" cy="740.16" r="1.6" fill="#213f7a"/>
<circle cx="481.6" cy="735.56" r="1.6" fill="#213f7a"/>
<circle cx="495.4" cy="725.7" r="1.6" fill="#213f7a"/>
<path d="M426,748.38 L440.1,747.56 L453.8,736.88 L467.6,746.74 L481.6,744.27 L495.4,730.3" stroke="#213f7a" stroke-width="0.9" fill="none"/>
<circle cx="426" cy="748.38" r="1.6" fill="#213f7a"/>
<circle cx="440.1" cy="747.56" r="1.6" fill="#213f7a"/>
<circle cx="453.8" cy="736.88" r="1.6" fill="#213f7a"/>
<circle cx="467.6" cy="746.74" r="1.6" fill="#213f7a"/>
<circle cx="481.6" cy="744.27" r="1.6" fill="#213f7a"/>
<circle cx="495.4" cy="730.3" r="1.6" fill="#213f7a"/>
<text x="420" y="700.6" font-size="6.6" textLength="12.3" lengthAdjust="spacingAndGlyphs">0.10</text>
<text x="447.3" y="700.6" font-size="6.6" textLength="11.7" lengthAdjust="spacingAndGlyphs">0.03</text>
<text x="477.7" y="700.6" font-size="6.6" textLength="11.7" lengthAdjust="spacingAndGlyphs">0.01</text>
<text x="431.8" y="706.6" font-size="6.6" textLength="12.4" lengthAdjust="spacingAndGlyphs">0.13</text>
<text x="462.4" y="706.6" font-size="6.6" textLength="11.6" lengthAdjust="spacingAndGlyphs">0.03</text>
<text x="485" y="706.6" font-size="6.6" textLength="20.8" lengthAdjust="spacingAndGlyphs">6.0E-04</text>
<text x="218" y="803.75" font-size="12" textLength="109" lengthAdjust="spacingAndGlyphs">Weeks post-plpC injection</text>
<text x="10.2" y="824.7" font-size="16.5" font-weight="bold" fill="#000" stroke="#000" stroke-width="0.45">F</text>
<text x="40.5" y="833" font-size="11" textLength="272.5" lengthAdjust="spacingAndGlyphs">Chimerism maintenance (0.5M CD45.2+0.5M CD45.1)</text>
<rect x="320.75" y="826.3" width="13.5" height="7" fill="#2d4b84"/>
<text x="339.5" y="833.75" font-size="11" textLength="61.75" lengthAdjust="spacingAndGlyphs">+/+ (n=3+2)</text>
<rect x="405.5" y="826.3" width="13.25" height="7" fill="#ac0634"/>
<text x="423" y="833.75" font-size="11" textLength="59.5" lengthAdjust="spacingAndGlyphs">fl/fl (n=3+2)</text>
<text x="26.2" y="900.9" font-size="12" text-anchor="middle" textLength="74.9" lengthAdjust="spacingAndGlyphs" transform="rotate(-90 26.2 900.9)">Donor percentage</text>
<line x1="57" y1="855" x2="57" y2="946.55" stroke="#000" stroke-width="1.6"/>
<line x1="53.5" y1="945.75" x2="57" y2="945.75" stroke="#000" stroke-width="1.2"/>
<text x="49.3" y="948.95" font-size="9" text-anchor="end">0</text>
<line x1="53.5" y1="928.5" x2="57" y2="928.5" stroke="#000" stroke-width="1.2"/>
<text x="49.3" y="931.7" font-size="9" text-anchor="end">20</text>
<line x1="53.5" y1="911.25" x2="57" y2="911.25" stroke="#000" stroke-width="1.2"/>
<text x="49.3" y="914.45" font-size="9" text-anchor="end">40</text>
<line x1="53.5" y1="894" x2="57" y2="894" stroke="#000" stroke-width="1.2"/>
<text x="49.3" y="897.2" font-size="9" text-anchor="end">60</text>
<line x1="53.5" y1="876.75" x2="57" y2="876.75" stroke="#000" stroke-width="1.2"/>
<text x="49.3" y="879.95" font-size="9" text-anchor="end">80</text>
<line x1="53.5" y1="859.5" x2="57" y2="859.5" stroke="#000" stroke-width="1.2"/>
<text x="49.3" y="862.7" font-size="9" text-anchor="end">100</text>
<rect x="60.65" y="881.92" width="8.5" height="63.83" fill="#2d4b84"/>
<line x1="64.9" y1="881.92" x2="64.9" y2="860.02" stroke="#111" stroke-width="1.0"/>
<line x1="62.8" y1="860.02" x2="67" y2="860.02" stroke="#111" stroke-width="1.0"/>
<line x1="64.9" y1="881.92" x2="64.9" y2="904.87" stroke="#111" stroke-width="1.0"/>
<line x1="62.8" y1="904.87" x2="67" y2="904.87" stroke="#111" stroke-width="1.0"/>
<circle cx="64.9" cy="860.02" r="1.75" fill="#111"/>
<circle cx="64.9" cy="865.02" r="1.75" fill="#111"/>
<circle cx="64.9" cy="876.23" r="1.75" fill="#111"/>
<circle cx="64.9" cy="893.22" r="1.75" fill="#111"/>
<circle cx="64.9" cy="915.74" r="1.75" fill="#111"/>
<rect x="73" y="934.54" width="8.5" height="11.21" fill="#b5073a"/>
<line x1="77.25" y1="934.54" x2="77.25" y2="927.03" stroke="#111" stroke-width="1.0"/>
<line x1="75.15" y1="927.03" x2="79.35" y2="927.03" stroke="#111" stroke-width="1.0"/>
<line x1="77.25" y1="934.54" x2="77.25" y2="945.75" stroke="#111" stroke-width="1.0"/>
<line x1="75.15" y1="945.75" x2="79.35" y2="945.75" stroke="#111" stroke-width="1.0"/>
<circle cx="75.25" cy="927.64" r="1.55" fill="#fff" stroke="#111" stroke-width="1.1"/>
<circle cx="79.25" cy="925.65" r="1.55" fill="#fff" stroke="#111" stroke-width="1.1"/>
<circle cx="77.25" cy="932.73" r="1.55" fill="#fff" stroke="#111" stroke-width="1.1"/>
<circle cx="77.25" cy="938.25" r="1.55" fill="#fff" stroke="#111" stroke-width="1.1"/>
<circle cx="77.25" cy="943.16" r="1.55" fill="#fff" stroke="#111" stroke-width="1.1"/>
<line x1="71.08" y1="945.75" x2="71.08" y2="949.75" stroke="#000" stroke-width="1.2"/>
<text x="71.08" y="962.25" font-size="9" text-anchor="middle">HSC</text>
<text x="57" y="853.15" font-size="6.3" font-style="italic" fill="#222" textLength="25" lengthAdjust="spacingAndGlyphs">p=0.0011</text>
<line x1="64.6" y1="854.8" x2="78.75" y2="854.8" stroke="#111" stroke-width="1.25"/>
<rect x="87" y="879.86" width="8.5" height="65.89" fill="#2d4b84"/>
<line x1="91.25" y1="879.86" x2="91.25" y2="861.23" stroke="#111" stroke-width="1.0"/>
<line x1="89.15" y1="861.23" x2="93.35" y2="861.23" stroke="#111" stroke-width="1.0"/>
<line x1="91.25" y1="879.86" x2="91.25" y2="900.9" stroke="#111" stroke-width="1.0"/>
<line x1="89.15" y1="900.9" x2="93.35" y2="900.9" stroke="#111" stroke-width="1.0"/>
<circle cx="91.25" cy="862" r="1.75" fill="#111"/>
<circle cx="91.25" cy="864.5" r="1.75" fill="#111"/>
<circle cx="91.25" cy="877.53" r="1.75" fill="#111"/>
<circle cx="93.05" cy="897.02" r="1.75" fill="#111"/>
<circle cx="89.55" cy="899.52" r="1.75" fill="#111"/>
<rect x="99.5" y="940.75" width="8.5" height="5" fill="#b5073a"/>
<line x1="103.75" y1="940.75" x2="103.75" y2="938.85" stroke="#111" stroke-width="1.0"/>
<line x1="101.65" y1="938.85" x2="105.85" y2="938.85" stroke="#111" stroke-width="1.0"/>
<line x1="103.75" y1="940.75" x2="103.75" y2="943.16" stroke="#111" stroke-width="1.0"/>
<line x1="101.65" y1="943.16" x2="105.85" y2="943.16" stroke="#111" stroke-width="1.0"/>
<circle cx="101.75" cy="939.71" r="1.55" fill="#fff" stroke="#111" stroke-width="1.1"/>
<circle cx="105.75" cy="939.71" r="1.55" fill="#fff" stroke="#111" stroke-width="1.1"/>
<circle cx="103.75" cy="941.44" r="1.55" fill="#fff" stroke="#111" stroke-width="1.1"/>
<circle cx="103.75" cy="942.3" r="1.55" fill="#fff" stroke="#111" stroke-width="1.1"/>
<line x1="97.5" y1="945.75" x2="97.5" y2="949.75" stroke="#000" stroke-width="1.2"/>
<text x="97.5" y="962.25" font-size="9" text-anchor="middle">MPP</text>
<text x="81.25" y="845.65" font-size="6.3" font-style="italic" fill="#222" textLength="28.25" lengthAdjust="spacingAndGlyphs">p=5.5E-05</text>
<line x1="90.95" y1="847.8" x2="105.25" y2="847.8" stroke="#111" stroke-width="1.25"/>
<rect x="113.35" y="875.02" width="8.5" height="70.73" fill="#2d4b84"/>
<line x1="117.6" y1="875.02" x2="117.6" y2="859.5" stroke="#111" stroke-width="1.0"/>
<line x1="115.5" y1="859.5" x2="119.7" y2="859.5" stroke="#111" stroke-width="1.0"/>
<line x1="117.6" y1="875.02" x2="117.6" y2="888.91" stroke="#111" stroke-width="1.0"/>
<line x1="115.5" y1="888.91" x2="119.7" y2="888.91" stroke="#111" stroke-width="1.0"/>
<circle cx="117.6" cy="860.02" r="1.75" fill="#111"/>
<circle cx="115.6" cy="870.54" r="1.75" fill="#111"/>
<circle cx="119.6" cy="869.59" r="1.75" fill="#111"/>
<circle cx="117.6" cy="881.41" r="1.75" fill="#111"/>
<circle cx="117.6" cy="897.97" r="1.75" fill="#111"/>
<rect x="125.65" y="943.25" width="8.5" height="2.5" fill="#b5073a"/>
<line x1="129.9" y1="943.25" x2="129.9" y2="942.73" stroke="#111" stroke-width="1.0"/>
<line x1="127.8" y1="942.73" x2="132" y2="942.73" stroke="#111" stroke-width="1.0"/>
<line x1="129.9" y1="943.25" x2="129.9" y2="944.02" stroke="#111" stroke-width="1.0"/>
<line x1="127.8" y1="944.02" x2="132" y2="944.02" stroke="#111" stroke-width="1.0"/>
<circle cx="128.4" cy="943.16" r="1.55" fill="#fff" stroke="#111" stroke-width="1.1"/>
<circle cx="131.4" cy="943.59" r="1.55" fill="#fff" stroke="#111" stroke-width="1.1"/>
<line x1="126.5" y1="943.85" x2="133.3" y2="943.85" stroke="#111" stroke-width="1.4"/>
<line x1="123.75" y1="945.75" x2="123.75" y2="949.75" stroke="#000" stroke-width="1.2"/>
<text x="123.75" y="962.25" font-size="9" text-anchor="middle">MP</text>
<text x="109.5" y="855.65" font-size="6.3" font-style="italic" fill="#222" textLength="28" lengthAdjust="spacingAndGlyphs">p=6.2E-06</text>
<line x1="117.3" y1="857.3" x2="131.4" y2="857.3" stroke="#111" stroke-width="1.25"/>
<rect x="139.5" y="878.22" width="8.5" height="67.53" fill="#2d4b84"/>
<line x1="143.75" y1="878.22" x2="143.75" y2="862.52" stroke="#111" stroke-width="1.0"/>
<line x1="141.65" y1="862.52" x2="145.85" y2="862.52" stroke="#111" stroke-width="1.0"/>
<line x1="143.75" y1="878.22" x2="143.75" y2="893.74" stroke="#111" stroke-width="1.0"/>
<line x1="141.65" y1="893.74" x2="145.85" y2="893.74" stroke="#111" stroke-width="1.0"/>
<circle cx="142" cy="862.52" r="1.75" fill="#111"/>
<circle cx="146" cy="863.04" r="1.75" fill="#111"/>
<circle cx="143.75" cy="886.24" r="1.75" fill="#111"/>
<circle cx="143.75" cy="900.04" r="1.75" fill="#111"/>
<rect x="152" y="941.26" width="8.5" height="4.49" fill="#b5073a"/>
<line x1="156.25" y1="941.26" x2="156.25" y2="939.71" stroke="#111" stroke-width="1.0"/>
<line x1="154.15" y1="939.71" x2="158.35" y2="939.71" stroke="#111" stroke-width="1.0"/>
<line x1="156.25" y1="941.26" x2="156.25" y2="943.16" stroke="#111" stroke-width="1.0"/>
<line x1="154.15" y1="943.16" x2="158.35" y2="943.16" stroke="#111" stroke-width="1.0"/>
<circle cx="154.25" cy="939.28" r="1.55" fill="#fff" stroke="#111" stroke-width="1.1"/>
<circle cx="158.25" cy="940.58" r="1.55" fill="#fff" stroke="#111" stroke-width="1.1"/>
<circle cx="156.25" cy="941.87" r="1.55" fill="#fff" stroke="#111" stroke-width="1.1"/>
<line x1="150" y1="945.75" x2="150" y2="949.75" stroke="#000" stroke-width="1.2"/>
<text x="150" y="962.25" font-size="9" text-anchor="middle">LSK</text>
<text x="136.25" y="845.65" font-size="6.3" font-style="italic" fill="#222" textLength="28.75" lengthAdjust="spacingAndGlyphs">p=2.1E-05</text>
<line x1="143.45" y1="847.8" x2="157.75" y2="847.8" stroke="#111" stroke-width="1.25"/>
<line x1="56.2" y1="945.75" x2="165" y2="945.75" stroke="#000" stroke-width="1.6"/>
<text x="189" y="900.9" font-size="12" text-anchor="middle" textLength="74.9" lengthAdjust="spacingAndGlyphs" transform="rotate(-90 189 900.9)">Donor percentage</text>
<line x1="219.25" y1="855" x2="219.25" y2="946.55" stroke="#000" stroke-width="1.6"/>
<line x1="215.75" y1="945.75" x2="219.25" y2="945.75" stroke="#000" stroke-width="1.2"/>
<text x="211.55" y="948.95" font-size="9" text-anchor="end">0</text>
<line x1="215.75" y1="928.5" x2="219.25" y2="928.5" stroke="#000" stroke-width="1.2"/>
<text x="211.55" y="931.7" font-size="9" text-anchor="end">20</text>
<line x1="215.75" y1="911.25" x2="219.25" y2="911.25" stroke="#000" stroke-width="1.2"/>
<text x="211.55" y="914.45" font-size="9" text-anchor="end">40</text>
<line x1="215.75" y1="894" x2="219.25" y2="894" stroke="#000" stroke-width="1.2"/>
<text x="211.55" y="897.2" font-size="9" text-anchor="end">60</text>
<line x1="215.75" y1="876.75" x2="219.25" y2="876.75" stroke="#000" stroke-width="1.2"/>
<text x="211.55" y="879.95" font-size="9" text-anchor="end">80</text>
<line x1="215.75" y1="859.5" x2="219.25" y2="859.5" stroke="#000" stroke-width="1.2"/>
<text x="211.55" y="862.7" font-size="9" text-anchor="end">100</text>
<rect x="223.85" y="887.96" width="8.5" height="57.79" fill="#2d4b84"/>
<line x1="228.1" y1="887.96" x2="228.1" y2="860.79" stroke="#111" stroke-width="1.0"/>
<line x1="226" y1="860.79" x2="230.2" y2="860.79" stroke="#111" stroke-width="1.0"/>
<line x1="228.1" y1="887.96" x2="228.1" y2="915.04" stroke="#111" stroke-width="1.0"/>
<line x1="226" y1="915.04" x2="230.2" y2="915.04" stroke="#111" stroke-width="1.0"/>
<circle cx="228.1" cy="860.79" r="1.75" fill="#111"/>
<circle cx="228.1" cy="868.3" r="1.75" fill="#111"/>
<circle cx="228.1" cy="880.03" r="1.75" fill="#111"/>
<circle cx="226.1" cy="916.25" r="1.75" fill="#111"/>
<circle cx="230.1" cy="914.53" r="1.75" fill="#111"/>
<rect x="235.95" y="944.15" width="8.5" height="1.6" fill="#b5073a"/>
<line x1="240.2" y1="944.15" x2="240.2" y2="944.89" stroke="#111" stroke-width="1.0"/>
<line x1="238.1" y1="944.89" x2="242.3" y2="944.89" stroke="#111" stroke-width="1.0"/>
<line x1="240.2" y1="944.15" x2="240.2" y2="945.75" stroke="#111" stroke-width="1.0"/>
<line x1="238.1" y1="945.75" x2="242.3" y2="945.75" stroke="#111" stroke-width="1.0"/>
<circle cx="238.7" cy="944.89" r="1.55" fill="#fff" stroke="#111" stroke-width="1.1"/>
<circle cx="241.7" cy="945.32" r="1.55" fill="#fff" stroke="#111" stroke-width="1.1"/>
<line x1="236.8" y1="943.85" x2="243.6" y2="943.85" stroke="#111" stroke-width="1.4"/>
<line x1="234.15" y1="945.75" x2="234.15" y2="949.75" stroke="#000" stroke-width="1.2"/>
<text x="234.15" y="962.25" font-size="9" text-anchor="middle">GMP</text>
<text x="220" y="853.15" font-size="6.3" font-style="italic" fill="#222" textLength="26.25" lengthAdjust="spacingAndGlyphs">p=0.0011</text>
<line x1="227.8" y1="854.8" x2="241.7" y2="854.8" stroke="#111" stroke-width="1.25"/>
<rect x="250.35" y="903.83" width="8.5" height="41.92" fill="#2d4b84"/>
<line x1="254.6" y1="903.83" x2="254.6" y2="883.13" stroke="#111" stroke-width="1.0"/>
<line x1="252.5" y1="883.13" x2="256.7" y2="883.13" stroke="#111" stroke-width="1.0"/>
<line x1="254.6" y1="903.83" x2="254.6" y2="923.76" stroke="#111" stroke-width="1.0"/>
<line x1="252.5" y1="923.76" x2="256.7" y2="923.76" stroke="#111" stroke-width="1.0"/>
<circle cx="254.6" cy="878.82" r="1.75" fill="#111"/>
<circle cx="254.6" cy="889.51" r="1.75" fill="#111"/>
<circle cx="254.6" cy="898.31" r="1.75" fill="#111"/>
<circle cx="252.6" cy="925.05" r="1.75" fill="#111"/>
<circle cx="256.6" cy="923.24" r="1.75" fill="#111"/>
<rect x="262.65" y="944.15" width="8.5" height="1.6" fill="#b5073a"/>
<line x1="266.9" y1="944.15" x2="266.9" y2="944.89" stroke="#111" stroke-width="1.0"/>
<line x1="264.8" y1="944.89" x2="269" y2="944.89" stroke="#111" stroke-width="1.0"/>
<line x1="266.9" y1="944.15" x2="266.9" y2="945.75" stroke="#111" stroke-width="1.0"/>
<line x1="264.8" y1="945.75" x2="269" y2="945.75" stroke="#111" stroke-width="1.0"/>
<circle cx="265.4" cy="944.89" r="1.55" fill="#fff" stroke="#111" stroke-width="1.1"/>
<circle cx="268.4" cy="945.32" r="1.55" fill="#fff" stroke="#111" stroke-width="1.1"/>
<line x1="263.5" y1="943.85" x2="270.3" y2="943.85" stroke="#111" stroke-width="1.4"/>
<line x1="260.75" y1="945.75" x2="260.75" y2="949.75" stroke="#000" stroke-width="1.2"/>
<text x="260.75" y="962.25" font-size="9" text-anchor="middle">MEP</text>
<text x="247.5" y="863.9" font-size="6.3" font-style="italic" fill="#222" textLength="26.25" lengthAdjust="spacingAndGlyphs">p=0.0016</text>
<line x1="254.3" y1="865.8" x2="268.4" y2="865.8" stroke="#111" stroke-width="1.25"/>
<rect x="277.25" y="884.51" width="8.5" height="61.24" fill="#2d4b84"/>
<line x1="281.5" y1="884.51" x2="281.5" y2="865.02" stroke="#111" stroke-width="1.0"/>
<line x1="279.4" y1="865.02" x2="283.6" y2="865.02" stroke="#111" stroke-width="1.0"/>
<line x1="281.5" y1="884.51" x2="281.5" y2="901.25" stroke="#111" stroke-width="1.0"/>
<line x1="279.4" y1="901.25" x2="283.6" y2="901.25" stroke="#111" stroke-width="1.0"/>
<circle cx="279.5" cy="865.02" r="1.75" fill="#111"/>
<circle cx="283.5" cy="867" r="1.75" fill="#111"/>
<circle cx="281.5" cy="880.03" r="1.75" fill="#111"/>
<circle cx="281.5" cy="900.04" r="1.75" fill="#111"/>
<circle cx="281.5" cy="908.66" r="1.75" fill="#111"/>
<rect x="289.35" y="944.15" width="8.5" height="1.6" fill="#b5073a"/>
<line x1="293.6" y1="944.15" x2="293.6" y2="944.89" stroke="#111" stroke-width="1.0"/>
<line x1="291.5" y1="944.89" x2="295.7" y2="944.89" stroke="#111" stroke-width="1.0"/>
<line x1="293.6" y1="944.15" x2="293.6" y2="945.75" stroke="#111" stroke-width="1.0"/>
<line x1="291.5" y1="945.75" x2="295.7" y2="945.75" stroke="#111" stroke-width="1.0"/>
<circle cx="292.1" cy="944.89" r="1.55" fill="#fff" stroke="#111" stroke-width="1.1"/>
<circle cx="295.1" cy="945.32" r="1.55" fill="#fff" stroke="#111" stroke-width="1.1"/>
<line x1="290.2" y1="943.85" x2="297" y2="943.85" stroke="#111" stroke-width="1.4"/>
<line x1="287.55" y1="945.75" x2="287.55" y2="949.75" stroke="#000" stroke-width="1.2"/>
<text x="287.55" y="962.25" font-size="9" text-anchor="middle">CMP</text>
<text x="272.5" y="853.15" font-size="6.3" font-style="italic" fill="#222" textLength="28.5" lengthAdjust="spacingAndGlyphs">p=9.1E-05</text>
<line x1="281.2" y1="854.8" x2="295.1" y2="854.8" stroke="#111" stroke-width="1.25"/>
<rect x="302" y="893.14" width="8.5" height="52.61" fill="#2d4b84"/>
<line x1="306.25" y1="893.14" x2="306.25" y2="868.3" stroke="#111" stroke-width="1.0"/>
<line x1="304.15" y1="868.3" x2="308.35" y2="868.3" stroke="#111" stroke-width="1.0"/>
<line x1="306.25" y1="893.14" x2="306.25" y2="916.25" stroke="#111" stroke-width="1.0"/>
<line x1="304.15" y1="916.25" x2="308.35" y2="916.25" stroke="#111" stroke-width="1.0"/>
<circle cx="306.25" cy="868.3" r="1.75" fill="#111"/>
<circle cx="306.25" cy="878.22" r="1.75" fill="#111"/>
<circle cx="306.25" cy="885.72" r="1.75" fill="#111"/>
<circle cx="304.25" cy="916.25" r="1.75" fill="#111"/>
<circle cx="308.25" cy="916.25" r="1.75" fill="#111"/>
<rect x="314.15" y="944.15" width="8.5" height="1.6" fill="#b5073a"/>
<line x1="318.4" y1="944.15" x2="318.4" y2="944.89" stroke="#111" stroke-width="1.0"/>
<line x1="316.3" y1="944.89" x2="320.5" y2="944.89" stroke="#111" stroke-width="1.0"/>
<line x1="318.4" y1="944.15" x2="318.4" y2="945.75" stroke="#111" stroke-width="1.0"/>
<line x1="316.3" y1="945.75" x2="320.5" y2="945.75" stroke="#111" stroke-width="1.0"/>
<circle cx="316.9" cy="944.89" r="1.55" fill="#fff" stroke="#111" stroke-width="1.1"/>
<circle cx="319.9" cy="945.32" r="1.55" fill="#fff" stroke="#111" stroke-width="1.1"/>
<line x1="315" y1="943.85" x2="321.8" y2="943.85" stroke="#111" stroke-width="1.4"/>
<line x1="312.32" y1="945.75" x2="312.32" y2="949.75" stroke="#000" stroke-width="1.2"/>
<text x="312.32" y="962.25" font-size="9" text-anchor="middle">LK</text>
<text x="298.75" y="863.9" font-size="6.3" font-style="italic" fill="#222" textLength="28.75" lengthAdjust="spacingAndGlyphs">p=6.6E-04</text>
<line x1="305.95" y1="865.8" x2="319.9" y2="865.8" stroke="#111" stroke-width="1.25"/>
<line x1="218.45" y1="945.75" x2="327.5" y2="945.75" stroke="#000" stroke-width="1.6"/>
<text x="351.8" y="900.9" font-size="12" text-anchor="middle" textLength="74.9" lengthAdjust="spacingAndGlyphs" transform="rotate(-90 351.8 900.9)">Donor percentage</text>
<line x1="382.5" y1="855" x2="382.5" y2="946.55" stroke="#000" stroke-width="1.6"/>
<line x1="379" y1="945.75" x2="382.5" y2="945.75" stroke="#000" stroke-width="1.2"/>
<text x="374.8" y="948.95" font-size="9" text-anchor="end">0</text>
<line x1="379" y1="928.5" x2="382.5" y2="928.5" stroke="#000" stroke-width="1.2"/>
<text x="374.8" y="931.7" font-size="9" text-anchor="end">20</text>
<line x1="379" y1="911.25" x2="382.5" y2="911.25" stroke="#000" stroke-width="1.2"/>
<text x="374.8" y="914.45" font-size="9" text-anchor="end">40</text>
<line x1="379" y1="894" x2="382.5" y2="894" stroke="#000" stroke-width="1.2"/>
<text x="374.8" y="897.2" font-size="9" text-anchor="end">60</text>
<line x1="379" y1="876.75" x2="382.5" y2="876.75" stroke="#000" stroke-width="1.2"/>
<text x="374.8" y="879.95" font-size="9" text-anchor="end">80</text>
<line x1="379" y1="859.5" x2="382.5" y2="859.5" stroke="#000" stroke-width="1.2"/>
<text x="374.8" y="862.7" font-size="9" text-anchor="end">100</text>
<rect x="387" y="881.84" width="8.5" height="63.91" fill="#2d4b84"/>
<line x1="391.25" y1="881.84" x2="391.25" y2="867" stroke="#111" stroke-width="1.0"/>
<line x1="389.15" y1="867" x2="393.35" y2="867" stroke="#111" stroke-width="1.0"/>
<line x1="391.25" y1="881.84" x2="391.25" y2="895.73" stroke="#111" stroke-width="1.0"/>
<line x1="389.15" y1="895.73" x2="393.35" y2="895.73" stroke="#111" stroke-width="1.0"/>
<circle cx="391.25" cy="863.29" r="1.75" fill="#111"/>
<circle cx="391.25" cy="872.01" r="1.75" fill="#111"/>
<circle cx="389" cy="897.02" r="1.75" fill="#111"/>
<circle cx="393.5" cy="895.55" r="1.75" fill="#111"/>
<rect x="399.35" y="943.77" width="8.5" height="1.98" fill="#b5073a"/>
<line x1="403.6" y1="943.77" x2="403.6" y2="941.44" stroke="#111" stroke-width="1.0"/>
<line x1="401.5" y1="941.44" x2="405.7" y2="941.44" stroke="#111" stroke-width="1.0"/>
<line x1="403.6" y1="943.77" x2="403.6" y2="945.75" stroke="#111" stroke-width="1.0"/>
<line x1="401.5" y1="945.75" x2="405.7" y2="945.75" stroke="#111" stroke-width="1.0"/>
<circle cx="401.6" cy="940.58" r="1.55" fill="#fff" stroke="#111" stroke-width="1.1"/>
<circle cx="405.6" cy="942.3" r="1.55" fill="#fff" stroke="#111" stroke-width="1.1"/>
<circle cx="403.6" cy="944.02" r="1.55" fill="#fff" stroke="#111" stroke-width="1.1"/>
<line x1="397.43" y1="945.75" x2="397.43" y2="949.75" stroke="#000" stroke-width="1.2"/>
<text x="397.43" y="962.25" font-size="9" text-anchor="middle">B220+</text>
<text x="384.5" y="858.15" font-size="6.3" font-style="italic" fill="#222" textLength="29.25" lengthAdjust="spacingAndGlyphs">p=1.2E-05</text>
<line x1="390.95" y1="860.3" x2="405.1" y2="860.3" stroke="#111" stroke-width="1.25"/>
<rect x="413.15" y="892.53" width="8.5" height="53.22" fill="#2d4b84"/>
<line x1="417.4" y1="892.53" x2="417.4" y2="884.51" stroke="#111" stroke-width="1.0"/>
<line x1="415.3" y1="884.51" x2="419.5" y2="884.51" stroke="#111" stroke-width="1.0"/>
<line x1="417.4" y1="892.53" x2="417.4" y2="900.73" stroke="#111" stroke-width="1.0"/>
<line x1="415.3" y1="900.73" x2="419.5" y2="900.73" stroke="#111" stroke-width="1.0"/>
<circle cx="417.4" cy="882.53" r="1.75" fill="#111"/>
<circle cx="415.4" cy="886.24" r="1.75" fill="#111"/>
<circle cx="419.4" cy="887.96" r="1.75" fill="#111"/>
<circle cx="417.4" cy="898.66" r="1.75" fill="#111"/>
<circle cx="415.4" cy="896.16" r="1.75" fill="#111"/>
<rect x="425.35" y="926.95" width="8.5" height="18.8" fill="#b5073a"/>
<line x1="429.6" y1="926.95" x2="429.6" y2="918.75" stroke="#111" stroke-width="1.0"/>
<line x1="427.5" y1="918.75" x2="431.7" y2="918.75" stroke="#111" stroke-width="1.0"/>
<line x1="429.6" y1="926.95" x2="429.6" y2="939.54" stroke="#111" stroke-width="1.0"/>
<line x1="427.5" y1="939.54" x2="431.7" y2="939.54" stroke="#111" stroke-width="1.0"/>
<circle cx="429.6" cy="914.96" r="1.55" fill="#fff" stroke="#111" stroke-width="1.1"/>
<circle cx="429.6" cy="919.53" r="1.55" fill="#fff" stroke="#111" stroke-width="1.1"/>
<circle cx="429.6" cy="922.98" r="1.55" fill="#fff" stroke="#111" stroke-width="1.1"/>
<circle cx="429.6" cy="929.97" r="1.55" fill="#fff" stroke="#111" stroke-width="1.1"/>
<circle cx="429.6" cy="937.9" r="1.55" fill="#fff" stroke="#111" stroke-width="1.1"/>
<line x1="423.5" y1="945.75" x2="423.5" y2="949.75" stroke="#000" stroke-width="1.2"/>
<text x="423.5" y="962.25" font-size="9" text-anchor="middle">CD3+</text>
<text x="408" y="874.4" font-size="6.3" font-style="italic" fill="#222" textLength="28.75" lengthAdjust="spacingAndGlyphs">p=1.9E-04</text>
<line x1="417.1" y1="876.55" x2="431.1" y2="876.55" stroke="#111" stroke-width="1.25"/>
<rect x="439.35" y="885.03" width="8.5" height="60.72" fill="#2d4b84"/>
<line x1="443.6" y1="885.03" x2="443.6" y2="861.23" stroke="#111" stroke-width="1.0"/>
<line x1="441.5" y1="861.23" x2="445.7" y2="861.23" stroke="#111" stroke-width="1.0"/>
<line x1="443.6" y1="885.03" x2="443.6" y2="909.52" stroke="#111" stroke-width="1.0"/>
<line x1="441.5" y1="909.52" x2="445.7" y2="909.52" stroke="#111" stroke-width="1.0"/>
<circle cx="443.6" cy="861.23" r="1.75" fill="#111"/>
<circle cx="443.6" cy="878.22" r="1.75" fill="#111"/>
<circle cx="443.6" cy="897.97" r="1.75" fill="#111"/>
<circle cx="443.6" cy="915.56" r="1.75" fill="#111"/>
<rect x="451.55" y="944.15" width="8.5" height="1.6" fill="#b5073a"/>
<line x1="455.8" y1="944.15" x2="455.8" y2="944.02" stroke="#111" stroke-width="1.0"/>
<line x1="453.7" y1="944.02" x2="457.9" y2="944.02" stroke="#111" stroke-width="1.0"/>
<line x1="455.8" y1="944.15" x2="455.8" y2="945.75" stroke="#111" stroke-width="1.0"/>
<line x1="453.7" y1="945.75" x2="457.9" y2="945.75" stroke="#111" stroke-width="1.0"/>
<circle cx="454.8" cy="941.44" r="1.55" fill="#fff" stroke="#111" stroke-width="1.1"/>
<circle cx="457.3" cy="944.89" r="1.55" fill="#fff" stroke="#111" stroke-width="1.1"/>
<line x1="452.4" y1="943.85" x2="459.2" y2="943.85" stroke="#111" stroke-width="1.4"/>
<line x1="449.7" y1="945.75" x2="449.7" y2="949.75" stroke="#000" stroke-width="1.2"/>
<text x="449.7" y="962.25" font-size="9" text-anchor="middle">Mac-</text>
<text x="449.7" y="972.45" font-size="9" text-anchor="middle">1+</text>
<text x="436.25" y="850.15" font-size="6.3" font-style="italic" fill="#222" textLength="28.75" lengthAdjust="spacingAndGlyphs">p=6.4E-04</text>
<line x1="443.3" y1="852.3" x2="457.3" y2="852.3" stroke="#111" stroke-width="1.25"/>
<rect x="465.15" y="884.51" width="8.5" height="61.24" fill="#2d4b84"/>
<line x1="469.4" y1="884.51" x2="469.4" y2="864.5" stroke="#111" stroke-width="1.0"/>
<line x1="467.3" y1="864.5" x2="471.5" y2="864.5" stroke="#111" stroke-width="1.0"/>
<line x1="469.4" y1="884.51" x2="469.4" y2="906.68" stroke="#111" stroke-width="1.0"/>
<line x1="467.3" y1="906.68" x2="471.5" y2="906.68" stroke="#111" stroke-width="1.0"/>
<circle cx="469.4" cy="864.5" r="1.75" fill="#111"/>
<circle cx="469.4" cy="869.85" r="1.75" fill="#111"/>
<circle cx="469.4" cy="878.73" r="1.75" fill="#111"/>
<circle cx="469.4" cy="900.04" r="1.75" fill="#111"/>
<circle cx="469.4" cy="908.66" r="1.75" fill="#111"/>
<rect x="477.35" y="944.15" width="8.5" height="1.6" fill="#b5073a"/>
<line x1="481.6" y1="944.15" x2="481.6" y2="944.02" stroke="#111" stroke-width="1.0"/>
<line x1="479.5" y1="944.02" x2="483.7" y2="944.02" stroke="#111" stroke-width="1.0"/>
<line x1="481.6" y1="944.15" x2="481.6" y2="945.75" stroke="#111" stroke-width="1.0"/>
<line x1="479.5" y1="945.75" x2="483.7" y2="945.75" stroke="#111" stroke-width="1.0"/>
<circle cx="480.1" cy="944.46" r="1.55" fill="#fff" stroke="#111" stroke-width="1.1"/>
<circle cx="483.1" cy="944.89" r="1.55" fill="#fff" stroke="#111" stroke-width="1.1"/>
<line x1="478.2" y1="943.85" x2="485" y2="943.85" stroke="#111" stroke-width="1.4"/>
<line x1="475.5" y1="945.75" x2="475.5" y2="949.75" stroke="#000" stroke-width="1.2"/>
<text x="475.5" y="962.25" font-size="9" text-anchor="middle">CD45+</text>
<text x="462.5" y="858.15" font-size="6.3" font-style="italic" fill="#222" textLength="27.5" lengthAdjust="spacingAndGlyphs">p=1.1E-04</text>
<line x1="469.1" y1="860.3" x2="483.1" y2="860.3" stroke="#111" stroke-width="1.25"/>
<line x1="381.7" y1="945.75" x2="490" y2="945.75" stroke="#000" stroke-width="1.6"/>
</svg></body></html>
